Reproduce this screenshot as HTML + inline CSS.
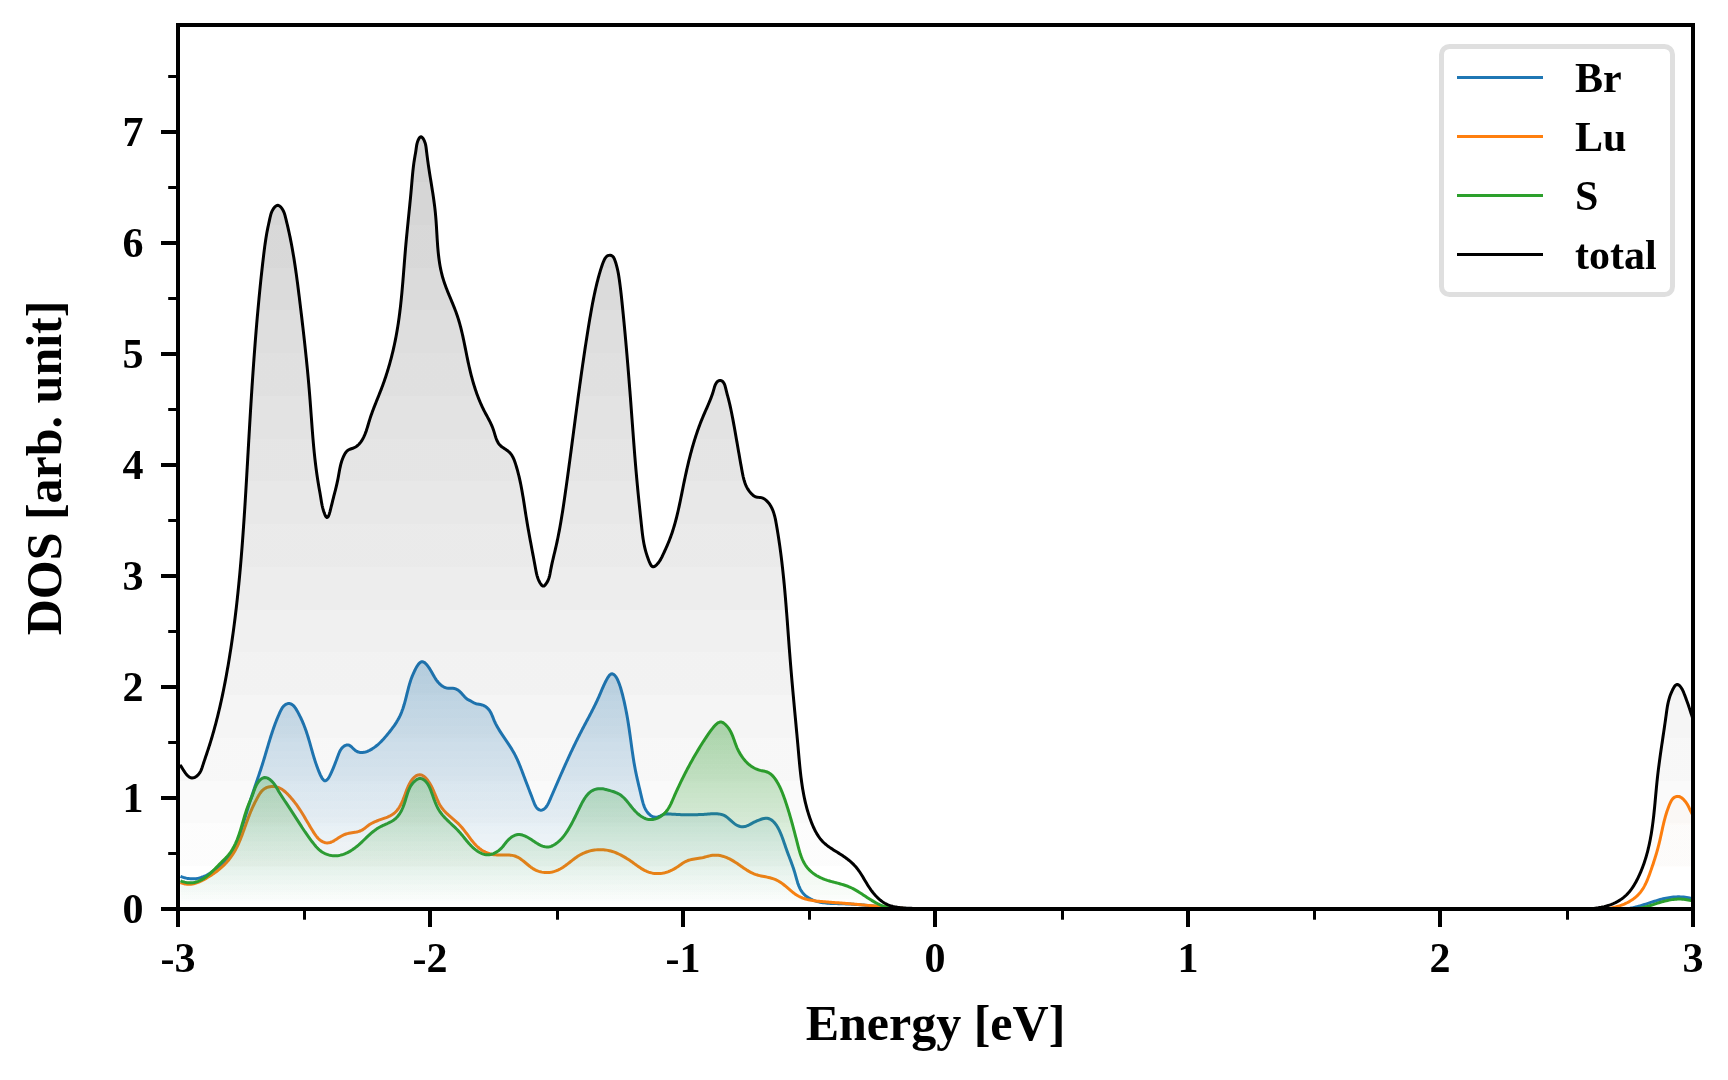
<!DOCTYPE html>
<html><head><meta charset="utf-8"><style>
html,body{margin:0;padding:0;background:#fff;}
svg{display:block;}
.t,.l{will-change:transform;}
.t{font-family:"Liberation Serif",serif;font-weight:bold;font-size:42px;fill:#000;}
.l{font-family:"Liberation Serif",serif;font-weight:bold;font-size:50px;fill:#000;}
</style></head><body>
<svg width="1728" height="1080" viewBox="0 0 1728 1080">
<defs><clipPath id="ax"><rect x="178.0" y="25.0" width="1515.0" height="884.0"/></clipPath><linearGradient id="g_br" gradientUnits="userSpaceOnUse" x1="0" y1="909.0" x2="0" y2="76.50"><stop offset="0.0000" stop-color="#1f77b4" stop-opacity="0.0000"/><stop offset="0.0100" stop-color="#1f77b4" stop-opacity="0.0000"/><stop offset="0.0100" stop-color="#1f77b4" stop-opacity="0.0101"/><stop offset="0.0200" stop-color="#1f77b4" stop-opacity="0.0101"/><stop offset="0.0200" stop-color="#1f77b4" stop-opacity="0.0202"/><stop offset="0.0300" stop-color="#1f77b4" stop-opacity="0.0202"/><stop offset="0.0300" stop-color="#1f77b4" stop-opacity="0.0303"/><stop offset="0.0400" stop-color="#1f77b4" stop-opacity="0.0303"/><stop offset="0.0400" stop-color="#1f77b4" stop-opacity="0.0404"/><stop offset="0.0500" stop-color="#1f77b4" stop-opacity="0.0404"/><stop offset="0.0500" stop-color="#1f77b4" stop-opacity="0.0505"/><stop offset="0.0600" stop-color="#1f77b4" stop-opacity="0.0505"/><stop offset="0.0600" stop-color="#1f77b4" stop-opacity="0.0606"/><stop offset="0.0700" stop-color="#1f77b4" stop-opacity="0.0606"/><stop offset="0.0700" stop-color="#1f77b4" stop-opacity="0.0707"/><stop offset="0.0800" stop-color="#1f77b4" stop-opacity="0.0707"/><stop offset="0.0800" stop-color="#1f77b4" stop-opacity="0.0808"/><stop offset="0.0900" stop-color="#1f77b4" stop-opacity="0.0808"/><stop offset="0.0900" stop-color="#1f77b4" stop-opacity="0.0909"/><stop offset="0.1000" stop-color="#1f77b4" stop-opacity="0.0909"/><stop offset="0.1000" stop-color="#1f77b4" stop-opacity="0.1010"/><stop offset="0.1100" stop-color="#1f77b4" stop-opacity="0.1010"/><stop offset="0.1100" stop-color="#1f77b4" stop-opacity="0.1111"/><stop offset="0.1200" stop-color="#1f77b4" stop-opacity="0.1111"/><stop offset="0.1200" stop-color="#1f77b4" stop-opacity="0.1212"/><stop offset="0.1300" stop-color="#1f77b4" stop-opacity="0.1212"/><stop offset="0.1300" stop-color="#1f77b4" stop-opacity="0.1313"/><stop offset="0.1400" stop-color="#1f77b4" stop-opacity="0.1313"/><stop offset="0.1400" stop-color="#1f77b4" stop-opacity="0.1414"/><stop offset="0.1500" stop-color="#1f77b4" stop-opacity="0.1414"/><stop offset="0.1500" stop-color="#1f77b4" stop-opacity="0.1515"/><stop offset="0.1600" stop-color="#1f77b4" stop-opacity="0.1515"/><stop offset="0.1600" stop-color="#1f77b4" stop-opacity="0.1616"/><stop offset="0.1700" stop-color="#1f77b4" stop-opacity="0.1616"/><stop offset="0.1700" stop-color="#1f77b4" stop-opacity="0.1717"/><stop offset="0.1800" stop-color="#1f77b4" stop-opacity="0.1717"/><stop offset="0.1800" stop-color="#1f77b4" stop-opacity="0.1818"/><stop offset="0.1900" stop-color="#1f77b4" stop-opacity="0.1818"/><stop offset="0.1900" stop-color="#1f77b4" stop-opacity="0.1919"/><stop offset="0.2000" stop-color="#1f77b4" stop-opacity="0.1919"/><stop offset="0.2000" stop-color="#1f77b4" stop-opacity="0.2020"/><stop offset="0.2100" stop-color="#1f77b4" stop-opacity="0.2020"/><stop offset="0.2100" stop-color="#1f77b4" stop-opacity="0.2121"/><stop offset="0.2200" stop-color="#1f77b4" stop-opacity="0.2121"/><stop offset="0.2200" stop-color="#1f77b4" stop-opacity="0.2222"/><stop offset="0.2300" stop-color="#1f77b4" stop-opacity="0.2222"/><stop offset="0.2300" stop-color="#1f77b4" stop-opacity="0.2323"/><stop offset="0.2400" stop-color="#1f77b4" stop-opacity="0.2323"/><stop offset="0.2400" stop-color="#1f77b4" stop-opacity="0.2424"/><stop offset="0.2500" stop-color="#1f77b4" stop-opacity="0.2424"/><stop offset="0.2500" stop-color="#1f77b4" stop-opacity="0.2525"/><stop offset="0.2600" stop-color="#1f77b4" stop-opacity="0.2525"/><stop offset="0.2600" stop-color="#1f77b4" stop-opacity="0.2626"/><stop offset="0.2700" stop-color="#1f77b4" stop-opacity="0.2626"/><stop offset="0.2700" stop-color="#1f77b4" stop-opacity="0.2727"/><stop offset="0.2800" stop-color="#1f77b4" stop-opacity="0.2727"/><stop offset="0.2800" stop-color="#1f77b4" stop-opacity="0.2828"/><stop offset="0.2900" stop-color="#1f77b4" stop-opacity="0.2828"/><stop offset="0.2900" stop-color="#1f77b4" stop-opacity="0.2929"/><stop offset="0.3000" stop-color="#1f77b4" stop-opacity="0.2929"/><stop offset="0.3000" stop-color="#1f77b4" stop-opacity="0.3030"/><stop offset="0.3100" stop-color="#1f77b4" stop-opacity="0.3030"/><stop offset="0.3100" stop-color="#1f77b4" stop-opacity="0.3131"/><stop offset="0.3200" stop-color="#1f77b4" stop-opacity="0.3131"/><stop offset="0.3200" stop-color="#1f77b4" stop-opacity="0.3232"/><stop offset="0.3300" stop-color="#1f77b4" stop-opacity="0.3232"/><stop offset="0.3300" stop-color="#1f77b4" stop-opacity="0.3333"/><stop offset="0.3400" stop-color="#1f77b4" stop-opacity="0.3333"/><stop offset="0.3400" stop-color="#1f77b4" stop-opacity="0.3434"/><stop offset="0.3500" stop-color="#1f77b4" stop-opacity="0.3434"/><stop offset="0.3500" stop-color="#1f77b4" stop-opacity="0.3535"/><stop offset="0.3600" stop-color="#1f77b4" stop-opacity="0.3535"/><stop offset="0.3600" stop-color="#1f77b4" stop-opacity="0.3636"/><stop offset="0.3700" stop-color="#1f77b4" stop-opacity="0.3636"/><stop offset="0.3700" stop-color="#1f77b4" stop-opacity="0.3737"/><stop offset="0.3800" stop-color="#1f77b4" stop-opacity="0.3737"/><stop offset="0.3800" stop-color="#1f77b4" stop-opacity="0.3838"/><stop offset="0.3900" stop-color="#1f77b4" stop-opacity="0.3838"/><stop offset="0.3900" stop-color="#1f77b4" stop-opacity="0.3939"/><stop offset="0.4000" stop-color="#1f77b4" stop-opacity="0.3939"/><stop offset="0.4000" stop-color="#1f77b4" stop-opacity="0.4040"/><stop offset="0.4100" stop-color="#1f77b4" stop-opacity="0.4040"/><stop offset="0.4100" stop-color="#1f77b4" stop-opacity="0.4141"/><stop offset="0.4200" stop-color="#1f77b4" stop-opacity="0.4141"/><stop offset="0.4200" stop-color="#1f77b4" stop-opacity="0.4242"/><stop offset="0.4300" stop-color="#1f77b4" stop-opacity="0.4242"/><stop offset="0.4300" stop-color="#1f77b4" stop-opacity="0.4343"/><stop offset="0.4400" stop-color="#1f77b4" stop-opacity="0.4343"/><stop offset="0.4400" stop-color="#1f77b4" stop-opacity="0.4444"/><stop offset="0.4500" stop-color="#1f77b4" stop-opacity="0.4444"/><stop offset="0.4500" stop-color="#1f77b4" stop-opacity="0.4545"/><stop offset="0.4600" stop-color="#1f77b4" stop-opacity="0.4545"/><stop offset="0.4600" stop-color="#1f77b4" stop-opacity="0.4646"/><stop offset="0.4700" stop-color="#1f77b4" stop-opacity="0.4646"/><stop offset="0.4700" stop-color="#1f77b4" stop-opacity="0.4747"/><stop offset="0.4800" stop-color="#1f77b4" stop-opacity="0.4747"/><stop offset="0.4800" stop-color="#1f77b4" stop-opacity="0.4848"/><stop offset="0.4900" stop-color="#1f77b4" stop-opacity="0.4848"/><stop offset="0.4900" stop-color="#1f77b4" stop-opacity="0.4949"/><stop offset="0.5000" stop-color="#1f77b4" stop-opacity="0.4949"/><stop offset="0.5000" stop-color="#1f77b4" stop-opacity="0.5051"/><stop offset="0.5100" stop-color="#1f77b4" stop-opacity="0.5051"/><stop offset="0.5100" stop-color="#1f77b4" stop-opacity="0.5152"/><stop offset="0.5200" stop-color="#1f77b4" stop-opacity="0.5152"/><stop offset="0.5200" stop-color="#1f77b4" stop-opacity="0.5253"/><stop offset="0.5300" stop-color="#1f77b4" stop-opacity="0.5253"/><stop offset="0.5300" stop-color="#1f77b4" stop-opacity="0.5354"/><stop offset="0.5400" stop-color="#1f77b4" stop-opacity="0.5354"/><stop offset="0.5400" stop-color="#1f77b4" stop-opacity="0.5455"/><stop offset="0.5500" stop-color="#1f77b4" stop-opacity="0.5455"/><stop offset="0.5500" stop-color="#1f77b4" stop-opacity="0.5556"/><stop offset="0.5600" stop-color="#1f77b4" stop-opacity="0.5556"/><stop offset="0.5600" stop-color="#1f77b4" stop-opacity="0.5657"/><stop offset="0.5700" stop-color="#1f77b4" stop-opacity="0.5657"/><stop offset="0.5700" stop-color="#1f77b4" stop-opacity="0.5758"/><stop offset="0.5800" stop-color="#1f77b4" stop-opacity="0.5758"/><stop offset="0.5800" stop-color="#1f77b4" stop-opacity="0.5859"/><stop offset="0.5900" stop-color="#1f77b4" stop-opacity="0.5859"/><stop offset="0.5900" stop-color="#1f77b4" stop-opacity="0.5960"/><stop offset="0.6000" stop-color="#1f77b4" stop-opacity="0.5960"/><stop offset="0.6000" stop-color="#1f77b4" stop-opacity="0.6061"/><stop offset="0.6100" stop-color="#1f77b4" stop-opacity="0.6061"/><stop offset="0.6100" stop-color="#1f77b4" stop-opacity="0.6162"/><stop offset="0.6200" stop-color="#1f77b4" stop-opacity="0.6162"/><stop offset="0.6200" stop-color="#1f77b4" stop-opacity="0.6263"/><stop offset="0.6300" stop-color="#1f77b4" stop-opacity="0.6263"/><stop offset="0.6300" stop-color="#1f77b4" stop-opacity="0.6364"/><stop offset="0.6400" stop-color="#1f77b4" stop-opacity="0.6364"/><stop offset="0.6400" stop-color="#1f77b4" stop-opacity="0.6465"/><stop offset="0.6500" stop-color="#1f77b4" stop-opacity="0.6465"/><stop offset="0.6500" stop-color="#1f77b4" stop-opacity="0.6566"/><stop offset="0.6600" stop-color="#1f77b4" stop-opacity="0.6566"/><stop offset="0.6600" stop-color="#1f77b4" stop-opacity="0.6667"/><stop offset="0.6700" stop-color="#1f77b4" stop-opacity="0.6667"/><stop offset="0.6700" stop-color="#1f77b4" stop-opacity="0.6768"/><stop offset="0.6800" stop-color="#1f77b4" stop-opacity="0.6768"/><stop offset="0.6800" stop-color="#1f77b4" stop-opacity="0.6869"/><stop offset="0.6900" stop-color="#1f77b4" stop-opacity="0.6869"/><stop offset="0.6900" stop-color="#1f77b4" stop-opacity="0.6970"/><stop offset="0.7000" stop-color="#1f77b4" stop-opacity="0.6970"/><stop offset="0.7000" stop-color="#1f77b4" stop-opacity="0.7071"/><stop offset="0.7100" stop-color="#1f77b4" stop-opacity="0.7071"/><stop offset="0.7100" stop-color="#1f77b4" stop-opacity="0.7172"/><stop offset="0.7200" stop-color="#1f77b4" stop-opacity="0.7172"/><stop offset="0.7200" stop-color="#1f77b4" stop-opacity="0.7273"/><stop offset="0.7300" stop-color="#1f77b4" stop-opacity="0.7273"/><stop offset="0.7300" stop-color="#1f77b4" stop-opacity="0.7374"/><stop offset="0.7400" stop-color="#1f77b4" stop-opacity="0.7374"/><stop offset="0.7400" stop-color="#1f77b4" stop-opacity="0.7475"/><stop offset="0.7500" stop-color="#1f77b4" stop-opacity="0.7475"/><stop offset="0.7500" stop-color="#1f77b4" stop-opacity="0.7576"/><stop offset="0.7600" stop-color="#1f77b4" stop-opacity="0.7576"/><stop offset="0.7600" stop-color="#1f77b4" stop-opacity="0.7677"/><stop offset="0.7700" stop-color="#1f77b4" stop-opacity="0.7677"/><stop offset="0.7700" stop-color="#1f77b4" stop-opacity="0.7778"/><stop offset="0.7800" stop-color="#1f77b4" stop-opacity="0.7778"/><stop offset="0.7800" stop-color="#1f77b4" stop-opacity="0.7879"/><stop offset="0.7900" stop-color="#1f77b4" stop-opacity="0.7879"/><stop offset="0.7900" stop-color="#1f77b4" stop-opacity="0.7980"/><stop offset="0.8000" stop-color="#1f77b4" stop-opacity="0.7980"/><stop offset="0.8000" stop-color="#1f77b4" stop-opacity="0.8081"/><stop offset="0.8100" stop-color="#1f77b4" stop-opacity="0.8081"/><stop offset="0.8100" stop-color="#1f77b4" stop-opacity="0.8182"/><stop offset="0.8200" stop-color="#1f77b4" stop-opacity="0.8182"/><stop offset="0.8200" stop-color="#1f77b4" stop-opacity="0.8283"/><stop offset="0.8300" stop-color="#1f77b4" stop-opacity="0.8283"/><stop offset="0.8300" stop-color="#1f77b4" stop-opacity="0.8384"/><stop offset="0.8400" stop-color="#1f77b4" stop-opacity="0.8384"/><stop offset="0.8400" stop-color="#1f77b4" stop-opacity="0.8485"/><stop offset="0.8500" stop-color="#1f77b4" stop-opacity="0.8485"/><stop offset="0.8500" stop-color="#1f77b4" stop-opacity="0.8586"/><stop offset="0.8600" stop-color="#1f77b4" stop-opacity="0.8586"/><stop offset="0.8600" stop-color="#1f77b4" stop-opacity="0.8687"/><stop offset="0.8700" stop-color="#1f77b4" stop-opacity="0.8687"/><stop offset="0.8700" stop-color="#1f77b4" stop-opacity="0.8788"/><stop offset="0.8800" stop-color="#1f77b4" stop-opacity="0.8788"/><stop offset="0.8800" stop-color="#1f77b4" stop-opacity="0.8889"/><stop offset="0.8900" stop-color="#1f77b4" stop-opacity="0.8889"/><stop offset="0.8900" stop-color="#1f77b4" stop-opacity="0.8990"/><stop offset="0.9000" stop-color="#1f77b4" stop-opacity="0.8990"/><stop offset="0.9000" stop-color="#1f77b4" stop-opacity="0.9091"/><stop offset="0.9100" stop-color="#1f77b4" stop-opacity="0.9091"/><stop offset="0.9100" stop-color="#1f77b4" stop-opacity="0.9192"/><stop offset="0.9200" stop-color="#1f77b4" stop-opacity="0.9192"/><stop offset="0.9200" stop-color="#1f77b4" stop-opacity="0.9293"/><stop offset="0.9300" stop-color="#1f77b4" stop-opacity="0.9293"/><stop offset="0.9300" stop-color="#1f77b4" stop-opacity="0.9394"/><stop offset="0.9400" stop-color="#1f77b4" stop-opacity="0.9394"/><stop offset="0.9400" stop-color="#1f77b4" stop-opacity="0.9495"/><stop offset="0.9500" stop-color="#1f77b4" stop-opacity="0.9495"/><stop offset="0.9500" stop-color="#1f77b4" stop-opacity="0.9596"/><stop offset="0.9600" stop-color="#1f77b4" stop-opacity="0.9596"/><stop offset="0.9600" stop-color="#1f77b4" stop-opacity="0.9697"/><stop offset="0.9700" stop-color="#1f77b4" stop-opacity="0.9697"/><stop offset="0.9700" stop-color="#1f77b4" stop-opacity="0.9798"/><stop offset="0.9800" stop-color="#1f77b4" stop-opacity="0.9798"/><stop offset="0.9800" stop-color="#1f77b4" stop-opacity="0.9899"/><stop offset="0.9900" stop-color="#1f77b4" stop-opacity="0.9899"/><stop offset="0.9900" stop-color="#1f77b4" stop-opacity="1.0000"/><stop offset="1.0000" stop-color="#1f77b4" stop-opacity="1.0000"/></linearGradient><linearGradient id="g_lu" gradientUnits="userSpaceOnUse" x1="0" y1="909.0" x2="0" y2="-3309.00"><stop offset="0.0000" stop-color="#ff7f0e" stop-opacity="0.0000"/><stop offset="0.0100" stop-color="#ff7f0e" stop-opacity="0.0000"/><stop offset="0.0100" stop-color="#ff7f0e" stop-opacity="0.0101"/><stop offset="0.0200" stop-color="#ff7f0e" stop-opacity="0.0101"/><stop offset="0.0200" stop-color="#ff7f0e" stop-opacity="0.0202"/><stop offset="0.0300" stop-color="#ff7f0e" stop-opacity="0.0202"/><stop offset="0.0300" stop-color="#ff7f0e" stop-opacity="0.0303"/><stop offset="0.0400" stop-color="#ff7f0e" stop-opacity="0.0303"/><stop offset="0.0400" stop-color="#ff7f0e" stop-opacity="0.0404"/><stop offset="0.0500" stop-color="#ff7f0e" stop-opacity="0.0404"/><stop offset="0.0500" stop-color="#ff7f0e" stop-opacity="0.0505"/><stop offset="0.0600" stop-color="#ff7f0e" stop-opacity="0.0505"/><stop offset="0.0600" stop-color="#ff7f0e" stop-opacity="0.0606"/><stop offset="0.0700" stop-color="#ff7f0e" stop-opacity="0.0606"/><stop offset="0.0700" stop-color="#ff7f0e" stop-opacity="0.0707"/><stop offset="0.0800" stop-color="#ff7f0e" stop-opacity="0.0707"/><stop offset="0.0800" stop-color="#ff7f0e" stop-opacity="0.0808"/><stop offset="0.0900" stop-color="#ff7f0e" stop-opacity="0.0808"/><stop offset="0.0900" stop-color="#ff7f0e" stop-opacity="0.0909"/><stop offset="0.1000" stop-color="#ff7f0e" stop-opacity="0.0909"/><stop offset="0.1000" stop-color="#ff7f0e" stop-opacity="0.1010"/><stop offset="0.1100" stop-color="#ff7f0e" stop-opacity="0.1010"/><stop offset="0.1100" stop-color="#ff7f0e" stop-opacity="0.1111"/><stop offset="0.1200" stop-color="#ff7f0e" stop-opacity="0.1111"/><stop offset="0.1200" stop-color="#ff7f0e" stop-opacity="0.1212"/><stop offset="0.1300" stop-color="#ff7f0e" stop-opacity="0.1212"/><stop offset="0.1300" stop-color="#ff7f0e" stop-opacity="0.1313"/><stop offset="0.1400" stop-color="#ff7f0e" stop-opacity="0.1313"/><stop offset="0.1400" stop-color="#ff7f0e" stop-opacity="0.1414"/><stop offset="0.1500" stop-color="#ff7f0e" stop-opacity="0.1414"/><stop offset="0.1500" stop-color="#ff7f0e" stop-opacity="0.1515"/><stop offset="0.1600" stop-color="#ff7f0e" stop-opacity="0.1515"/><stop offset="0.1600" stop-color="#ff7f0e" stop-opacity="0.1616"/><stop offset="0.1700" stop-color="#ff7f0e" stop-opacity="0.1616"/><stop offset="0.1700" stop-color="#ff7f0e" stop-opacity="0.1717"/><stop offset="0.1800" stop-color="#ff7f0e" stop-opacity="0.1717"/><stop offset="0.1800" stop-color="#ff7f0e" stop-opacity="0.1818"/><stop offset="0.1900" stop-color="#ff7f0e" stop-opacity="0.1818"/><stop offset="0.1900" stop-color="#ff7f0e" stop-opacity="0.1919"/><stop offset="0.2000" stop-color="#ff7f0e" stop-opacity="0.1919"/><stop offset="0.2000" stop-color="#ff7f0e" stop-opacity="0.2020"/><stop offset="0.2100" stop-color="#ff7f0e" stop-opacity="0.2020"/><stop offset="0.2100" stop-color="#ff7f0e" stop-opacity="0.2121"/><stop offset="0.2200" stop-color="#ff7f0e" stop-opacity="0.2121"/></linearGradient><linearGradient id="g_s" gradientUnits="userSpaceOnUse" x1="0" y1="909.0" x2="0" y2="426.15"><stop offset="0.0000" stop-color="#2ca02c" stop-opacity="0.0000"/><stop offset="0.0100" stop-color="#2ca02c" stop-opacity="0.0000"/><stop offset="0.0100" stop-color="#2ca02c" stop-opacity="0.0101"/><stop offset="0.0200" stop-color="#2ca02c" stop-opacity="0.0101"/><stop offset="0.0200" stop-color="#2ca02c" stop-opacity="0.0202"/><stop offset="0.0300" stop-color="#2ca02c" stop-opacity="0.0202"/><stop offset="0.0300" stop-color="#2ca02c" stop-opacity="0.0303"/><stop offset="0.0400" stop-color="#2ca02c" stop-opacity="0.0303"/><stop offset="0.0400" stop-color="#2ca02c" stop-opacity="0.0404"/><stop offset="0.0500" stop-color="#2ca02c" stop-opacity="0.0404"/><stop offset="0.0500" stop-color="#2ca02c" stop-opacity="0.0505"/><stop offset="0.0600" stop-color="#2ca02c" stop-opacity="0.0505"/><stop offset="0.0600" stop-color="#2ca02c" stop-opacity="0.0606"/><stop offset="0.0700" stop-color="#2ca02c" stop-opacity="0.0606"/><stop offset="0.0700" stop-color="#2ca02c" stop-opacity="0.0707"/><stop offset="0.0800" stop-color="#2ca02c" stop-opacity="0.0707"/><stop offset="0.0800" stop-color="#2ca02c" stop-opacity="0.0808"/><stop offset="0.0900" stop-color="#2ca02c" stop-opacity="0.0808"/><stop offset="0.0900" stop-color="#2ca02c" stop-opacity="0.0909"/><stop offset="0.1000" stop-color="#2ca02c" stop-opacity="0.0909"/><stop offset="0.1000" stop-color="#2ca02c" stop-opacity="0.1010"/><stop offset="0.1100" stop-color="#2ca02c" stop-opacity="0.1010"/><stop offset="0.1100" stop-color="#2ca02c" stop-opacity="0.1111"/><stop offset="0.1200" stop-color="#2ca02c" stop-opacity="0.1111"/><stop offset="0.1200" stop-color="#2ca02c" stop-opacity="0.1212"/><stop offset="0.1300" stop-color="#2ca02c" stop-opacity="0.1212"/><stop offset="0.1300" stop-color="#2ca02c" stop-opacity="0.1313"/><stop offset="0.1400" stop-color="#2ca02c" stop-opacity="0.1313"/><stop offset="0.1400" stop-color="#2ca02c" stop-opacity="0.1414"/><stop offset="0.1500" stop-color="#2ca02c" stop-opacity="0.1414"/><stop offset="0.1500" stop-color="#2ca02c" stop-opacity="0.1515"/><stop offset="0.1600" stop-color="#2ca02c" stop-opacity="0.1515"/><stop offset="0.1600" stop-color="#2ca02c" stop-opacity="0.1616"/><stop offset="0.1700" stop-color="#2ca02c" stop-opacity="0.1616"/><stop offset="0.1700" stop-color="#2ca02c" stop-opacity="0.1717"/><stop offset="0.1800" stop-color="#2ca02c" stop-opacity="0.1717"/><stop offset="0.1800" stop-color="#2ca02c" stop-opacity="0.1818"/><stop offset="0.1900" stop-color="#2ca02c" stop-opacity="0.1818"/><stop offset="0.1900" stop-color="#2ca02c" stop-opacity="0.1919"/><stop offset="0.2000" stop-color="#2ca02c" stop-opacity="0.1919"/><stop offset="0.2000" stop-color="#2ca02c" stop-opacity="0.2020"/><stop offset="0.2100" stop-color="#2ca02c" stop-opacity="0.2020"/><stop offset="0.2100" stop-color="#2ca02c" stop-opacity="0.2121"/><stop offset="0.2200" stop-color="#2ca02c" stop-opacity="0.2121"/><stop offset="0.2200" stop-color="#2ca02c" stop-opacity="0.2222"/><stop offset="0.2300" stop-color="#2ca02c" stop-opacity="0.2222"/><stop offset="0.2300" stop-color="#2ca02c" stop-opacity="0.2323"/><stop offset="0.2400" stop-color="#2ca02c" stop-opacity="0.2323"/><stop offset="0.2400" stop-color="#2ca02c" stop-opacity="0.2424"/><stop offset="0.2500" stop-color="#2ca02c" stop-opacity="0.2424"/><stop offset="0.2500" stop-color="#2ca02c" stop-opacity="0.2525"/><stop offset="0.2600" stop-color="#2ca02c" stop-opacity="0.2525"/><stop offset="0.2600" stop-color="#2ca02c" stop-opacity="0.2626"/><stop offset="0.2700" stop-color="#2ca02c" stop-opacity="0.2626"/><stop offset="0.2700" stop-color="#2ca02c" stop-opacity="0.2727"/><stop offset="0.2800" stop-color="#2ca02c" stop-opacity="0.2727"/><stop offset="0.2800" stop-color="#2ca02c" stop-opacity="0.2828"/><stop offset="0.2900" stop-color="#2ca02c" stop-opacity="0.2828"/><stop offset="0.2900" stop-color="#2ca02c" stop-opacity="0.2929"/><stop offset="0.3000" stop-color="#2ca02c" stop-opacity="0.2929"/><stop offset="0.3000" stop-color="#2ca02c" stop-opacity="0.3030"/><stop offset="0.3100" stop-color="#2ca02c" stop-opacity="0.3030"/><stop offset="0.3100" stop-color="#2ca02c" stop-opacity="0.3131"/><stop offset="0.3200" stop-color="#2ca02c" stop-opacity="0.3131"/><stop offset="0.3200" stop-color="#2ca02c" stop-opacity="0.3232"/><stop offset="0.3300" stop-color="#2ca02c" stop-opacity="0.3232"/><stop offset="0.3300" stop-color="#2ca02c" stop-opacity="0.3333"/><stop offset="0.3400" stop-color="#2ca02c" stop-opacity="0.3333"/><stop offset="0.3400" stop-color="#2ca02c" stop-opacity="0.3434"/><stop offset="0.3500" stop-color="#2ca02c" stop-opacity="0.3434"/><stop offset="0.3500" stop-color="#2ca02c" stop-opacity="0.3535"/><stop offset="0.3600" stop-color="#2ca02c" stop-opacity="0.3535"/><stop offset="0.3600" stop-color="#2ca02c" stop-opacity="0.3636"/><stop offset="0.3700" stop-color="#2ca02c" stop-opacity="0.3636"/><stop offset="0.3700" stop-color="#2ca02c" stop-opacity="0.3737"/><stop offset="0.3800" stop-color="#2ca02c" stop-opacity="0.3737"/><stop offset="0.3800" stop-color="#2ca02c" stop-opacity="0.3838"/><stop offset="0.3900" stop-color="#2ca02c" stop-opacity="0.3838"/><stop offset="0.3900" stop-color="#2ca02c" stop-opacity="0.3939"/><stop offset="0.4000" stop-color="#2ca02c" stop-opacity="0.3939"/><stop offset="0.4000" stop-color="#2ca02c" stop-opacity="0.4040"/><stop offset="0.4100" stop-color="#2ca02c" stop-opacity="0.4040"/><stop offset="0.4100" stop-color="#2ca02c" stop-opacity="0.4141"/><stop offset="0.4200" stop-color="#2ca02c" stop-opacity="0.4141"/><stop offset="0.4200" stop-color="#2ca02c" stop-opacity="0.4242"/><stop offset="0.4300" stop-color="#2ca02c" stop-opacity="0.4242"/><stop offset="0.4300" stop-color="#2ca02c" stop-opacity="0.4343"/><stop offset="0.4400" stop-color="#2ca02c" stop-opacity="0.4343"/><stop offset="0.4400" stop-color="#2ca02c" stop-opacity="0.4444"/><stop offset="0.4500" stop-color="#2ca02c" stop-opacity="0.4444"/><stop offset="0.4500" stop-color="#2ca02c" stop-opacity="0.4545"/><stop offset="0.4600" stop-color="#2ca02c" stop-opacity="0.4545"/><stop offset="0.4600" stop-color="#2ca02c" stop-opacity="0.4646"/><stop offset="0.4700" stop-color="#2ca02c" stop-opacity="0.4646"/><stop offset="0.4700" stop-color="#2ca02c" stop-opacity="0.4747"/><stop offset="0.4800" stop-color="#2ca02c" stop-opacity="0.4747"/><stop offset="0.4800" stop-color="#2ca02c" stop-opacity="0.4848"/><stop offset="0.4900" stop-color="#2ca02c" stop-opacity="0.4848"/><stop offset="0.4900" stop-color="#2ca02c" stop-opacity="0.4949"/><stop offset="0.5000" stop-color="#2ca02c" stop-opacity="0.4949"/><stop offset="0.5000" stop-color="#2ca02c" stop-opacity="0.5051"/><stop offset="0.5100" stop-color="#2ca02c" stop-opacity="0.5051"/><stop offset="0.5100" stop-color="#2ca02c" stop-opacity="0.5152"/><stop offset="0.5200" stop-color="#2ca02c" stop-opacity="0.5152"/><stop offset="0.5200" stop-color="#2ca02c" stop-opacity="0.5253"/><stop offset="0.5300" stop-color="#2ca02c" stop-opacity="0.5253"/><stop offset="0.5300" stop-color="#2ca02c" stop-opacity="0.5354"/><stop offset="0.5400" stop-color="#2ca02c" stop-opacity="0.5354"/><stop offset="0.5400" stop-color="#2ca02c" stop-opacity="0.5455"/><stop offset="0.5500" stop-color="#2ca02c" stop-opacity="0.5455"/><stop offset="0.5500" stop-color="#2ca02c" stop-opacity="0.5556"/><stop offset="0.5600" stop-color="#2ca02c" stop-opacity="0.5556"/><stop offset="0.5600" stop-color="#2ca02c" stop-opacity="0.5657"/><stop offset="0.5700" stop-color="#2ca02c" stop-opacity="0.5657"/><stop offset="0.5700" stop-color="#2ca02c" stop-opacity="0.5758"/><stop offset="0.5800" stop-color="#2ca02c" stop-opacity="0.5758"/><stop offset="0.5800" stop-color="#2ca02c" stop-opacity="0.5859"/><stop offset="0.5900" stop-color="#2ca02c" stop-opacity="0.5859"/><stop offset="0.5900" stop-color="#2ca02c" stop-opacity="0.5960"/><stop offset="0.6000" stop-color="#2ca02c" stop-opacity="0.5960"/><stop offset="0.6000" stop-color="#2ca02c" stop-opacity="0.6061"/><stop offset="0.6100" stop-color="#2ca02c" stop-opacity="0.6061"/><stop offset="0.6100" stop-color="#2ca02c" stop-opacity="0.6162"/><stop offset="0.6200" stop-color="#2ca02c" stop-opacity="0.6162"/><stop offset="0.6200" stop-color="#2ca02c" stop-opacity="0.6263"/><stop offset="0.6300" stop-color="#2ca02c" stop-opacity="0.6263"/><stop offset="0.6300" stop-color="#2ca02c" stop-opacity="0.6364"/><stop offset="0.6400" stop-color="#2ca02c" stop-opacity="0.6364"/><stop offset="0.6400" stop-color="#2ca02c" stop-opacity="0.6465"/><stop offset="0.6500" stop-color="#2ca02c" stop-opacity="0.6465"/><stop offset="0.6500" stop-color="#2ca02c" stop-opacity="0.6566"/><stop offset="0.6600" stop-color="#2ca02c" stop-opacity="0.6566"/><stop offset="0.6600" stop-color="#2ca02c" stop-opacity="0.6667"/><stop offset="0.6700" stop-color="#2ca02c" stop-opacity="0.6667"/><stop offset="0.6700" stop-color="#2ca02c" stop-opacity="0.6768"/><stop offset="0.6800" stop-color="#2ca02c" stop-opacity="0.6768"/><stop offset="0.6800" stop-color="#2ca02c" stop-opacity="0.6869"/><stop offset="0.6900" stop-color="#2ca02c" stop-opacity="0.6869"/><stop offset="0.6900" stop-color="#2ca02c" stop-opacity="0.6970"/><stop offset="0.7000" stop-color="#2ca02c" stop-opacity="0.6970"/><stop offset="0.7000" stop-color="#2ca02c" stop-opacity="0.7071"/><stop offset="0.7100" stop-color="#2ca02c" stop-opacity="0.7071"/><stop offset="0.7100" stop-color="#2ca02c" stop-opacity="0.7172"/><stop offset="0.7200" stop-color="#2ca02c" stop-opacity="0.7172"/><stop offset="0.7200" stop-color="#2ca02c" stop-opacity="0.7273"/><stop offset="0.7300" stop-color="#2ca02c" stop-opacity="0.7273"/><stop offset="0.7300" stop-color="#2ca02c" stop-opacity="0.7374"/><stop offset="0.7400" stop-color="#2ca02c" stop-opacity="0.7374"/><stop offset="0.7400" stop-color="#2ca02c" stop-opacity="0.7475"/><stop offset="0.7500" stop-color="#2ca02c" stop-opacity="0.7475"/><stop offset="0.7500" stop-color="#2ca02c" stop-opacity="0.7576"/><stop offset="0.7600" stop-color="#2ca02c" stop-opacity="0.7576"/><stop offset="0.7600" stop-color="#2ca02c" stop-opacity="0.7677"/><stop offset="0.7700" stop-color="#2ca02c" stop-opacity="0.7677"/><stop offset="0.7700" stop-color="#2ca02c" stop-opacity="0.7778"/><stop offset="0.7800" stop-color="#2ca02c" stop-opacity="0.7778"/><stop offset="0.7800" stop-color="#2ca02c" stop-opacity="0.7879"/><stop offset="0.7900" stop-color="#2ca02c" stop-opacity="0.7879"/><stop offset="0.7900" stop-color="#2ca02c" stop-opacity="0.7980"/><stop offset="0.8000" stop-color="#2ca02c" stop-opacity="0.7980"/><stop offset="0.8000" stop-color="#2ca02c" stop-opacity="0.8081"/><stop offset="0.8100" stop-color="#2ca02c" stop-opacity="0.8081"/><stop offset="0.8100" stop-color="#2ca02c" stop-opacity="0.8182"/><stop offset="0.8200" stop-color="#2ca02c" stop-opacity="0.8182"/><stop offset="0.8200" stop-color="#2ca02c" stop-opacity="0.8283"/><stop offset="0.8300" stop-color="#2ca02c" stop-opacity="0.8283"/><stop offset="0.8300" stop-color="#2ca02c" stop-opacity="0.8384"/><stop offset="0.8400" stop-color="#2ca02c" stop-opacity="0.8384"/><stop offset="0.8400" stop-color="#2ca02c" stop-opacity="0.8485"/><stop offset="0.8500" stop-color="#2ca02c" stop-opacity="0.8485"/><stop offset="0.8500" stop-color="#2ca02c" stop-opacity="0.8586"/><stop offset="0.8600" stop-color="#2ca02c" stop-opacity="0.8586"/><stop offset="0.8600" stop-color="#2ca02c" stop-opacity="0.8687"/><stop offset="0.8700" stop-color="#2ca02c" stop-opacity="0.8687"/><stop offset="0.8700" stop-color="#2ca02c" stop-opacity="0.8788"/><stop offset="0.8800" stop-color="#2ca02c" stop-opacity="0.8788"/><stop offset="0.8800" stop-color="#2ca02c" stop-opacity="0.8889"/><stop offset="0.8900" stop-color="#2ca02c" stop-opacity="0.8889"/><stop offset="0.8900" stop-color="#2ca02c" stop-opacity="0.8990"/><stop offset="0.9000" stop-color="#2ca02c" stop-opacity="0.8990"/><stop offset="0.9000" stop-color="#2ca02c" stop-opacity="0.9091"/><stop offset="0.9100" stop-color="#2ca02c" stop-opacity="0.9091"/><stop offset="0.9100" stop-color="#2ca02c" stop-opacity="0.9192"/><stop offset="0.9200" stop-color="#2ca02c" stop-opacity="0.9192"/><stop offset="0.9200" stop-color="#2ca02c" stop-opacity="0.9293"/><stop offset="0.9300" stop-color="#2ca02c" stop-opacity="0.9293"/><stop offset="0.9300" stop-color="#2ca02c" stop-opacity="0.9394"/><stop offset="0.9400" stop-color="#2ca02c" stop-opacity="0.9394"/><stop offset="0.9400" stop-color="#2ca02c" stop-opacity="0.9495"/><stop offset="0.9500" stop-color="#2ca02c" stop-opacity="0.9495"/><stop offset="0.9500" stop-color="#2ca02c" stop-opacity="0.9596"/><stop offset="0.9600" stop-color="#2ca02c" stop-opacity="0.9596"/><stop offset="0.9600" stop-color="#2ca02c" stop-opacity="0.9697"/><stop offset="0.9700" stop-color="#2ca02c" stop-opacity="0.9697"/><stop offset="0.9700" stop-color="#2ca02c" stop-opacity="0.9798"/><stop offset="0.9800" stop-color="#2ca02c" stop-opacity="0.9798"/><stop offset="0.9800" stop-color="#2ca02c" stop-opacity="0.9899"/><stop offset="0.9900" stop-color="#2ca02c" stop-opacity="0.9899"/><stop offset="0.9900" stop-color="#2ca02c" stop-opacity="1.0000"/><stop offset="1.0000" stop-color="#2ca02c" stop-opacity="1.0000"/></linearGradient><linearGradient id="g_total" gradientUnits="userSpaceOnUse" x1="0" y1="909.0" x2="0" y2="-3366.72"><stop offset="0.0000" stop-color="#000000" stop-opacity="0.0000"/><stop offset="0.0100" stop-color="#000000" stop-opacity="0.0000"/><stop offset="0.0100" stop-color="#000000" stop-opacity="0.0101"/><stop offset="0.0200" stop-color="#000000" stop-opacity="0.0101"/><stop offset="0.0200" stop-color="#000000" stop-opacity="0.0202"/><stop offset="0.0300" stop-color="#000000" stop-opacity="0.0202"/><stop offset="0.0300" stop-color="#000000" stop-opacity="0.0303"/><stop offset="0.0400" stop-color="#000000" stop-opacity="0.0303"/><stop offset="0.0400" stop-color="#000000" stop-opacity="0.0404"/><stop offset="0.0500" stop-color="#000000" stop-opacity="0.0404"/><stop offset="0.0500" stop-color="#000000" stop-opacity="0.0505"/><stop offset="0.0600" stop-color="#000000" stop-opacity="0.0505"/><stop offset="0.0600" stop-color="#000000" stop-opacity="0.0606"/><stop offset="0.0700" stop-color="#000000" stop-opacity="0.0606"/><stop offset="0.0700" stop-color="#000000" stop-opacity="0.0707"/><stop offset="0.0800" stop-color="#000000" stop-opacity="0.0707"/><stop offset="0.0800" stop-color="#000000" stop-opacity="0.0808"/><stop offset="0.0900" stop-color="#000000" stop-opacity="0.0808"/><stop offset="0.0900" stop-color="#000000" stop-opacity="0.0909"/><stop offset="0.1000" stop-color="#000000" stop-opacity="0.0909"/><stop offset="0.1000" stop-color="#000000" stop-opacity="0.1010"/><stop offset="0.1100" stop-color="#000000" stop-opacity="0.1010"/><stop offset="0.1100" stop-color="#000000" stop-opacity="0.1111"/><stop offset="0.1200" stop-color="#000000" stop-opacity="0.1111"/><stop offset="0.1200" stop-color="#000000" stop-opacity="0.1212"/><stop offset="0.1300" stop-color="#000000" stop-opacity="0.1212"/><stop offset="0.1300" stop-color="#000000" stop-opacity="0.1313"/><stop offset="0.1400" stop-color="#000000" stop-opacity="0.1313"/><stop offset="0.1400" stop-color="#000000" stop-opacity="0.1414"/><stop offset="0.1500" stop-color="#000000" stop-opacity="0.1414"/><stop offset="0.1500" stop-color="#000000" stop-opacity="0.1515"/><stop offset="0.1600" stop-color="#000000" stop-opacity="0.1515"/><stop offset="0.1600" stop-color="#000000" stop-opacity="0.1616"/><stop offset="0.1700" stop-color="#000000" stop-opacity="0.1616"/><stop offset="0.1700" stop-color="#000000" stop-opacity="0.1717"/><stop offset="0.1800" stop-color="#000000" stop-opacity="0.1717"/><stop offset="0.1800" stop-color="#000000" stop-opacity="0.1818"/><stop offset="0.1900" stop-color="#000000" stop-opacity="0.1818"/><stop offset="0.1900" stop-color="#000000" stop-opacity="0.1919"/><stop offset="0.2000" stop-color="#000000" stop-opacity="0.1919"/><stop offset="0.2000" stop-color="#000000" stop-opacity="0.2020"/><stop offset="0.2100" stop-color="#000000" stop-opacity="0.2020"/><stop offset="0.2100" stop-color="#000000" stop-opacity="0.2121"/><stop offset="0.2200" stop-color="#000000" stop-opacity="0.2121"/></linearGradient></defs>
<rect width="1728" height="1080" fill="#fff"/>
<g clip-path="url(#ax)"><path d="M180.50,876.28 L181.89,876.86 L183.31,877.36 L184.76,877.79 L186.22,878.14 L187.71,878.41 L189.20,878.61 L190.71,878.73 L192.22,878.78 L193.72,878.76 L195.23,878.66 L196.72,878.48 L198.19,878.23 L199.64,877.90 L201.07,877.51 L202.47,877.03 L203.84,876.49 L205.19,875.88 L206.51,875.22 L207.81,874.50 L209.09,873.74 L210.35,872.93 L211.59,872.09 L212.82,871.22 L214.04,870.32 L215.25,869.40 L216.46,868.46 L217.65,867.52 L218.84,866.57 L220.02,865.60 L221.18,864.62 L222.33,863.62 L223.46,862.61 L224.56,861.58 L225.64,860.53 L226.69,859.45 L227.71,858.36 L228.70,857.24 L229.65,856.09 L230.56,854.92 L231.43,853.72 L232.25,852.49 L233.03,851.23 L233.77,849.94 L234.47,848.63 L235.13,847.29 L235.76,845.94 L236.36,844.56 L236.94,843.17 L237.48,841.76 L238.01,840.34 L238.51,838.91 L239.00,837.47 L239.47,836.03 L239.93,834.57 L240.38,833.12 L240.82,831.67 L241.25,830.21 L241.69,828.76 L242.12,827.31 L242.55,825.87 L242.99,824.43 L243.42,822.99 L243.85,821.56 L244.28,820.12 L244.71,818.69 L245.14,817.26 L245.57,815.84 L246.00,814.41 L246.43,812.99 L246.87,811.57 L247.30,810.15 L247.74,808.73 L248.18,807.32 L248.62,805.90 L249.06,804.48 L249.51,803.07 L249.96,801.65 L250.41,800.24 L250.87,798.82 L251.33,797.41 L251.80,795.99 L252.26,794.58 L252.74,793.16 L253.21,791.74 L253.69,790.32 L254.17,788.90 L254.65,787.49 L255.13,786.07 L255.62,784.65 L256.10,783.22 L256.59,781.80 L257.07,780.38 L257.56,778.96 L258.04,777.53 L258.52,776.11 L259.00,774.68 L259.48,773.26 L259.95,771.83 L260.43,770.40 L260.89,768.97 L261.36,767.55 L261.82,766.12 L262.28,764.68 L262.73,763.25 L263.17,761.82 L263.61,760.39 L264.05,758.95 L264.49,757.52 L264.92,756.09 L265.34,754.65 L265.77,753.22 L266.19,751.78 L266.62,750.35 L267.04,748.92 L267.47,747.48 L267.89,746.05 L268.32,744.62 L268.75,743.19 L269.18,741.76 L269.62,740.33 L270.06,738.90 L270.50,737.48 L270.95,736.05 L271.41,734.63 L271.87,733.21 L272.34,731.79 L272.81,730.37 L273.30,728.96 L273.79,727.55 L274.29,726.14 L274.81,724.73 L275.33,723.33 L275.87,721.93 L276.41,720.53 L276.97,719.14 L277.54,717.75 L278.13,716.36 L278.73,714.98 L279.34,713.60 L279.97,712.22 L280.61,710.85 L281.30,709.50 L282.05,708.20 L282.92,706.97 L283.92,705.84 L285.10,704.85 L286.42,704.07 L287.85,703.60 L289.33,703.55 L290.79,703.91 L292.13,704.59 L293.31,705.51 L294.34,706.60 L295.26,707.82 L296.09,709.13 L296.88,710.46 L297.64,711.80 L298.37,713.14 L299.08,714.48 L299.77,715.82 L300.43,717.16 L301.08,718.50 L301.70,719.85 L302.30,721.21 L302.88,722.56 L303.45,723.93 L304.00,725.29 L304.53,726.67 L305.05,728.05 L305.56,729.44 L306.05,730.84 L306.53,732.25 L307.01,733.67 L307.47,735.10 L307.92,736.53 L308.37,737.99 L308.81,739.45 L309.24,740.92 L309.67,742.40 L310.09,743.88 L310.51,745.36 L310.92,746.83 L311.33,748.29 L311.74,749.74 L312.14,751.17 L312.54,752.59 L312.94,753.98 L313.34,755.34 L313.73,756.67 L314.13,757.99 L314.54,759.31 L314.96,760.63 L315.41,761.98 L315.88,763.36 L316.37,764.78 L316.90,766.26 L317.47,767.81 L318.09,769.44 L318.75,771.16 L319.47,772.93 L320.22,774.69 L321.02,776.34 L321.84,777.84 L322.70,779.11 L323.57,780.07 L324.47,780.65 L325.37,780.79 L326.29,780.45 L327.20,779.68 L328.10,778.57 L328.99,777.19 L329.85,775.63 L330.67,773.97 L331.45,772.28 L332.17,770.64 L332.85,769.07 L333.47,767.57 L334.06,766.13 L334.62,764.73 L335.15,763.38 L335.66,762.04 L336.16,760.73 L336.64,759.42 L337.13,758.11 L337.62,756.79 L338.12,755.45 L338.64,754.08 L339.20,752.69 L339.83,751.32 L340.55,749.98 L341.39,748.72 L342.38,747.55 L343.56,746.50 L344.91,745.64 L346.36,745.07 L347.84,744.91 L349.25,745.28 L350.59,746.11 L351.88,747.23 L353.15,748.48 L354.42,749.69 L355.72,750.71 L357.05,751.49 L358.41,752.04 L359.79,752.39 L361.19,752.54 L362.59,752.52 L364.00,752.34 L365.41,752.02 L366.80,751.57 L368.19,751.01 L369.55,750.37 L370.89,749.64 L372.19,748.86 L373.46,748.03 L374.70,747.15 L375.91,746.23 L377.09,745.28 L378.23,744.29 L379.36,743.26 L380.45,742.21 L381.53,741.13 L382.58,740.03 L383.61,738.91 L384.63,737.77 L385.62,736.62 L386.60,735.46 L387.57,734.29 L388.52,733.12 L389.46,731.95 L390.39,730.78 L391.31,729.60 L392.20,728.41 L393.09,727.22 L393.95,726.02 L394.79,724.81 L395.61,723.58 L396.40,722.35 L397.17,721.09 L397.92,719.82 L398.63,718.53 L399.31,717.22 L399.97,715.89 L400.59,714.53 L401.18,713.16 L401.74,711.76 L402.27,710.34 L402.78,708.91 L403.26,707.46 L403.72,706.00 L404.17,704.54 L404.59,703.06 L405.00,701.58 L405.40,700.10 L405.79,698.61 L406.17,697.13 L406.54,695.65 L406.90,694.17 L407.27,692.70 L407.63,691.24 L408.00,689.80 L408.36,688.36 L408.74,686.94 L409.12,685.54 L409.51,684.16 L409.91,682.80 L410.33,681.46 L410.77,680.13 L411.23,678.80 L411.73,677.46 L412.26,676.10 L412.84,674.71 L413.47,673.28 L414.15,671.80 L414.90,670.26 L415.71,668.65 L416.59,667.04 L417.52,665.51 L418.51,664.13 L419.56,662.99 L420.64,662.16 L421.77,661.73 L422.94,661.78 L424.13,662.30 L425.31,663.20 L426.46,664.37 L427.55,665.69 L428.56,667.05 L429.46,668.38 L430.28,669.68 L431.04,670.96 L431.76,672.23 L432.46,673.49 L433.16,674.75 L433.88,676.03 L434.63,677.30 L435.42,678.57 L436.26,679.82 L437.16,681.04 L438.11,682.21 L439.13,683.34 L440.23,684.41 L441.40,685.40 L442.65,686.28 L443.97,687.03 L445.35,687.62 L446.79,688.01 L448.27,688.21 L449.79,688.28 L451.32,688.30 L452.82,688.35 L454.29,688.53 L455.70,688.92 L457.03,689.53 L458.30,690.33 L459.51,691.28 L460.65,692.35 L461.73,693.48 L462.76,694.66 L463.77,695.83 L464.79,696.95 L465.83,698.00 L466.93,698.94 L468.12,699.71 L469.40,700.33 L470.71,700.97 L471.99,701.70 L473.28,702.46 L474.60,703.15 L475.99,703.71 L477.46,704.09 L478.97,704.35 L480.50,704.59 L481.98,704.91 L483.39,705.39 L484.70,706.04 L485.94,706.84 L487.08,707.78 L488.13,708.83 L489.09,709.98 L489.96,711.22 L490.74,712.52 L491.42,713.87 L492.04,715.25 L492.62,716.66 L493.17,718.07 L493.73,719.48 L494.31,720.88 L494.93,722.25 L495.58,723.60 L496.27,724.93 L496.98,726.25 L497.71,727.55 L498.47,728.84 L499.25,730.12 L500.04,731.38 L500.85,732.64 L501.67,733.90 L502.50,735.14 L503.34,736.39 L504.18,737.63 L505.02,738.87 L505.86,740.11 L506.70,741.35 L507.54,742.59 L508.37,743.84 L509.20,745.09 L510.01,746.35 L510.81,747.61 L511.60,748.88 L512.38,750.16 L513.13,751.45 L513.87,752.76 L514.59,754.07 L515.28,755.40 L515.95,756.74 L516.60,758.09 L517.23,759.45 L517.85,760.82 L518.45,762.20 L519.03,763.59 L519.61,764.98 L520.17,766.38 L520.72,767.78 L521.27,769.18 L521.80,770.59 L522.33,771.99 L522.86,773.40 L523.39,774.80 L523.91,776.20 L524.44,777.59 L524.97,778.99 L525.49,780.38 L526.02,781.77 L526.55,783.15 L527.08,784.54 L527.62,785.92 L528.15,787.31 L528.68,788.69 L529.22,790.08 L529.75,791.47 L530.29,792.86 L530.82,794.26 L531.36,795.66 L531.90,797.07 L532.44,798.48 L532.97,799.90 L533.51,801.33 L534.05,802.76 L534.62,804.18 L535.27,805.56 L536.03,806.87 L536.96,808.07 L538.09,809.12 L539.41,809.91 L540.83,810.26 L542.26,810.03 L543.62,809.32 L544.86,808.34 L545.92,807.23 L546.83,806.02 L547.62,804.75 L548.32,803.42 L548.95,802.05 L549.56,800.67 L550.16,799.29 L550.77,797.91 L551.37,796.52 L551.97,795.14 L552.57,793.76 L553.17,792.38 L553.76,791.00 L554.36,789.63 L554.96,788.25 L555.55,786.87 L556.15,785.50 L556.75,784.12 L557.35,782.75 L557.94,781.37 L558.54,780.00 L559.14,778.63 L559.74,777.26 L560.34,775.89 L560.94,774.52 L561.54,773.15 L562.14,771.78 L562.75,770.42 L563.35,769.05 L563.96,767.69 L564.57,766.32 L565.18,764.96 L565.79,763.60 L566.40,762.24 L567.02,760.88 L567.64,759.52 L568.26,758.16 L568.88,756.81 L569.51,755.45 L570.14,754.10 L570.77,752.74 L571.40,751.39 L572.04,750.04 L572.68,748.69 L573.32,747.34 L573.97,745.99 L574.62,744.64 L575.27,743.30 L575.93,741.95 L576.59,740.61 L577.26,739.26 L577.93,737.92 L578.60,736.58 L579.28,735.24 L579.97,733.90 L580.65,732.57 L581.35,731.23 L582.04,729.90 L582.74,728.56 L583.44,727.23 L584.15,725.90 L584.86,724.56 L585.56,723.23 L586.27,721.90 L586.98,720.57 L587.68,719.24 L588.39,717.91 L589.09,716.58 L589.79,715.25 L590.49,713.92 L591.18,712.59 L591.87,711.26 L592.55,709.92 L593.23,708.59 L593.90,707.26 L594.56,705.92 L595.22,704.59 L595.87,703.25 L596.51,701.91 L597.14,700.57 L597.76,699.23 L598.37,697.89 L598.97,696.54 L599.55,695.20 L600.13,693.85 L600.71,692.50 L601.28,691.14 L601.86,689.78 L602.44,688.42 L603.04,687.05 L603.66,685.68 L604.29,684.30 L604.96,682.92 L605.65,681.53 L606.37,680.13 L607.14,678.73 L607.96,677.35 L608.87,676.03 L609.90,674.83 L611.04,673.97 L612.29,673.78 L613.58,674.34 L614.79,675.37 L615.81,676.60 L616.65,677.93 L617.36,679.31 L618.00,680.71 L618.59,682.12 L619.14,683.53 L619.66,684.94 L620.14,686.36 L620.59,687.78 L621.02,689.20 L621.42,690.63 L621.81,692.06 L622.19,693.49 L622.56,694.93 L622.92,696.37 L623.27,697.81 L623.62,699.26 L623.96,700.71 L624.29,702.16 L624.61,703.61 L624.92,705.07 L625.23,706.53 L625.54,707.99 L625.83,709.46 L626.12,710.93 L626.40,712.40 L626.68,713.87 L626.95,715.34 L627.21,716.82 L627.47,718.30 L627.72,719.78 L627.97,721.26 L628.21,722.74 L628.45,724.23 L628.68,725.72 L628.91,727.21 L629.13,728.70 L629.35,730.19 L629.56,731.68 L629.78,733.18 L629.99,734.67 L630.19,736.17 L630.40,737.66 L630.60,739.16 L630.81,740.65 L631.01,742.15 L631.21,743.64 L631.42,745.13 L631.62,746.63 L631.83,748.12 L632.04,749.61 L632.25,751.09 L632.46,752.58 L632.68,754.06 L632.90,755.54 L633.12,757.02 L633.35,758.50 L633.59,759.97 L633.83,761.44 L634.07,762.91 L634.32,764.37 L634.58,765.83 L634.85,767.29 L635.12,768.74 L635.40,770.19 L635.69,771.64 L635.99,773.08 L636.29,774.51 L636.60,775.95 L636.92,777.39 L637.24,778.82 L637.57,780.26 L637.90,781.70 L638.24,783.14 L638.58,784.59 L638.92,786.04 L639.27,787.50 L639.61,788.96 L639.96,790.43 L640.31,791.90 L640.66,793.39 L641.01,794.89 L641.36,796.39 L641.72,797.91 L642.08,799.42 L642.46,800.93 L642.87,802.43 L643.32,803.91 L643.81,805.36 L644.35,806.78 L644.95,808.16 L645.62,809.49 L646.37,810.77 L647.20,811.98 L648.13,813.13 L649.16,814.19 L650.29,815.16 L651.51,815.99 L652.80,816.64 L654.16,817.08 L655.57,817.27 L657.03,817.16 L658.51,816.73 L660.02,816.06 L661.54,815.30 L663.07,814.60 L664.59,814.11 L666.12,813.88 L667.63,813.85 L669.15,813.93 L670.65,814.05 L672.15,814.17 L673.65,814.28 L675.14,814.37 L676.63,814.46 L678.11,814.54 L679.59,814.61 L681.07,814.67 L682.54,814.71 L684.02,814.75 L685.49,814.78 L686.97,814.80 L688.44,814.81 L689.92,814.81 L691.40,814.80 L692.88,814.79 L694.36,814.76 L695.85,814.72 L697.34,814.67 L698.84,814.61 L700.35,814.54 L701.86,814.46 L703.37,814.38 L704.90,814.28 L706.43,814.17 L707.97,814.05 L709.52,813.94 L711.06,813.83 L712.60,813.75 L714.13,813.71 L715.65,813.71 L717.14,813.78 L718.61,813.91 L720.05,814.14 L721.45,814.46 L722.81,814.88 L724.12,815.43 L725.39,816.11 L726.60,816.92 L727.78,817.83 L728.93,818.81 L730.07,819.84 L731.21,820.88 L732.36,821.92 L733.54,822.93 L734.75,823.87 L736.01,824.72 L737.32,825.46 L738.71,826.05 L740.16,826.48 L741.66,826.72 L743.16,826.76 L744.63,826.60 L746.05,826.22 L747.44,825.68 L748.80,825.03 L750.14,824.32 L751.47,823.58 L752.80,822.88 L754.13,822.20 L755.48,821.57 L756.85,820.96 L758.24,820.37 L759.66,819.81 L761.11,819.27 L762.59,818.79 L764.08,818.42 L765.56,818.21 L767.03,818.22 L768.47,818.51 L769.85,819.06 L771.18,819.81 L772.42,820.73 L773.56,821.76 L774.60,822.86 L775.55,824.02 L776.42,825.23 L777.22,826.49 L777.97,827.79 L778.68,829.11 L779.34,830.46 L779.98,831.83 L780.59,833.21 L781.17,834.61 L781.73,836.02 L782.27,837.44 L782.79,838.87 L783.30,840.30 L783.80,841.74 L784.29,843.17 L784.78,844.60 L785.26,846.03 L785.75,847.44 L786.24,848.85 L786.74,850.25 L787.24,851.63 L787.75,853.00 L788.26,854.37 L788.78,855.73 L789.30,857.08 L789.82,858.44 L790.33,859.79 L790.85,861.15 L791.36,862.52 L791.86,863.89 L792.36,865.27 L792.85,866.66 L793.33,868.07 L793.80,869.49 L794.26,870.94 L794.71,872.40 L795.14,873.88 L795.56,875.38 L795.98,876.90 L796.40,878.42 L796.83,879.93 L797.28,881.44 L797.75,882.94 L798.26,884.41 L798.81,885.85 L799.40,887.26 L800.04,888.62 L800.75,889.94 L801.52,891.20 L802.37,892.39 L803.30,893.52 L804.31,894.57 L805.39,895.56 L806.54,896.47 L807.75,897.32 L809.01,898.10 L810.31,898.82 L811.66,899.47 L813.03,900.06 L814.42,900.60 L815.83,901.07 L817.26,901.49 L818.70,901.85 L820.16,902.17 L821.63,902.45 L823.11,902.68 L824.60,902.88 L826.10,903.05 L827.60,903.18 L829.12,903.30 L830.64,903.39 L832.16,903.46 L833.69,903.52 L835.22,903.56 L836.75,903.60 L838.28,903.64 L839.81,903.68 L841.34,903.72 L842.86,903.76 L844.38,903.82 L845.89,903.88 L847.40,903.95 L848.91,904.03 L850.42,904.11 L851.92,904.20 L853.42,904.30 L854.91,904.40 L856.41,904.51 L857.90,904.62 L859.39,904.73 L860.87,904.85 L862.36,904.98 L863.84,905.10 L865.32,905.23 L866.81,905.37 L868.29,905.50 L869.76,905.64 L871.24,905.78 L872.72,905.92 L874.20,906.07 L875.67,906.21 L877.15,906.36 L878.63,906.50 L880.11,906.64 L881.59,906.79 L883.06,906.93 L884.54,907.07 L886.02,907.21 L887.51,907.35 L888.99,907.49 L890.48,907.62 L891.96,907.75 L893.45,907.88 L894.94,908.01 L896.43,908.13 L897.93,908.24 L899.43,908.35 L900.93,908.46 L902.43,908.56 L903.94,908.66 L905.45,908.75 L906.97,908.84 L908.49,908.91 L910.01,908.99" fill="none" stroke="#1f77b4" stroke-width="3" stroke-linejoin="round"/>
<path d="M1614.99,908.95 L1616.52,909.10 L1618.04,909.19 L1619.56,909.24 L1621.06,909.23 L1622.56,909.18 L1624.06,909.09 L1625.55,908.95 L1627.03,908.78 L1628.50,908.57 L1629.98,908.32 L1631.44,908.04 L1632.90,907.74 L1634.36,907.40 L1635.82,907.04 L1637.27,906.66 L1638.71,906.26 L1640.16,905.85 L1641.60,905.41 L1643.04,904.97 L1644.48,904.52 L1645.91,904.05 L1647.35,903.59 L1648.78,903.12 L1650.22,902.65 L1651.65,902.18 L1653.08,901.72 L1654.52,901.26 L1655.95,900.82 L1657.39,900.38 L1658.83,899.96 L1660.27,899.56 L1661.71,899.18 L1663.15,898.81 L1664.60,898.48 L1666.05,898.16 L1667.50,897.88 L1668.96,897.63 L1670.42,897.41 L1671.88,897.22 L1673.35,897.07 L1674.82,896.96 L1676.29,896.88 L1677.76,896.84 L1679.24,896.84 L1680.72,896.88 L1682.20,896.96 L1683.68,897.08 L1685.16,897.25 L1686.64,897.46 L1688.12,897.71 L1689.60,898.02 L1691.09,898.37 L1692.57,898.77 L1694.05,899.22 L1695.53,899.72 L1697.01,900.28" fill="none" stroke="#1f77b4" stroke-width="3" stroke-linejoin="round"/>
<line x1="910.01" y1="909.0" x2="1614.99" y2="909.0" stroke="#1f77b4" stroke-width="3"/>
<path d="M180.47,882.49 L182.00,883.10 L183.52,883.57 L185.02,883.92 L186.51,884.14 L187.99,884.25 L189.45,884.25 L190.90,884.15 L192.34,883.96 L193.77,883.68 L195.18,883.32 L196.58,882.88 L197.97,882.38 L199.35,881.82 L200.71,881.20 L202.07,880.54 L203.41,879.84 L204.75,879.11 L206.07,878.36 L207.39,877.58 L208.69,876.79 L209.98,875.98 L211.26,875.16 L212.52,874.31 L213.77,873.45 L215.01,872.57 L216.23,871.67 L217.43,870.75 L218.61,869.81 L219.77,868.85 L220.91,867.88 L222.03,866.88 L223.13,865.86 L224.21,864.82 L225.26,863.76 L226.29,862.68 L227.29,861.58 L228.26,860.46 L229.20,859.31 L230.12,858.15 L231.00,856.96 L231.86,855.75 L232.68,854.52 L233.48,853.26 L234.25,851.99 L234.99,850.70 L235.71,849.39 L236.40,848.07 L237.07,846.73 L237.73,845.38 L238.36,844.01 L238.97,842.64 L239.57,841.25 L240.15,839.86 L240.72,838.45 L241.28,837.04 L241.82,835.63 L242.36,834.21 L242.88,832.79 L243.40,831.36 L243.91,829.93 L244.42,828.51 L244.93,827.08 L245.43,825.66 L245.94,824.24 L246.44,822.83 L246.95,821.42 L247.46,820.02 L247.98,818.63 L248.50,817.25 L249.03,815.87 L249.57,814.51 L250.11,813.15 L250.67,811.79 L251.24,810.45 L251.83,809.10 L252.42,807.76 L253.04,806.42 L253.67,805.08 L254.31,803.74 L254.98,802.40 L255.66,801.05 L256.37,799.70 L257.09,798.35 L257.84,796.99 L258.61,795.63 L259.42,794.28 L260.28,792.98 L261.21,791.75 L262.21,790.61 L263.30,789.60 L264.49,788.73 L265.77,788.00 L267.12,787.42 L268.52,786.98 L269.97,786.67 L271.45,786.51 L272.94,786.48 L274.43,786.58 L275.90,786.81 L277.35,787.18 L278.76,787.68 L280.11,788.30 L281.42,789.03 L282.69,789.85 L283.92,790.76 L285.10,791.74 L286.25,792.77 L287.37,793.86 L288.45,794.97 L289.50,796.11 L290.52,797.25 L291.51,798.40 L292.48,799.55 L293.43,800.71 L294.35,801.87 L295.25,803.04 L296.13,804.22 L297.00,805.41 L297.84,806.62 L298.67,807.83 L299.49,809.06 L300.30,810.29 L301.09,811.53 L301.88,812.79 L302.65,814.05 L303.42,815.31 L304.19,816.59 L304.95,817.86 L305.71,819.15 L306.47,820.44 L307.22,821.73 L307.98,823.02 L308.75,824.32 L309.51,825.62 L310.29,826.92 L311.07,828.22 L311.86,829.53 L312.66,830.83 L313.47,832.12 L314.30,833.42 L315.16,834.69 L316.06,835.93 L317.01,837.12 L318.03,838.25 L319.13,839.31 L320.32,840.28 L321.59,841.14 L322.95,841.87 L324.35,842.43 L325.79,842.80 L327.24,842.95 L328.68,842.84 L330.11,842.51 L331.51,842.00 L332.90,841.34 L334.25,840.59 L335.58,839.78 L336.88,838.95 L338.16,838.11 L339.43,837.29 L340.70,836.49 L341.99,835.75 L343.31,835.07 L344.66,834.48 L346.05,833.99 L347.48,833.60 L348.95,833.27 L350.44,833.00 L351.94,832.76 L353.45,832.53 L354.94,832.28 L356.42,832.00 L357.87,831.67 L359.29,831.26 L360.66,830.75 L361.97,830.12 L363.22,829.37 L364.43,828.52 L365.61,827.61 L366.79,826.67 L367.98,825.73 L369.20,824.83 L370.46,823.99 L371.78,823.23 L373.14,822.54 L374.53,821.90 L375.95,821.30 L377.39,820.74 L378.85,820.21 L380.31,819.70 L381.78,819.19 L383.24,818.69 L384.69,818.17 L386.12,817.63 L387.52,817.06 L388.89,816.46 L390.22,815.80 L391.50,815.09 L392.73,814.31 L393.90,813.46 L395.00,812.52 L396.03,811.50 L397.00,810.40 L397.92,809.24 L398.78,808.02 L399.58,806.74 L400.34,805.42 L401.06,804.07 L401.73,802.68 L402.37,801.27 L402.98,799.85 L403.55,798.43 L404.10,797.00 L404.64,795.59 L405.15,794.19 L405.65,792.82 L406.14,791.47 L406.63,790.14 L407.15,788.82 L407.69,787.51 L408.27,786.19 L408.91,784.86 L409.61,783.51 L410.39,782.14 L411.25,780.77 L412.20,779.46 L413.25,778.22 L414.39,777.12 L415.64,776.17 L416.98,775.44 L418.37,774.95 L419.77,774.77 L421.14,774.93 L422.44,775.42 L423.69,776.20 L424.87,777.18 L425.99,778.30 L427.03,779.50 L428.00,780.75 L428.90,782.02 L429.74,783.33 L430.53,784.66 L431.27,786.01 L431.97,787.38 L432.63,788.76 L433.26,790.16 L433.87,791.56 L434.47,792.97 L435.05,794.37 L435.63,795.77 L436.21,797.17 L436.79,798.55 L437.39,799.92 L438.01,801.27 L438.66,802.60 L439.34,803.90 L440.06,805.17 L440.82,806.41 L441.64,807.61 L442.51,808.78 L443.43,809.91 L444.40,811.00 L445.41,812.07 L446.45,813.11 L447.53,814.13 L448.63,815.14 L449.75,816.14 L450.89,817.13 L452.04,818.12 L453.19,819.10 L454.34,820.10 L455.48,821.10 L456.61,822.12 L457.73,823.15 L458.82,824.20 L459.88,825.29 L460.91,826.40 L461.92,827.54 L462.89,828.70 L463.84,829.88 L464.77,831.08 L465.69,832.29 L466.60,833.51 L467.50,834.73 L468.39,835.95 L469.29,837.16 L470.19,838.37 L471.10,839.56 L472.02,840.74 L472.96,841.90 L473.92,843.03 L474.91,844.14 L475.92,845.21 L476.96,846.24 L478.04,847.24 L479.17,848.19 L480.33,849.09 L481.54,849.93 L482.80,850.72 L484.09,851.46 L485.43,852.13 L486.79,852.73 L488.19,853.27 L489.62,853.74 L491.07,854.13 L492.54,854.44 L494.03,854.67 L495.53,854.83 L497.05,854.92 L498.57,854.97 L500.10,854.98 L501.63,854.97 L503.16,854.95 L504.68,854.94 L506.19,854.94 L507.69,854.97 L509.17,855.04 L510.63,855.17 L512.06,855.37 L513.47,855.65 L514.85,856.03 L516.18,856.52 L517.49,857.11 L518.76,857.81 L520.01,858.58 L521.24,859.43 L522.45,860.33 L523.66,861.28 L524.85,862.25 L526.04,863.25 L527.24,864.25 L528.45,865.25 L529.66,866.22 L530.90,867.17 L532.15,868.06 L533.44,868.90 L534.75,869.66 L536.10,870.34 L537.49,870.93 L538.91,871.42 L540.36,871.82 L541.82,872.14 L543.31,872.37 L544.81,872.51 L546.31,872.56 L547.81,872.53 L549.31,872.42 L550.80,872.23 L552.28,871.96 L553.73,871.61 L555.16,871.18 L556.56,870.68 L557.92,870.10 L559.26,869.46 L560.56,868.76 L561.85,868.00 L563.11,867.20 L564.35,866.36 L565.58,865.48 L566.80,864.58 L568.00,863.65 L569.21,862.72 L570.41,861.77 L571.61,860.83 L572.82,859.89 L574.04,858.97 L575.27,858.07 L576.51,857.19 L577.77,856.34 L579.05,855.54 L580.35,854.78 L581.68,854.07 L583.04,853.41 L584.42,852.81 L585.82,852.26 L587.23,851.76 L588.67,851.31 L590.11,850.91 L591.57,850.57 L593.05,850.29 L594.53,850.05 L596.01,849.87 L597.50,849.74 L599.00,849.67 L600.49,849.65 L601.98,849.69 L603.47,849.78 L604.95,849.92 L606.43,850.12 L607.90,850.38 L609.35,850.69 L610.80,851.06 L612.23,851.47 L613.64,851.94 L615.05,852.45 L616.44,853.01 L617.82,853.60 L619.19,854.24 L620.55,854.91 L621.89,855.61 L623.22,856.35 L624.54,857.11 L625.84,857.90 L627.14,858.70 L628.42,859.53 L629.69,860.37 L630.95,861.23 L632.19,862.10 L633.43,862.97 L634.65,863.86 L635.87,864.74 L637.08,865.61 L638.29,866.47 L639.51,867.31 L640.74,868.12 L641.99,868.90 L643.25,869.64 L644.54,870.33 L645.86,870.97 L647.21,871.55 L648.60,872.07 L650.02,872.52 L651.49,872.89 L652.99,873.18 L654.51,873.39 L656.04,873.53 L657.57,873.59 L659.09,873.56 L660.61,873.46 L662.10,873.27 L663.57,873.01 L665.02,872.67 L666.45,872.27 L667.87,871.80 L669.26,871.27 L670.63,870.68 L671.99,870.04 L673.32,869.35 L674.64,868.62 L675.94,867.85 L677.22,867.04 L678.48,866.19 L679.73,865.32 L680.96,864.44 L682.19,863.57 L683.43,862.74 L684.69,861.98 L685.99,861.32 L687.33,860.76 L688.70,860.29 L690.10,859.89 L691.53,859.55 L692.98,859.26 L694.45,859.00 L695.94,858.76 L697.44,858.53 L698.95,858.30 L700.46,858.04 L701.98,857.76 L703.49,857.43 L705.01,857.05 L706.51,856.65 L708.02,856.25 L709.51,855.88 L711.00,855.56 L712.49,855.33 L713.97,855.20 L715.44,855.16 L716.91,855.20 L718.36,855.34 L719.81,855.55 L721.24,855.84 L722.67,856.20 L724.08,856.63 L725.47,857.12 L726.85,857.66 L728.22,858.27 L729.57,858.92 L730.90,859.61 L732.22,860.35 L733.52,861.12 L734.80,861.93 L736.06,862.75 L737.32,863.60 L738.57,864.46 L739.81,865.33 L741.06,866.20 L742.30,867.07 L743.54,867.93 L744.79,868.77 L746.05,869.60 L747.32,870.40 L748.60,871.16 L749.90,871.89 L751.22,872.58 L752.56,873.22 L753.92,873.80 L755.31,874.33 L756.72,874.80 L758.16,875.21 L759.62,875.58 L761.09,875.92 L762.58,876.24 L764.06,876.54 L765.55,876.84 L767.04,877.14 L768.52,877.47 L769.98,877.81 L771.43,878.19 L772.86,878.62 L774.26,879.10 L775.63,879.65 L776.97,880.26 L778.27,880.96 L779.54,881.71 L780.79,882.53 L782.01,883.39 L783.21,884.30 L784.40,885.24 L785.57,886.21 L786.74,887.19 L787.90,888.19 L789.06,889.18 L790.22,890.17 L791.39,891.15 L792.57,892.10 L793.76,893.02 L794.97,893.91 L796.20,894.74 L797.45,895.53 L798.73,896.25 L800.04,896.90 L801.38,897.50 L802.74,898.05 L804.13,898.54 L805.53,898.98 L806.96,899.38 L808.40,899.73 L809.86,900.05 L811.34,900.33 L812.82,900.58 L814.32,900.80 L815.83,901.00 L817.34,901.17 L818.86,901.33 L820.38,901.47 L821.91,901.59 L823.44,901.71 L824.96,901.83 L826.48,901.94 L828.00,902.05 L829.52,902.17 L831.03,902.28 L832.53,902.40 L834.03,902.51 L835.53,902.63 L837.03,902.75 L838.52,902.87 L840.01,902.99 L841.50,903.11 L842.99,903.23 L844.47,903.36 L845.96,903.48 L847.44,903.61 L848.92,903.73 L850.39,903.85 L851.87,903.98 L853.35,904.11 L854.82,904.23 L856.30,904.36 L857.78,904.49 L859.25,904.61 L860.73,904.74 L862.21,904.87 L863.68,905.00 L865.16,905.13 L866.64,905.25 L868.13,905.38 L869.61,905.51 L871.09,905.64 L872.58,905.77 L874.07,905.89 L875.56,906.02 L877.06,906.15 L878.56,906.28 L880.06,906.40 L881.56,906.53 L883.07,906.66 L884.58,906.78 L886.09,906.91 L887.60,907.04 L889.11,907.17 L890.62,907.29 L892.13,907.42 L893.64,907.55 L895.14,907.68 L896.65,907.81 L898.15,907.93 L899.65,908.06 L901.14,908.20 L902.63,908.33 L904.12,908.46 L905.60,908.59 L907.07,908.73 L908.54,908.87 L910.00,909.00" fill="none" stroke="#ff7f0e" stroke-width="3" stroke-linejoin="round"/>
<path d="M1598.02,908.98 L1599.45,908.99 L1600.89,908.96 L1602.35,908.91 L1603.82,908.82 L1605.29,908.70 L1606.77,908.55 L1608.26,908.36 L1609.75,908.14 L1611.24,907.89 L1612.73,907.60 L1614.22,907.28 L1615.69,906.93 L1617.16,906.53 L1618.62,906.10 L1620.07,905.64 L1621.50,905.14 L1622.92,904.60 L1624.32,904.03 L1625.69,903.41 L1627.05,902.76 L1628.38,902.07 L1629.68,901.34 L1630.95,900.57 L1632.19,899.77 L1633.40,898.92 L1634.57,898.03 L1635.70,897.10 L1636.80,896.13 L1637.85,895.12 L1638.86,894.06 L1639.82,892.96 L1640.73,891.82 L1641.60,890.65 L1642.43,889.43 L1643.22,888.18 L1643.97,886.90 L1644.68,885.59 L1645.36,884.26 L1646.02,882.90 L1646.65,881.52 L1647.25,880.13 L1647.83,878.72 L1648.39,877.30 L1648.94,875.87 L1649.47,874.44 L1649.99,873.00 L1650.50,871.57 L1651.00,870.13 L1651.50,868.70 L1651.99,867.27 L1652.48,865.84 L1652.96,864.42 L1653.43,862.99 L1653.89,861.57 L1654.35,860.15 L1654.80,858.73 L1655.24,857.32 L1655.68,855.90 L1656.10,854.48 L1656.52,853.07 L1656.93,851.65 L1657.33,850.24 L1657.72,848.82 L1658.10,847.40 L1658.47,845.99 L1658.83,844.57 L1659.18,843.15 L1659.52,841.73 L1659.86,840.31 L1660.18,838.88 L1660.50,837.46 L1660.82,836.03 L1661.13,834.60 L1661.44,833.18 L1661.75,831.74 L1662.06,830.31 L1662.37,828.88 L1662.69,827.44 L1663.01,826.01 L1663.34,824.57 L1663.69,823.13 L1664.04,821.69 L1664.40,820.25 L1664.78,818.81 L1665.17,817.36 L1665.58,815.91 L1666.01,814.47 L1666.45,813.02 L1666.92,811.57 L1667.41,810.11 L1667.93,808.66 L1668.47,807.21 L1669.03,805.75 L1669.63,804.29 L1670.26,802.84 L1670.95,801.42 L1671.72,800.09 L1672.61,798.89 L1673.66,797.87 L1674.87,797.08 L1676.19,796.56 L1677.56,796.37 L1678.93,796.53 L1680.26,797.02 L1681.56,797.77 L1682.80,798.75 L1683.98,799.90 L1685.08,801.17 L1686.09,802.51 L1687.00,803.87 L1687.80,805.21 L1688.49,806.51 L1689.12,807.78 L1689.70,809.03 L1690.26,810.25 L1690.82,811.46 L1691.41,812.66 L1692.05,813.86 L1692.78,815.06 L1693.61,816.27 L1694.58,817.49 L1695.70,818.73 L1697.00,819.99" fill="none" stroke="#ff7f0e" stroke-width="3" stroke-linejoin="round"/>
<line x1="910.00" y1="909.0" x2="1598.02" y2="909.0" stroke="#ff7f0e" stroke-width="3"/>
<path d="M180.50,880.80 L181.85,881.32 L183.26,881.77 L184.72,882.14 L186.23,882.44 L187.76,882.65 L189.30,882.76 L190.84,882.78 L192.36,882.69 L193.85,882.50 L195.31,882.20 L196.74,881.80 L198.15,881.31 L199.52,880.74 L200.86,880.10 L202.17,879.39 L203.45,878.62 L204.71,877.80 L205.93,876.93 L207.12,876.03 L208.29,875.09 L209.43,874.13 L210.55,873.13 L211.65,872.12 L212.74,871.09 L213.81,870.04 L214.87,868.97 L215.93,867.90 L216.98,866.82 L218.03,865.74 L219.09,864.65 L220.14,863.57 L221.21,862.50 L222.29,861.44 L223.37,860.38 L224.44,859.32 L225.50,858.24 L226.53,857.16 L227.54,856.05 L228.50,854.92 L229.42,853.76 L230.30,852.57 L231.14,851.35 L231.94,850.11 L232.71,848.85 L233.44,847.56 L234.14,846.26 L234.81,844.93 L235.46,843.58 L236.07,842.22 L236.66,840.84 L237.23,839.45 L237.77,838.04 L238.30,836.62 L238.80,835.19 L239.29,833.76 L239.77,832.31 L240.23,830.86 L240.69,829.40 L241.13,827.93 L241.57,826.47 L242.00,825.00 L242.42,823.53 L242.84,822.06 L243.27,820.60 L243.69,819.14 L244.12,817.68 L244.55,816.23 L244.99,814.79 L245.44,813.35 L245.90,811.93 L246.37,810.51 L246.85,809.11 L247.35,807.72 L247.86,806.35 L248.40,805.00 L248.95,803.65 L249.50,802.31 L250.07,800.98 L250.63,799.64 L251.19,798.30 L251.75,796.95 L252.29,795.58 L252.82,794.20 L253.33,792.79 L253.83,791.37 L254.34,789.93 L254.88,788.49 L255.46,787.06 L256.10,785.64 L256.83,784.25 L257.67,782.89 L258.62,781.57 L259.69,780.34 L260.85,779.25 L262.11,778.38 L263.42,777.79 L264.78,777.54 L266.18,777.67 L267.57,778.13 L268.93,778.86 L270.23,779.78 L271.44,780.83 L272.54,781.96 L273.54,783.15 L274.46,784.38 L275.32,785.65 L276.13,786.95 L276.91,788.26 L277.68,789.57 L278.44,790.88 L279.22,792.17 L280.00,793.45 L280.80,794.72 L281.60,795.98 L282.40,797.24 L283.21,798.48 L284.03,799.72 L284.85,800.96 L285.67,802.19 L286.49,803.42 L287.31,804.65 L288.13,805.88 L288.95,807.12 L289.77,808.35 L290.59,809.59 L291.41,810.83 L292.22,812.08 L293.03,813.33 L293.83,814.59 L294.64,815.84 L295.45,817.10 L296.25,818.36 L297.06,819.63 L297.87,820.89 L298.67,822.15 L299.49,823.42 L300.30,824.68 L301.12,825.94 L301.94,827.20 L302.77,828.46 L303.60,829.71 L304.44,830.97 L305.28,832.21 L306.13,833.46 L306.99,834.70 L307.86,835.93 L308.73,837.16 L309.62,838.38 L310.51,839.60 L311.42,840.80 L312.33,842.00 L313.26,843.20 L314.20,844.38 L315.16,845.54 L316.14,846.68 L317.16,847.79 L318.21,848.85 L319.31,849.86 L320.46,850.82 L321.67,851.70 L322.94,852.51 L324.27,853.24 L325.65,853.88 L327.07,854.44 L328.52,854.90 L330.00,855.28 L331.49,855.55 L332.99,855.73 L334.49,855.80 L335.98,855.78 L337.47,855.65 L338.94,855.44 L340.41,855.14 L341.86,854.77 L343.30,854.32 L344.72,853.79 L346.12,853.20 L347.50,852.56 L348.86,851.85 L350.19,851.10 L351.50,850.30 L352.77,849.47 L354.01,848.59 L355.22,847.69 L356.41,846.76 L357.56,845.80 L358.70,844.83 L359.82,843.83 L360.92,842.83 L362.01,841.81 L363.10,840.78 L364.17,839.75 L365.25,838.72 L366.32,837.69 L367.40,836.67 L368.48,835.66 L369.57,834.66 L370.68,833.67 L371.80,832.71 L372.94,831.77 L374.10,830.85 L375.29,829.97 L376.51,829.11 L377.76,828.30 L379.04,827.52 L380.36,826.78 L381.72,826.09 L383.10,825.42 L384.50,824.78 L385.91,824.14 L387.31,823.51 L388.69,822.85 L390.05,822.18 L391.37,821.47 L392.65,820.71 L393.87,819.90 L395.03,819.02 L396.11,818.06 L397.12,817.03 L398.06,815.94 L398.94,814.78 L399.77,813.56 L400.53,812.30 L401.25,810.99 L401.92,809.63 L402.54,808.24 L403.13,806.82 L403.68,805.37 L404.21,803.91 L404.71,802.43 L405.18,800.94 L405.64,799.44 L406.09,797.94 L406.54,796.45 L407.00,794.98 L407.48,793.51 L407.98,792.07 L408.51,790.65 L409.09,789.26 L409.72,787.91 L410.41,786.59 L411.17,785.33 L412.01,784.11 L412.93,782.95 L413.95,781.84 L415.08,780.81 L416.31,779.85 L417.63,779.07 L418.99,778.55 L420.38,778.39 L421.75,778.66 L423.08,779.28 L424.34,780.18 L425.51,781.26 L426.55,782.44 L427.48,783.68 L428.31,784.98 L429.04,786.32 L429.70,787.70 L430.31,789.11 L430.88,790.54 L431.41,791.98 L431.94,793.42 L432.45,794.86 L432.96,796.30 L433.48,797.74 L433.99,799.16 L434.52,800.58 L435.06,801.99 L435.63,803.38 L436.22,804.76 L436.83,806.11 L437.49,807.45 L438.18,808.75 L438.92,810.03 L439.70,811.29 L440.54,812.50 L441.43,813.70 L442.35,814.86 L443.32,816.00 L444.32,817.12 L445.36,818.22 L446.41,819.30 L447.49,820.37 L448.58,821.43 L449.68,822.48 L450.79,823.53 L451.91,824.57 L453.02,825.61 L454.12,826.65 L455.21,827.69 L456.28,828.74 L457.34,829.80 L458.36,830.87 L459.36,831.96 L460.33,833.06 L461.28,834.17 L462.21,835.29 L463.12,836.42 L464.04,837.55 L464.95,838.69 L465.87,839.82 L466.80,840.95 L467.75,842.08 L468.72,843.20 L469.73,844.32 L470.77,845.42 L471.85,846.50 L472.97,847.57 L474.15,848.61 L475.36,849.62 L476.62,850.57 L477.91,851.45 L479.23,852.26 L480.58,852.98 L481.96,853.59 L483.36,854.09 L484.79,854.46 L486.23,854.69 L487.68,854.77 L489.14,854.68 L490.61,854.45 L492.07,854.06 L493.50,853.55 L494.91,852.92 L496.28,852.18 L497.60,851.35 L498.86,850.44 L500.05,849.45 L501.16,848.41 L502.18,847.32 L503.12,846.20 L504.03,845.05 L504.91,843.89 L505.80,842.73 L506.73,841.58 L507.73,840.45 L508.81,839.35 L509.97,838.31 L511.20,837.35 L512.50,836.49 L513.84,835.76 L515.23,835.17 L516.66,834.75 L518.10,834.52 L519.56,834.50 L521.03,834.69 L522.48,835.05 L523.90,835.55 L525.28,836.14 L526.61,836.78 L527.89,837.48 L529.15,838.22 L530.40,839.00 L531.65,839.82 L532.93,840.67 L534.24,841.55 L535.58,842.43 L536.94,843.29 L538.32,844.11 L539.72,844.87 L541.13,845.55 L542.54,846.12 L543.97,846.57 L545.40,846.88 L546.83,847.03 L548.25,846.99 L549.67,846.75 L551.08,846.33 L552.46,845.75 L553.81,845.04 L555.13,844.22 L556.40,843.33 L557.62,842.39 L558.78,841.39 L559.91,840.36 L560.98,839.28 L562.01,838.16 L563.01,837.01 L563.96,835.83 L564.88,834.62 L565.76,833.39 L566.61,832.14 L567.44,830.87 L568.23,829.59 L569.00,828.31 L569.75,827.02 L570.48,825.73 L571.19,824.44 L571.89,823.16 L572.57,821.87 L573.24,820.59 L573.90,819.30 L574.56,818.01 L575.20,816.72 L575.85,815.41 L576.49,814.10 L577.14,812.78 L577.79,811.45 L578.44,810.11 L579.11,808.75 L579.78,807.37 L580.46,805.98 L581.16,804.58 L581.88,803.18 L582.63,801.78 L583.40,800.41 L584.21,799.06 L585.06,797.75 L585.95,796.50 L586.89,795.30 L587.88,794.17 L588.93,793.12 L590.04,792.15 L591.22,791.29 L592.47,790.54 L593.79,789.90 L595.19,789.39 L596.64,789.01 L598.13,788.77 L599.65,788.65 L601.16,788.68 L602.67,788.84 L604.17,789.10 L605.67,789.44 L607.16,789.82 L608.64,790.24 L610.12,790.65 L611.58,791.08 L613.03,791.53 L614.46,792.01 L615.85,792.54 L617.21,793.13 L618.53,793.79 L619.79,794.52 L621.00,795.35 L622.16,796.26 L623.28,797.25 L624.35,798.29 L625.39,799.39 L626.39,800.53 L627.37,801.70 L628.34,802.89 L629.28,804.09 L630.23,805.28 L631.16,806.46 L632.10,807.62 L633.05,808.76 L634.02,809.87 L635.02,810.96 L636.05,812.01 L637.11,813.04 L638.22,814.03 L639.39,814.98 L640.62,815.89 L641.91,816.75 L643.26,817.56 L644.66,818.26 L646.09,818.84 L647.54,819.26 L649.00,819.52 L650.45,819.62 L651.91,819.57 L653.35,819.39 L654.78,819.07 L656.19,818.63 L657.57,818.08 L658.91,817.42 L660.22,816.67 L661.49,815.82 L662.70,814.89 L663.86,813.89 L664.96,812.82 L665.98,811.69 L666.94,810.52 L667.82,809.30 L668.64,808.05 L669.39,806.76 L670.10,805.44 L670.77,804.11 L671.41,802.75 L672.02,801.38 L672.62,800.00 L673.22,798.62 L673.82,797.24 L674.42,795.86 L675.03,794.48 L675.64,793.11 L676.26,791.73 L676.88,790.36 L677.51,789.00 L678.14,787.63 L678.78,786.27 L679.42,784.91 L680.06,783.55 L680.71,782.20 L681.37,780.85 L682.03,779.50 L682.69,778.15 L683.36,776.81 L684.03,775.47 L684.71,774.14 L685.39,772.80 L686.08,771.47 L686.77,770.15 L687.47,768.82 L688.17,767.50 L688.88,766.19 L689.59,764.87 L690.30,763.56 L691.02,762.25 L691.75,760.95 L692.48,759.65 L693.21,758.35 L693.95,757.06 L694.69,755.77 L695.44,754.48 L696.19,753.20 L696.95,751.92 L697.72,750.64 L698.48,749.37 L699.26,748.10 L700.03,746.83 L700.82,745.57 L701.61,744.31 L702.40,743.06 L703.19,741.81 L704.00,740.56 L704.80,739.31 L705.62,738.07 L706.43,736.84 L707.26,735.60 L708.10,734.37 L708.96,733.13 L709.85,731.89 L710.77,730.64 L711.74,729.38 L712.75,728.10 L713.82,726.81 L714.94,725.54 L716.11,724.36 L717.32,723.34 L718.56,722.57 L719.83,722.12 L721.12,722.06 L722.42,722.42 L723.70,723.13 L724.94,724.08 L726.11,725.21 L727.19,726.41 L728.17,727.65 L729.07,728.92 L729.88,730.21 L730.62,731.54 L731.29,732.88 L731.92,734.25 L732.50,735.63 L733.05,737.02 L733.57,738.42 L734.07,739.83 L734.57,741.25 L735.07,742.66 L735.58,744.07 L736.11,745.48 L736.67,746.88 L737.26,748.26 L737.90,749.63 L738.57,750.99 L739.29,752.32 L740.04,753.64 L740.82,754.93 L741.65,756.19 L742.52,757.42 L743.42,758.62 L744.37,759.79 L745.35,760.92 L746.37,762.01 L747.43,763.06 L748.53,764.07 L749.67,765.02 L750.85,765.92 L752.08,766.76 L753.34,767.55 L754.65,768.26 L756.00,768.90 L757.40,769.47 L758.84,769.95 L760.33,770.36 L761.85,770.69 L763.38,770.99 L764.90,771.32 L766.36,771.73 L767.74,772.26 L769.04,772.93 L770.25,773.72 L771.39,774.63 L772.46,775.63 L773.46,776.72 L774.40,777.87 L775.30,779.09 L776.14,780.35 L776.94,781.64 L777.71,782.95 L778.44,784.28 L779.14,785.62 L779.82,786.98 L780.46,788.35 L781.08,789.73 L781.67,791.13 L782.25,792.53 L782.80,793.94 L783.34,795.35 L783.86,796.77 L784.37,798.19 L784.86,799.61 L785.35,801.03 L785.83,802.45 L786.30,803.87 L786.76,805.28 L787.22,806.70 L787.67,808.12 L788.11,809.54 L788.55,810.95 L788.98,812.37 L789.40,813.79 L789.82,815.21 L790.24,816.63 L790.64,818.05 L791.05,819.48 L791.45,820.90 L791.85,822.33 L792.24,823.76 L792.63,825.19 L793.02,826.63 L793.41,828.07 L793.79,829.51 L794.17,830.95 L794.55,832.40 L794.93,833.85 L795.31,835.30 L795.69,836.76 L796.07,838.23 L796.45,839.70 L796.83,841.17 L797.21,842.65 L797.59,844.13 L797.97,845.61 L798.36,847.10 L798.76,848.59 L799.18,850.07 L799.61,851.55 L800.05,853.02 L800.53,854.47 L801.03,855.91 L801.55,857.33 L802.12,858.73 L802.72,860.10 L803.36,861.45 L804.05,862.77 L804.78,864.05 L805.57,865.30 L806.41,866.51 L807.31,867.67 L808.27,868.80 L809.29,869.88 L810.35,870.92 L811.47,871.91 L812.63,872.86 L813.83,873.76 L815.06,874.62 L816.34,875.43 L817.64,876.19 L818.97,876.91 L820.32,877.59 L821.70,878.21 L823.09,878.79 L824.49,879.34 L825.91,879.84 L827.34,880.32 L828.79,880.77 L830.24,881.19 L831.69,881.60 L833.15,882.00 L834.61,882.38 L836.08,882.77 L837.54,883.15 L839.00,883.54 L840.45,883.94 L841.90,884.35 L843.34,884.78 L844.76,885.23 L846.18,885.71 L847.58,886.22 L848.96,886.77 L850.33,887.36 L851.68,887.99 L853.01,888.65 L854.33,889.36 L855.63,890.09 L856.92,890.84 L858.20,891.62 L859.48,892.42 L860.74,893.23 L862.01,894.06 L863.26,894.89 L864.52,895.73 L865.78,896.57 L867.03,897.40 L868.30,898.23 L869.56,899.05 L870.83,899.85 L872.11,900.64 L873.40,901.40 L874.71,902.14 L876.02,902.85 L877.35,903.53 L878.69,904.17 L880.06,904.78 L881.44,905.34 L882.84,905.86 L884.25,906.34 L885.68,906.79 L887.12,907.19 L888.57,907.55 L890.03,907.87 L891.50,908.16 L892.99,908.40 L894.47,908.61 L895.97,908.77 L897.47,908.90 L898.97,909.00 L900.48,909.05 L901.99,909.07 L903.50,909.05 L905.00,908.99" fill="none" stroke="#2ca02c" stroke-width="3" stroke-linejoin="round"/>
<path d="M1615.00,909.00 L1616.45,908.84 L1617.91,908.73 L1619.39,908.67 L1620.88,908.64 L1622.38,908.64 L1623.89,908.66 L1625.40,908.69 L1626.92,908.72 L1628.44,908.76 L1629.95,908.78 L1631.47,908.78 L1632.98,908.76 L1634.48,908.70 L1635.98,908.60 L1637.46,908.46 L1638.93,908.26 L1640.40,908.03 L1641.85,907.75 L1643.30,907.43 L1644.74,907.09 L1646.18,906.72 L1647.61,906.32 L1649.04,905.90 L1650.46,905.47 L1651.88,905.02 L1653.30,904.57 L1654.72,904.11 L1656.13,903.65 L1657.55,903.19 L1658.97,902.74 L1660.40,902.31 L1661.82,901.89 L1663.26,901.49 L1664.69,901.11 L1666.13,900.75 L1667.58,900.42 L1669.03,900.13 L1670.48,899.86 L1671.94,899.63 L1673.40,899.43 L1674.87,899.27 L1676.34,899.15 L1677.81,899.08 L1679.28,899.05 L1680.76,899.07 L1682.24,899.14 L1683.72,899.26 L1685.20,899.43 L1686.69,899.65 L1688.17,899.91 L1689.65,900.20 L1691.13,900.52 L1692.61,900.85 L1694.08,901.19 L1695.55,901.52 L1697.00,901.84" fill="none" stroke="#2ca02c" stroke-width="3" stroke-linejoin="round"/>
<line x1="905.00" y1="909.0" x2="1615.00" y2="909.0" stroke="#2ca02c" stroke-width="3"/>
<path d="M180.00,765.00 L180.59,765.67 L181.26,766.64 L182.02,767.84 L182.86,769.20 L183.77,770.66 L184.76,772.15 L185.82,773.60 L186.94,774.95 L188.13,776.13 L189.37,777.07 L190.68,777.72 L192.04,777.99 L193.44,777.85 L194.85,777.34 L196.21,776.54 L197.46,775.53 L198.56,774.39 L199.49,773.18 L200.28,771.90 L200.96,770.56 L201.54,769.18 L202.05,767.76 L202.52,766.33 L202.98,764.89 L203.44,763.46 L203.91,762.03 L204.38,760.60 L204.86,759.17 L205.34,757.75 L205.82,756.32 L206.30,754.90 L206.78,753.48 L207.26,752.06 L207.73,750.64 L208.20,749.21 L208.67,747.79 L209.12,746.36 L209.58,744.93 L210.03,743.50 L210.47,742.07 L210.91,740.64 L211.35,739.20 L211.78,737.77 L212.20,736.33 L212.62,734.89 L213.04,733.45 L213.45,732.01 L213.85,730.57 L214.25,729.12 L214.65,727.68 L215.04,726.23 L215.43,724.78 L215.82,723.33 L216.20,721.88 L216.57,720.43 L216.94,718.98 L217.31,717.53 L217.67,716.07 L218.03,714.62 L218.39,713.16 L218.74,711.70 L219.09,710.24 L219.43,708.78 L219.77,707.32 L220.11,705.86 L220.44,704.40 L220.77,702.94 L221.10,701.47 L221.42,700.01 L221.74,698.54 L222.05,697.08 L222.36,695.61 L222.67,694.14 L222.98,692.67 L223.28,691.20 L223.58,689.73 L223.87,688.26 L224.17,686.79 L224.46,685.32 L224.74,683.85 L225.03,682.38 L225.31,680.90 L225.59,679.43 L225.86,677.96 L226.14,676.48 L226.41,675.01 L226.67,673.53 L226.94,672.06 L227.20,670.58 L227.46,669.10 L227.72,667.63 L227.98,666.15 L228.23,664.67 L228.48,663.20 L228.73,661.72 L228.97,660.24 L229.22,658.76 L229.46,657.28 L229.70,655.80 L229.93,654.32 L230.17,652.84 L230.40,651.36 L230.63,649.88 L230.86,648.40 L231.08,646.92 L231.31,645.44 L231.53,643.96 L231.74,642.48 L231.96,640.99 L232.18,639.51 L232.39,638.03 L232.60,636.55 L232.81,635.06 L233.01,633.58 L233.22,632.09 L233.42,630.61 L233.62,629.13 L233.82,627.64 L234.01,626.16 L234.21,624.67 L234.40,623.18 L234.59,621.70 L234.78,620.21 L234.97,618.73 L235.15,617.24 L235.33,615.75 L235.51,614.27 L235.69,612.78 L235.87,611.29 L236.05,609.80 L236.22,608.32 L236.39,606.83 L236.56,605.34 L236.73,603.85 L236.90,602.36 L237.06,600.87 L237.23,599.38 L237.39,597.89 L237.55,596.40 L237.71,594.91 L237.87,593.42 L238.02,591.93 L238.17,590.44 L238.33,588.95 L238.48,587.46 L238.63,585.97 L238.78,584.48 L238.92,582.99 L239.07,581.49 L239.21,580.00 L239.35,578.51 L239.49,577.02 L239.63,575.53 L239.77,574.03 L239.91,572.54 L240.04,571.05 L240.18,569.55 L240.31,568.06 L240.44,566.57 L240.57,565.07 L240.70,563.58 L240.83,562.09 L240.96,560.59 L241.08,559.10 L241.21,557.60 L241.33,556.11 L241.45,554.61 L241.57,553.12 L241.69,551.63 L241.81,550.13 L241.93,548.64 L242.05,547.14 L242.16,545.64 L242.28,544.15 L242.39,542.65 L242.50,541.16 L242.61,539.66 L242.73,538.17 L242.83,536.67 L242.94,535.17 L243.05,533.68 L243.16,532.18 L243.27,530.68 L243.37,529.19 L243.48,527.69 L243.58,526.19 L243.68,524.70 L243.78,523.20 L243.89,521.70 L243.99,520.21 L244.09,518.71 L244.19,517.21 L244.28,515.72 L244.38,514.22 L244.48,512.72 L244.58,511.22 L244.67,509.73 L244.77,508.23 L244.86,506.73 L244.96,505.23 L245.05,503.74 L245.15,502.24 L245.24,500.74 L245.33,499.24 L245.42,497.74 L245.51,496.25 L245.60,494.75 L245.70,493.25 L245.79,491.75 L245.88,490.26 L245.96,488.76 L246.05,487.26 L246.14,485.76 L246.23,484.26 L246.32,482.77 L246.41,481.27 L246.49,479.77 L246.58,478.27 L246.67,476.77 L246.76,475.28 L246.84,473.78 L246.93,472.28 L247.02,470.78 L247.10,469.28 L247.19,467.79 L247.27,466.29 L247.36,464.79 L247.45,463.29 L247.53,461.79 L247.62,460.30 L247.70,458.80 L247.79,457.30 L247.87,455.80 L247.96,454.31 L248.05,452.81 L248.13,451.31 L248.22,449.81 L248.30,448.32 L248.39,446.82 L248.48,445.32 L248.56,443.82 L248.65,442.33 L248.74,440.83 L248.82,439.33 L248.91,437.83 L249.00,436.34 L249.08,434.84 L249.17,433.34 L249.26,431.85 L249.35,430.35 L249.44,428.85 L249.52,427.36 L249.61,425.86 L249.70,424.36 L249.79,422.87 L249.88,421.37 L249.97,419.87 L250.06,418.38 L250.15,416.88 L250.24,415.38 L250.33,413.89 L250.42,412.39 L250.51,410.90 L250.60,409.40 L250.70,407.90 L250.79,406.41 L250.88,404.91 L250.97,403.41 L251.07,401.92 L251.16,400.42 L251.26,398.93 L251.35,397.43 L251.44,395.94 L251.54,394.44 L251.64,392.94 L251.73,391.45 L251.83,389.95 L251.93,388.46 L252.02,386.96 L252.12,385.47 L252.22,383.97 L252.32,382.48 L252.42,380.98 L252.52,379.49 L252.62,377.99 L252.72,376.50 L252.82,375.00 L252.93,373.51 L253.03,372.01 L253.13,370.52 L253.24,369.02 L253.34,367.53 L253.45,366.03 L253.55,364.54 L253.66,363.04 L253.77,361.55 L253.88,360.06 L253.98,358.56 L254.09,357.07 L254.20,355.57 L254.31,354.08 L254.43,352.58 L254.54,351.09 L254.65,349.60 L254.76,348.10 L254.88,346.61 L254.99,345.11 L255.11,343.62 L255.22,342.13 L255.34,340.63 L255.46,339.14 L255.58,337.65 L255.70,336.15 L255.82,334.66 L255.94,333.17 L256.06,331.67 L256.18,330.18 L256.31,328.69 L256.43,327.19 L256.56,325.70 L256.68,324.21 L256.81,322.71 L256.94,321.22 L257.07,319.73 L257.20,318.23 L257.33,316.74 L257.46,315.25 L257.59,313.76 L257.72,312.26 L257.86,310.77 L257.99,309.28 L258.13,307.79 L258.27,306.29 L258.41,304.80 L258.55,303.31 L258.69,301.82 L258.83,300.32 L258.97,298.83 L259.11,297.34 L259.26,295.85 L259.40,294.36 L259.55,292.86 L259.70,291.37 L259.85,289.88 L260.00,288.39 L260.15,286.90 L260.30,285.41 L260.45,283.91 L260.61,282.42 L260.76,280.93 L260.92,279.44 L261.08,277.95 L261.24,276.46 L261.40,274.97 L261.56,273.48 L261.72,271.98 L261.89,270.49 L262.05,269.00 L262.22,267.51 L262.38,266.02 L262.55,264.53 L262.72,263.04 L262.89,261.55 L263.07,260.06 L263.24,258.57 L263.42,257.08 L263.59,255.59 L263.77,254.10 L263.95,252.61 L264.14,251.12 L264.33,249.63 L264.52,248.14 L264.71,246.65 L264.92,245.16 L265.12,243.68 L265.34,242.19 L265.56,240.71 L265.78,239.22 L266.02,237.74 L266.26,236.26 L266.51,234.78 L266.77,233.30 L267.04,231.82 L267.33,230.35 L267.62,228.87 L267.91,227.40 L268.22,225.94 L268.53,224.47 L268.85,223.01 L269.17,221.56 L269.49,220.11 L269.81,218.67 L270.13,217.23 L270.47,215.80 L270.85,214.38 L271.29,212.96 L271.85,211.55 L272.54,210.15 L273.39,208.74 L274.42,207.38 L275.59,206.24 L276.84,205.49 L278.12,205.33 L279.38,205.84 L280.58,206.83 L281.67,208.12 L282.60,209.52 L283.37,210.92 L283.99,212.32 L284.50,213.73 L284.93,215.14 L285.31,216.56 L285.66,217.99 L286.01,219.42 L286.36,220.86 L286.71,222.31 L287.06,223.76 L287.41,225.21 L287.75,226.67 L288.09,228.13 L288.42,229.60 L288.75,231.06 L289.07,232.53 L289.39,234.00 L289.70,235.46 L290.01,236.93 L290.31,238.40 L290.60,239.87 L290.89,241.35 L291.18,242.82 L291.46,244.29 L291.74,245.77 L292.01,247.25 L292.28,248.72 L292.54,250.20 L292.80,251.68 L293.05,253.16 L293.31,254.64 L293.55,256.12 L293.80,257.60 L294.04,259.08 L294.27,260.56 L294.50,262.04 L294.73,263.52 L294.96,265.01 L295.18,266.49 L295.40,267.97 L295.62,269.45 L295.83,270.94 L296.04,272.42 L296.25,273.90 L296.46,275.39 L296.66,276.87 L296.86,278.36 L297.06,279.84 L297.26,281.33 L297.46,282.81 L297.65,284.30 L297.84,285.78 L298.03,287.27 L298.22,288.75 L298.41,290.24 L298.60,291.72 L298.78,293.21 L298.97,294.70 L299.15,296.18 L299.34,297.67 L299.52,299.16 L299.70,300.64 L299.88,302.13 L300.06,303.62 L300.25,305.11 L300.43,306.60 L300.61,308.08 L300.79,309.57 L300.97,311.06 L301.14,312.55 L301.32,314.04 L301.50,315.53 L301.68,317.02 L301.85,318.51 L302.03,320.00 L302.20,321.49 L302.38,322.98 L302.55,324.47 L302.73,325.96 L302.90,327.45 L303.07,328.94 L303.24,330.43 L303.41,331.92 L303.58,333.41 L303.75,334.90 L303.92,336.39 L304.09,337.88 L304.25,339.37 L304.42,340.87 L304.58,342.36 L304.75,343.85 L304.91,345.34 L305.07,346.83 L305.23,348.32 L305.39,349.82 L305.55,351.31 L305.71,352.80 L305.86,354.29 L306.02,355.79 L306.17,357.28 L306.33,358.77 L306.48,360.26 L306.63,361.76 L306.78,363.25 L306.93,364.74 L307.08,366.23 L307.22,367.73 L307.37,369.22 L307.51,370.71 L307.65,372.21 L307.79,373.70 L307.93,375.19 L308.07,376.68 L308.21,378.18 L308.35,379.67 L308.48,381.16 L308.61,382.66 L308.75,384.15 L308.88,385.64 L309.00,387.13 L309.13,388.63 L309.26,390.12 L309.38,391.61 L309.51,393.11 L309.63,394.60 L309.75,396.09 L309.86,397.58 L309.98,399.08 L310.10,400.57 L310.21,402.06 L310.32,403.55 L310.43,405.05 L310.55,406.54 L310.66,408.03 L310.76,409.52 L310.87,411.02 L310.98,412.51 L311.09,414.00 L311.20,415.49 L311.31,416.99 L311.42,418.48 L311.53,419.97 L311.64,421.46 L311.75,422.96 L311.86,424.45 L311.97,425.94 L312.08,427.43 L312.20,428.93 L312.31,430.42 L312.43,431.91 L312.55,433.40 L312.67,434.90 L312.79,436.39 L312.91,437.88 L313.04,439.37 L313.17,440.87 L313.30,442.36 L313.43,443.85 L313.56,445.35 L313.70,446.84 L313.84,448.33 L313.99,449.83 L314.14,451.32 L314.29,452.81 L314.44,454.31 L314.60,455.80 L314.76,457.29 L314.92,458.79 L315.09,460.28 L315.26,461.77 L315.44,463.27 L315.62,464.76 L315.81,466.26 L316.00,467.75 L316.20,469.24 L316.40,470.74 L316.60,472.23 L316.81,473.73 L317.03,475.22 L317.25,476.72 L317.47,478.21 L317.71,479.71 L317.95,481.20 L318.19,482.70 L318.44,484.19 L318.69,485.69 L318.95,487.18 L319.21,488.67 L319.47,490.14 L319.73,491.61 L319.99,493.06 L320.24,494.50 L320.48,495.93 L320.71,497.33 L320.93,498.71 L321.15,500.07 L321.37,501.44 L321.61,502.83 L321.88,504.26 L322.19,505.75 L322.56,507.31 L323.00,508.98 L323.52,510.75 L324.11,512.59 L324.77,514.33 L325.47,515.83 L326.17,516.93 L326.88,517.47 L327.55,517.33 L328.20,516.57 L328.80,515.31 L329.38,513.68 L329.92,511.84 L330.42,509.89 L330.89,507.99 L331.33,506.23 L331.73,504.58 L332.11,503.05 L332.47,501.59 L332.81,500.21 L333.15,498.87 L333.48,497.55 L333.81,496.24 L334.15,494.92 L334.50,493.56 L334.86,492.18 L335.22,490.76 L335.58,489.33 L335.95,487.87 L336.31,486.40 L336.66,484.91 L337.00,483.41 L337.33,481.91 L337.65,480.41 L337.94,478.91 L338.22,477.42 L338.49,475.92 L338.75,474.43 L339.02,472.95 L339.28,471.47 L339.56,470.00 L339.85,468.53 L340.16,467.07 L340.49,465.62 L340.85,464.17 L341.24,462.74 L341.68,461.31 L342.16,459.89 L342.68,458.49 L343.26,457.09 L343.90,455.71 L344.61,454.33 L345.39,453.00 L346.29,451.78 L347.32,450.71 L348.51,449.86 L349.87,449.25 L351.33,448.76 L352.80,448.30 L354.21,447.73 L355.54,447.03 L356.77,446.21 L357.92,445.26 L358.99,444.22 L359.98,443.09 L360.90,441.89 L361.76,440.62 L362.55,439.31 L363.28,437.96 L363.95,436.59 L364.58,435.20 L365.16,433.81 L365.70,432.41 L366.21,430.99 L366.68,429.57 L367.14,428.15 L367.58,426.72 L368.00,425.29 L368.42,423.86 L368.84,422.43 L369.27,421.00 L369.71,419.57 L370.16,418.15 L370.63,416.73 L371.11,415.32 L371.60,413.90 L372.11,412.50 L372.62,411.09 L373.15,409.68 L373.68,408.28 L374.22,406.88 L374.77,405.48 L375.32,404.09 L375.88,402.69 L376.44,401.29 L377.00,399.90 L377.56,398.50 L378.13,397.11 L378.69,395.71 L379.25,394.31 L379.80,392.91 L380.35,391.52 L380.90,390.11 L381.44,388.71 L381.97,387.31 L382.49,385.90 L383.01,384.49 L383.52,383.08 L384.02,381.67 L384.51,380.25 L385.00,378.84 L385.47,377.42 L385.95,375.99 L386.41,374.57 L386.86,373.15 L387.31,371.72 L387.75,370.29 L388.19,368.86 L388.61,367.43 L389.03,365.99 L389.44,364.56 L389.85,363.12 L390.25,361.68 L390.64,360.23 L391.02,358.79 L391.40,357.35 L391.77,355.90 L392.13,354.45 L392.48,353.00 L392.83,351.55 L393.18,350.09 L393.51,348.64 L393.84,347.18 L394.16,345.72 L394.48,344.26 L394.78,342.80 L395.09,341.34 L395.38,339.87 L395.67,338.40 L395.95,336.94 L396.23,335.47 L396.50,334.00 L396.76,332.52 L397.02,331.05 L397.27,329.58 L397.52,328.10 L397.76,326.62 L397.99,325.14 L398.22,323.66 L398.44,322.18 L398.65,320.70 L398.86,319.22 L399.07,317.73 L399.27,316.25 L399.46,314.76 L399.66,313.27 L399.84,311.79 L400.02,310.30 L400.20,308.81 L400.38,307.31 L400.54,305.82 L400.71,304.33 L400.87,302.84 L401.03,301.34 L401.19,299.85 L401.34,298.35 L401.49,296.86 L401.63,295.36 L401.78,293.87 L401.92,292.37 L402.05,290.87 L402.19,289.37 L402.32,287.87 L402.45,286.38 L402.58,284.88 L402.71,283.38 L402.84,281.88 L402.96,280.38 L403.08,278.88 L403.21,277.38 L403.33,275.88 L403.45,274.38 L403.57,272.88 L403.68,271.38 L403.80,269.88 L403.92,268.38 L404.04,266.88 L404.16,265.39 L404.27,263.89 L404.39,262.39 L404.51,260.89 L404.63,259.39 L404.75,257.90 L404.87,256.40 L404.99,254.90 L405.12,253.41 L405.24,251.91 L405.37,250.42 L405.49,248.92 L405.62,247.43 L405.75,245.94 L405.89,244.44 L406.02,242.95 L406.16,241.46 L406.30,239.97 L406.44,238.48 L406.58,236.99 L406.72,235.50 L406.86,234.02 L407.01,232.53 L407.15,231.04 L407.30,229.55 L407.45,228.06 L407.60,226.58 L407.75,225.09 L407.90,223.60 L408.05,222.12 L408.20,220.63 L408.35,219.14 L408.50,217.65 L408.65,216.17 L408.80,214.68 L408.95,213.19 L409.10,211.70 L409.25,210.21 L409.40,208.72 L409.55,207.24 L409.70,205.75 L409.84,204.26 L409.99,202.76 L410.14,201.27 L410.28,199.78 L410.43,198.29 L410.57,196.79 L410.71,195.30 L410.85,193.80 L410.99,192.31 L411.12,190.81 L411.26,189.31 L411.39,187.81 L411.52,186.31 L411.65,184.81 L411.78,183.31 L411.91,181.81 L412.03,180.30 L412.16,178.80 L412.30,177.30 L412.43,175.80 L412.57,174.30 L412.72,172.80 L412.87,171.31 L413.03,169.82 L413.20,168.33 L413.37,166.84 L413.56,165.35 L413.75,163.87 L413.96,162.40 L414.18,160.93 L414.41,159.46 L414.65,158.00 L414.90,156.54 L415.15,155.08 L415.40,153.63 L415.65,152.18 L415.88,150.72 L416.09,149.27 L416.29,147.81 L416.50,146.34 L416.75,144.86 L417.08,143.35 L417.52,141.81 L418.12,140.24 L418.89,138.65 L419.82,137.34 L420.84,136.73 L421.91,137.13 L422.95,138.30 L423.86,139.84 L424.58,141.40 L425.13,142.91 L425.53,144.40 L425.83,145.86 L426.05,147.32 L426.24,148.77 L426.41,150.23 L426.59,151.70 L426.78,153.18 L426.96,154.67 L427.15,156.15 L427.34,157.65 L427.53,159.14 L427.73,160.63 L427.94,162.12 L428.15,163.60 L428.36,165.09 L428.58,166.57 L428.80,168.05 L429.03,169.53 L429.26,171.01 L429.49,172.49 L429.72,173.96 L429.96,175.44 L430.20,176.91 L430.43,178.38 L430.67,179.85 L430.91,181.33 L431.15,182.80 L431.39,184.27 L431.63,185.74 L431.86,187.21 L432.10,188.68 L432.33,190.15 L432.56,191.62 L432.79,193.10 L433.01,194.57 L433.23,196.04 L433.45,197.52 L433.66,198.99 L433.87,200.47 L434.07,201.95 L434.27,203.43 L434.46,204.91 L434.65,206.39 L434.83,207.88 L435.00,209.36 L435.16,210.85 L435.32,212.34 L435.47,213.84 L435.60,215.33 L435.74,216.83 L435.86,218.33 L435.98,219.84 L436.09,221.34 L436.20,222.85 L436.30,224.36 L436.39,225.87 L436.49,227.38 L436.58,228.89 L436.67,230.40 L436.76,231.91 L436.85,233.43 L436.94,234.94 L437.03,236.45 L437.12,237.97 L437.22,239.48 L437.31,240.99 L437.42,242.50 L437.52,244.01 L437.63,245.52 L437.75,247.03 L437.88,248.53 L438.01,250.04 L438.15,251.54 L438.30,253.04 L438.46,254.54 L438.63,256.03 L438.80,257.52 L439.00,259.01 L439.20,260.50 L439.42,261.98 L439.65,263.46 L439.89,264.93 L440.15,266.41 L440.43,267.87 L440.72,269.34 L441.03,270.79 L441.36,272.25 L441.71,273.70 L442.08,275.14 L442.46,276.58 L442.87,278.01 L443.30,279.44 L443.75,280.86 L444.22,282.28 L444.70,283.69 L445.20,285.10 L445.72,286.50 L446.24,287.90 L446.78,289.30 L447.33,290.70 L447.89,292.09 L448.45,293.48 L449.02,294.87 L449.60,296.26 L450.18,297.65 L450.76,299.04 L451.33,300.43 L451.91,301.81 L452.49,303.20 L453.06,304.59 L453.62,305.98 L454.18,307.38 L454.73,308.77 L455.27,310.17 L455.79,311.57 L456.31,312.98 L456.81,314.38 L457.29,315.80 L457.76,317.21 L458.21,318.63 L458.65,320.06 L459.08,321.48 L459.49,322.91 L459.90,324.35 L460.29,325.79 L460.66,327.23 L461.03,328.67 L461.39,330.12 L461.74,331.56 L462.09,333.01 L462.42,334.47 L462.75,335.92 L463.07,337.38 L463.38,338.84 L463.70,340.30 L464.00,341.76 L464.30,343.23 L464.60,344.69 L464.90,346.16 L465.19,347.63 L465.49,349.10 L465.78,350.57 L466.08,352.04 L466.37,353.51 L466.67,354.98 L466.96,356.45 L467.26,357.92 L467.57,359.39 L467.88,360.86 L468.19,362.33 L468.51,363.80 L468.83,365.27 L469.16,366.74 L469.50,368.20 L469.84,369.67 L470.19,371.13 L470.55,372.59 L470.92,374.05 L471.29,375.51 L471.67,376.97 L472.06,378.42 L472.46,379.87 L472.87,381.31 L473.28,382.76 L473.71,384.20 L474.15,385.63 L474.59,387.06 L475.05,388.49 L475.52,389.91 L476.00,391.33 L476.49,392.74 L476.99,394.15 L477.51,395.55 L478.04,396.95 L478.58,398.34 L479.13,399.73 L479.70,401.11 L480.28,402.48 L480.87,403.85 L481.48,405.21 L482.10,406.56 L482.73,407.90 L483.39,409.24 L484.05,410.57 L484.74,411.89 L485.43,413.21 L486.14,414.52 L486.85,415.83 L487.56,417.14 L488.27,418.45 L488.97,419.77 L489.65,421.10 L490.33,422.44 L490.98,423.80 L491.60,425.17 L492.20,426.57 L492.76,427.99 L493.29,429.43 L493.77,430.89 L494.23,432.38 L494.67,433.88 L495.11,435.37 L495.57,436.84 L496.06,438.29 L496.61,439.70 L497.21,441.06 L497.90,442.36 L498.68,443.59 L499.58,444.73 L500.60,445.77 L501.74,446.73 L502.97,447.62 L504.25,448.48 L505.54,449.32 L506.82,450.18 L508.04,451.08 L509.17,452.05 L510.19,453.11 L511.11,454.24 L511.93,455.44 L512.66,456.71 L513.33,458.03 L513.93,459.39 L514.48,460.78 L514.99,462.20 L515.46,463.63 L515.92,465.08 L516.36,466.52 L516.79,467.97 L517.20,469.42 L517.61,470.88 L517.99,472.33 L518.37,473.79 L518.73,475.25 L519.08,476.72 L519.42,478.18 L519.76,479.65 L520.08,481.12 L520.39,482.59 L520.69,484.06 L520.99,485.54 L521.27,487.01 L521.55,488.49 L521.82,489.97 L522.09,491.44 L522.35,492.92 L522.60,494.40 L522.85,495.89 L523.10,497.37 L523.34,498.85 L523.58,500.33 L523.82,501.81 L524.05,503.30 L524.28,504.78 L524.51,506.26 L524.74,507.74 L524.97,509.22 L525.20,510.71 L525.43,512.19 L525.66,513.67 L525.89,515.14 L526.12,516.62 L526.36,518.10 L526.60,519.57 L526.85,521.05 L527.09,522.52 L527.34,523.99 L527.59,525.46 L527.85,526.94 L528.10,528.41 L528.36,529.87 L528.62,531.34 L528.89,532.81 L529.15,534.28 L529.42,535.75 L529.69,537.22 L529.96,538.69 L530.23,540.15 L530.50,541.62 L530.78,543.09 L531.05,544.56 L531.33,546.03 L531.60,547.50 L531.88,548.97 L532.16,550.44 L532.44,551.92 L532.71,553.39 L532.99,554.86 L533.27,556.34 L533.55,557.82 L533.83,559.30 L534.10,560.78 L534.38,562.26 L534.66,563.74 L534.93,565.23 L535.21,566.71 L535.48,568.20 L535.76,569.69 L536.04,571.18 L536.34,572.67 L536.67,574.15 L537.05,575.61 L537.47,577.07 L537.96,578.51 L538.53,579.92 L539.17,581.32 L539.92,582.68 L540.77,584.02 L541.74,585.28 L542.81,586.10 L543.95,585.99 L545.08,585.05 L546.11,583.78 L546.99,582.45 L547.74,581.08 L548.36,579.67 L548.88,578.23 L549.31,576.78 L549.68,575.30 L550.00,573.81 L550.28,572.32 L550.56,570.82 L550.83,569.33 L551.12,567.84 L551.41,566.36 L551.72,564.89 L552.04,563.42 L552.37,561.95 L552.70,560.49 L553.04,559.04 L553.38,557.59 L553.73,556.13 L554.07,554.68 L554.42,553.24 L554.77,551.79 L555.11,550.34 L555.45,548.89 L555.79,547.44 L556.12,545.99 L556.45,544.53 L556.77,543.07 L557.08,541.62 L557.39,540.16 L557.70,538.69 L558.00,537.23 L558.29,535.76 L558.58,534.30 L558.87,532.83 L559.15,531.36 L559.43,529.89 L559.70,528.41 L559.97,526.94 L560.23,525.46 L560.49,523.99 L560.75,522.51 L561.00,521.03 L561.25,519.55 L561.50,518.07 L561.75,516.59 L561.99,515.10 L562.22,513.62 L562.46,512.14 L562.69,510.65 L562.92,509.17 L563.15,507.68 L563.38,506.19 L563.60,504.71 L563.82,503.22 L564.04,501.73 L564.26,500.25 L564.48,498.76 L564.69,497.27 L564.91,495.78 L565.12,494.29 L565.33,492.81 L565.54,491.32 L565.75,489.83 L565.96,488.34 L566.17,486.86 L566.38,485.37 L566.59,483.88 L566.80,482.39 L567.00,480.91 L567.21,479.42 L567.41,477.93 L567.62,476.45 L567.82,474.96 L568.02,473.47 L568.23,471.99 L568.43,470.50 L568.63,469.02 L568.83,467.53 L569.03,466.04 L569.23,464.56 L569.43,463.07 L569.63,461.59 L569.83,460.10 L570.03,458.62 L570.23,457.13 L570.43,455.65 L570.62,454.16 L570.82,452.68 L571.02,451.19 L571.21,449.71 L571.41,448.22 L571.61,446.74 L571.80,445.25 L572.00,443.77 L572.19,442.28 L572.39,440.80 L572.59,439.32 L572.78,437.83 L572.98,436.35 L573.17,434.86 L573.37,433.38 L573.56,431.90 L573.76,430.41 L573.95,428.93 L574.15,427.44 L574.34,425.96 L574.54,424.48 L574.73,422.99 L574.93,421.51 L575.12,420.02 L575.32,418.54 L575.51,417.06 L575.71,415.57 L575.91,414.09 L576.10,412.61 L576.30,411.12 L576.50,409.64 L576.69,408.16 L576.89,406.67 L577.09,405.19 L577.29,403.71 L577.49,402.22 L577.68,400.74 L577.88,399.26 L578.08,397.77 L578.28,396.29 L578.48,394.81 L578.69,393.32 L578.89,391.84 L579.09,390.36 L579.29,388.87 L579.49,387.39 L579.70,385.91 L579.90,384.42 L580.11,382.94 L580.31,381.46 L580.52,379.97 L580.73,378.49 L580.93,377.01 L581.14,375.52 L581.35,374.04 L581.56,372.56 L581.77,371.07 L581.98,369.59 L582.19,368.11 L582.41,366.62 L582.62,365.14 L582.83,363.65 L583.05,362.17 L583.27,360.69 L583.48,359.20 L583.70,357.72 L583.92,356.23 L584.14,354.75 L584.36,353.27 L584.58,351.78 L584.81,350.30 L585.03,348.81 L585.25,347.33 L585.48,345.84 L585.71,344.36 L585.94,342.87 L586.17,341.39 L586.40,339.91 L586.63,338.42 L586.86,336.94 L587.10,335.45 L587.33,333.97 L587.57,332.48 L587.81,330.99 L588.05,329.51 L588.29,328.02 L588.53,326.54 L588.77,325.05 L589.02,323.57 L589.26,322.08 L589.51,320.59 L589.76,319.11 L590.01,317.62 L590.27,316.14 L590.52,314.65 L590.78,313.17 L591.04,311.69 L591.30,310.21 L591.57,308.73 L591.84,307.25 L592.12,305.77 L592.39,304.29 L592.67,302.82 L592.96,301.35 L593.25,299.88 L593.54,298.41 L593.84,296.94 L594.14,295.48 L594.45,294.02 L594.77,292.56 L595.08,291.11 L595.41,289.66 L595.74,288.21 L596.08,286.77 L596.42,285.33 L596.77,283.89 L597.12,282.45 L597.48,281.03 L597.85,279.60 L598.23,278.18 L598.61,276.76 L599.00,275.35 L599.40,273.95 L599.80,272.54 L600.22,271.15 L600.64,269.75 L601.08,268.36 L601.54,266.95 L602.03,265.52 L602.55,264.05 L603.12,262.55 L603.74,261.01 L604.43,259.48 L605.23,258.07 L606.18,256.85 L607.30,255.92 L608.61,255.37 L610.03,255.23 L611.40,255.51 L612.58,256.23 L613.51,257.33 L614.26,258.69 L614.88,260.21 L615.42,261.78 L615.91,263.32 L616.36,264.84 L616.77,266.34 L617.14,267.83 L617.49,269.29 L617.81,270.75 L618.10,272.19 L618.37,273.63 L618.61,275.06 L618.85,276.49 L619.07,277.92 L619.28,279.36 L619.48,280.79 L619.68,282.24 L619.87,283.69 L620.06,285.15 L620.25,286.61 L620.43,288.08 L620.61,289.56 L620.78,291.04 L620.95,292.52 L621.12,294.00 L621.29,295.49 L621.45,296.99 L621.61,298.48 L621.77,299.98 L621.92,301.48 L622.08,302.98 L622.23,304.48 L622.39,305.98 L622.54,307.48 L622.69,308.98 L622.84,310.48 L622.99,311.98 L623.14,313.48 L623.28,314.98 L623.43,316.48 L623.58,317.98 L623.72,319.48 L623.87,320.98 L624.01,322.48 L624.15,323.98 L624.30,325.48 L624.44,326.98 L624.58,328.48 L624.72,329.98 L624.86,331.48 L625.00,332.97 L625.14,334.47 L625.27,335.97 L625.41,337.47 L625.55,338.96 L625.68,340.46 L625.82,341.96 L625.95,343.45 L626.08,344.95 L626.22,346.45 L626.35,347.94 L626.48,349.44 L626.61,350.94 L626.74,352.43 L626.87,353.93 L627.00,355.42 L627.13,356.92 L627.25,358.41 L627.38,359.91 L627.51,361.40 L627.63,362.89 L627.76,364.39 L627.88,365.88 L628.01,367.37 L628.13,368.87 L628.25,370.36 L628.38,371.85 L628.50,373.35 L628.62,374.84 L628.74,376.33 L628.86,377.82 L628.98,379.31 L629.10,380.81 L629.22,382.30 L629.34,383.79 L629.45,385.28 L629.57,386.77 L629.69,388.26 L629.80,389.75 L629.92,391.24 L630.03,392.73 L630.15,394.22 L630.26,395.71 L630.38,397.20 L630.49,398.69 L630.60,400.17 L630.72,401.66 L630.83,403.15 L630.94,404.64 L631.05,406.13 L631.16,407.61 L631.27,409.10 L631.38,410.59 L631.49,412.07 L631.60,413.56 L631.71,415.05 L631.82,416.54 L631.93,418.02 L632.04,419.51 L632.15,421.00 L632.26,422.49 L632.37,423.97 L632.48,425.46 L632.59,426.95 L632.70,428.44 L632.81,429.93 L632.93,431.42 L633.04,432.91 L633.15,434.40 L633.26,435.89 L633.37,437.38 L633.49,438.87 L633.60,440.36 L633.71,441.85 L633.83,443.34 L633.94,444.84 L634.06,446.33 L634.17,447.83 L634.29,449.32 L634.41,450.82 L634.53,452.31 L634.64,453.81 L634.76,455.31 L634.88,456.81 L635.01,458.30 L635.13,459.80 L635.25,461.31 L635.38,462.81 L635.50,464.31 L635.63,465.81 L635.76,467.32 L635.88,468.82 L636.01,470.33 L636.15,471.84 L636.28,473.35 L636.41,474.86 L636.55,476.37 L636.68,477.88 L636.82,479.39 L636.96,480.91 L637.10,482.42 L637.24,483.94 L637.38,485.45 L637.53,486.97 L637.67,488.49 L637.82,490.01 L637.97,491.53 L638.12,493.05 L638.27,494.56 L638.42,496.08 L638.57,497.59 L638.72,499.11 L638.88,500.62 L639.03,502.13 L639.18,503.63 L639.34,505.14 L639.49,506.64 L639.65,508.14 L639.81,509.63 L639.96,511.12 L640.12,512.60 L640.27,514.09 L640.43,515.56 L640.59,517.03 L640.74,518.50 L640.90,519.96 L641.05,521.41 L641.21,522.86 L641.36,524.30 L641.51,525.74 L641.67,527.17 L641.82,528.59 L641.97,530.00 L642.13,531.42 L642.30,532.83 L642.47,534.23 L642.65,535.64 L642.84,537.05 L643.05,538.47 L643.27,539.89 L643.51,541.31 L643.76,542.74 L644.04,544.19 L644.34,545.64 L644.67,547.10 L645.02,548.58 L645.40,550.08 L645.81,551.59 L646.25,553.11 L646.73,554.66 L647.25,556.23 L647.80,557.82 L648.39,559.43 L649.02,561.07 L649.70,562.72 L650.44,564.28 L651.26,565.59 L652.18,566.51 L653.22,566.87 L654.38,566.58 L655.61,565.76 L656.83,564.60 L657.98,563.29 L658.99,561.97 L659.88,560.66 L660.67,559.36 L661.38,558.07 L662.04,556.77 L662.66,555.47 L663.26,554.16 L663.87,552.84 L664.49,551.50 L665.10,550.15 L665.72,548.79 L666.33,547.42 L666.94,546.04 L667.54,544.66 L668.13,543.26 L668.71,541.87 L669.27,540.46 L669.82,539.06 L670.35,537.64 L670.87,536.23 L671.37,534.81 L671.87,533.39 L672.35,531.96 L672.81,530.53 L673.26,529.10 L673.71,527.67 L674.14,526.23 L674.56,524.79 L674.97,523.35 L675.37,521.90 L675.76,520.45 L676.14,519.00 L676.51,517.55 L676.87,516.09 L677.23,514.64 L677.58,513.18 L677.92,511.72 L678.26,510.26 L678.59,508.79 L678.91,507.33 L679.23,505.86 L679.55,504.40 L679.86,502.93 L680.17,501.46 L680.47,499.99 L680.77,498.52 L681.07,497.05 L681.37,495.58 L681.67,494.11 L681.96,492.64 L682.26,491.17 L682.55,489.70 L682.85,488.23 L683.14,486.76 L683.44,485.29 L683.74,483.82 L684.04,482.36 L684.34,480.89 L684.65,479.42 L684.96,477.96 L685.27,476.49 L685.59,475.03 L685.90,473.57 L686.23,472.11 L686.55,470.65 L686.88,469.19 L687.21,467.73 L687.55,466.27 L687.89,464.82 L688.23,463.36 L688.58,461.91 L688.93,460.46 L689.29,459.01 L689.66,457.56 L690.03,456.11 L690.40,454.67 L690.78,453.22 L691.17,451.78 L691.56,450.34 L691.95,448.90 L692.36,447.46 L692.77,446.02 L693.19,444.59 L693.61,443.16 L694.04,441.73 L694.48,440.30 L694.92,438.87 L695.37,437.45 L695.83,436.02 L696.30,434.60 L696.77,433.18 L697.26,431.77 L697.75,430.35 L698.25,428.94 L698.76,427.53 L699.27,426.12 L699.80,424.71 L700.33,423.31 L700.88,421.91 L701.43,420.51 L702.00,419.12 L702.57,417.72 L703.15,416.33 L703.74,414.94 L704.34,413.55 L704.95,412.17 L705.55,410.78 L706.16,409.40 L706.77,408.02 L707.38,406.64 L707.98,405.25 L708.57,403.87 L709.15,402.49 L709.72,401.10 L710.28,399.72 L710.83,398.33 L711.36,396.94 L711.87,395.54 L712.35,394.14 L712.82,392.74 L713.26,391.34 L713.67,389.93 L714.05,388.52 L714.45,387.10 L714.94,385.66 L715.58,384.20 L716.42,382.79 L717.47,381.58 L718.74,380.72 L720.12,380.39 L721.49,380.73 L722.70,381.58 L723.66,382.71 L724.39,384.05 L724.95,385.52 L725.39,387.06 L725.77,388.63 L726.14,390.16 L726.51,391.64 L726.89,393.09 L727.27,394.52 L727.65,395.93 L728.02,397.33 L728.39,398.73 L728.75,400.14 L729.11,401.56 L729.45,402.98 L729.79,404.42 L730.12,405.87 L730.45,407.32 L730.76,408.78 L731.07,410.25 L731.38,411.72 L731.68,413.20 L731.98,414.68 L732.27,416.17 L732.55,417.66 L732.84,419.15 L733.11,420.64 L733.39,422.13 L733.66,423.62 L733.93,425.11 L734.20,426.60 L734.47,428.09 L734.73,429.57 L735.00,431.05 L735.26,432.53 L735.52,434.01 L735.78,435.48 L736.04,436.96 L736.29,438.43 L736.55,439.90 L736.81,441.37 L737.06,442.83 L737.32,444.30 L737.57,445.77 L737.83,447.24 L738.08,448.70 L738.34,450.17 L738.59,451.64 L738.85,453.10 L739.11,454.57 L739.36,456.04 L739.62,457.51 L739.88,458.98 L740.14,460.45 L740.40,461.93 L740.66,463.40 L740.93,464.88 L741.19,466.36 L741.46,467.84 L741.72,469.33 L742.00,470.82 L742.27,472.30 L742.56,473.79 L742.87,475.27 L743.19,476.74 L743.55,478.20 L743.93,479.65 L744.35,481.08 L744.81,482.50 L745.32,483.89 L745.88,485.26 L746.49,486.60 L747.16,487.91 L747.90,489.19 L748.71,490.44 L749.59,491.65 L750.56,492.82 L751.61,493.95 L752.75,495.03 L753.98,495.99 L755.32,496.74 L756.78,497.16 L758.31,497.31 L759.86,497.40 L761.35,497.64 L762.76,498.11 L764.08,498.78 L765.31,499.63 L766.46,500.60 L767.51,501.67 L768.49,502.79 L769.39,503.95 L770.21,505.16 L770.96,506.40 L771.64,507.69 L772.27,509.01 L772.84,510.35 L773.35,511.73 L773.82,513.13 L774.25,514.56 L774.64,516.00 L775.00,517.46 L775.33,518.94 L775.64,520.43 L775.93,521.92 L776.20,523.42 L776.47,524.92 L776.73,526.42 L776.99,527.93 L777.24,529.43 L777.49,530.93 L777.73,532.43 L777.98,533.93 L778.21,535.43 L778.45,536.93 L778.68,538.43 L778.90,539.92 L779.12,541.42 L779.34,542.92 L779.56,544.42 L779.77,545.91 L779.98,547.41 L780.18,548.91 L780.38,550.40 L780.58,551.90 L780.78,553.39 L780.97,554.89 L781.16,556.38 L781.35,557.88 L781.53,559.37 L781.71,560.87 L781.89,562.36 L782.06,563.85 L782.23,565.35 L782.40,566.84 L782.57,568.33 L782.73,569.82 L782.89,571.31 L783.05,572.81 L783.21,574.30 L783.37,575.79 L783.52,577.28 L783.67,578.77 L783.82,580.26 L783.96,581.75 L784.11,583.24 L784.25,584.73 L784.39,586.22 L784.53,587.71 L784.66,589.20 L784.80,590.69 L784.93,592.18 L785.06,593.67 L785.19,595.16 L785.32,596.65 L785.45,598.14 L785.58,599.63 L785.70,601.12 L785.82,602.60 L785.95,604.09 L786.07,605.58 L786.19,607.07 L786.30,608.56 L786.42,610.05 L786.54,611.54 L786.66,613.02 L786.77,614.51 L786.89,616.00 L787.00,617.49 L787.11,618.98 L787.23,620.47 L787.34,621.96 L787.45,623.44 L787.56,624.93 L787.67,626.42 L787.78,627.91 L787.89,629.40 L788.00,630.89 L788.11,632.38 L788.22,633.87 L788.33,635.35 L788.44,636.84 L788.55,638.33 L788.67,639.82 L788.78,641.31 L788.89,642.80 L789.00,644.29 L789.11,645.78 L789.22,647.27 L789.34,648.76 L789.45,650.25 L789.56,651.74 L789.68,653.24 L789.80,654.73 L789.91,656.22 L790.03,657.71 L790.15,659.20 L790.27,660.69 L790.39,662.19 L790.51,663.68 L790.63,665.17 L790.76,666.66 L790.88,668.16 L791.00,669.65 L791.13,671.14 L791.26,672.64 L791.39,674.13 L791.51,675.63 L791.64,677.12 L791.77,678.62 L791.90,680.11 L792.03,681.60 L792.17,683.10 L792.30,684.59 L792.43,686.09 L792.57,687.59 L792.70,689.08 L792.83,690.58 L792.97,692.07 L793.11,693.57 L793.24,695.06 L793.38,696.56 L793.52,698.06 L793.65,699.55 L793.79,701.05 L793.93,702.55 L794.07,704.04 L794.20,705.54 L794.34,707.04 L794.48,708.53 L794.62,710.03 L794.76,711.53 L794.90,713.02 L795.04,714.52 L795.18,716.02 L795.32,717.52 L795.46,719.01 L795.60,720.51 L795.74,722.01 L795.88,723.50 L796.02,725.00 L796.15,726.50 L796.29,728.00 L796.43,729.49 L796.57,730.99 L796.71,732.49 L796.85,733.98 L796.99,735.48 L797.12,736.98 L797.26,738.48 L797.40,739.97 L797.53,741.47 L797.67,742.97 L797.81,744.46 L797.94,745.96 L798.08,747.46 L798.21,748.95 L798.34,750.45 L798.48,751.95 L798.61,753.44 L798.74,754.94 L798.88,756.43 L799.01,757.93 L799.15,759.42 L799.29,760.92 L799.43,762.41 L799.57,763.90 L799.71,765.40 L799.86,766.89 L800.01,768.38 L800.17,769.87 L800.33,771.36 L800.50,772.85 L800.67,774.34 L800.84,775.82 L801.02,777.31 L801.21,778.79 L801.40,780.27 L801.60,781.75 L801.81,783.23 L802.03,784.71 L802.25,786.19 L802.48,787.66 L802.72,789.14 L802.97,790.61 L803.23,792.08 L803.50,793.55 L803.78,795.01 L804.07,796.48 L804.37,797.94 L804.68,799.40 L805.00,800.86 L805.34,802.31 L805.69,803.77 L806.05,805.22 L806.42,806.67 L806.80,808.11 L807.21,809.56 L807.62,811.00 L808.05,812.43 L808.49,813.87 L808.95,815.30 L809.43,816.73 L809.92,818.16 L810.42,819.58 L810.95,821.01 L811.49,822.42 L812.05,823.84 L812.63,825.24 L813.23,826.64 L813.85,828.02 L814.51,829.39 L815.18,830.74 L815.89,832.07 L816.63,833.38 L817.40,834.67 L818.21,835.92 L819.05,837.15 L819.93,838.34 L820.86,839.50 L821.82,840.62 L822.83,841.70 L823.88,842.74 L824.98,843.74 L826.11,844.70 L827.28,845.63 L828.48,846.53 L829.71,847.40 L830.96,848.26 L832.22,849.09 L833.50,849.91 L834.79,850.73 L836.09,851.53 L837.39,852.33 L838.69,853.14 L839.98,853.94 L841.26,854.76 L842.52,855.59 L843.77,856.43 L845.00,857.29 L846.21,858.17 L847.40,859.06 L848.57,859.98 L849.71,860.92 L850.83,861.88 L851.92,862.86 L852.99,863.87 L854.02,864.91 L855.02,865.98 L855.99,867.07 L856.93,868.20 L857.84,869.36 L858.71,870.55 L859.56,871.76 L860.38,873.00 L861.19,874.25 L861.98,875.53 L862.76,876.81 L863.54,878.11 L864.31,879.42 L865.09,880.73 L865.87,882.04 L866.66,883.35 L867.46,884.66 L868.28,885.96 L869.12,887.24 L869.99,888.52 L870.87,889.78 L871.78,891.02 L872.71,892.23 L873.67,893.42 L874.65,894.58 L875.66,895.71 L876.70,896.80 L877.77,897.86 L878.86,898.87 L879.98,899.84 L881.14,900.76 L882.32,901.63 L883.54,902.45 L884.78,903.21 L886.07,903.91 L887.38,904.55 L888.73,905.12 L890.12,905.62 L891.54,906.07 L892.98,906.45 L894.45,906.79 L895.94,907.07 L897.45,907.32 L898.97,907.52 L900.50,907.69 L902.04,907.84 L903.59,907.96 L905.14,908.05 L906.68,908.14 L908.23,908.21 L909.76,908.28 L911.28,908.35 L912.79,908.42 L914.28,908.50 L915.74,908.60 L917.19,908.71 L918.60,908.85 L919.99,909.01" fill="none" stroke="#000000" stroke-width="3" stroke-linejoin="round"/>
<path d="M1585.00,908.98 L1586.45,908.95 L1587.91,908.89 L1589.38,908.81 L1590.86,908.71 L1592.35,908.58 L1593.84,908.43 L1595.34,908.25 L1596.84,908.05 L1598.34,907.82 L1599.83,907.55 L1601.32,907.27 L1602.81,906.94 L1604.29,906.59 L1605.75,906.21 L1607.21,905.79 L1608.65,905.34 L1610.08,904.86 L1611.49,904.34 L1612.88,903.78 L1614.25,903.18 L1615.60,902.55 L1616.92,901.87 L1618.22,901.16 L1619.49,900.41 L1620.73,899.61 L1621.94,898.77 L1623.11,897.89 L1624.25,896.96 L1625.35,895.99 L1626.41,894.97 L1627.44,893.92 L1628.44,892.82 L1629.41,891.69 L1630.34,890.53 L1631.24,889.34 L1632.11,888.12 L1632.96,886.87 L1633.78,885.60 L1634.57,884.30 L1635.33,882.99 L1636.07,881.66 L1636.79,880.31 L1637.49,878.95 L1638.16,877.59 L1638.82,876.21 L1639.45,874.83 L1640.07,873.44 L1640.67,872.05 L1641.25,870.66 L1641.81,869.26 L1642.36,867.86 L1642.89,866.46 L1643.40,865.06 L1643.90,863.65 L1644.39,862.23 L1644.86,860.82 L1645.31,859.40 L1645.75,857.98 L1646.17,856.56 L1646.58,855.13 L1646.98,853.70 L1647.37,852.27 L1647.74,850.83 L1648.10,849.39 L1648.44,847.95 L1648.78,846.51 L1649.10,845.06 L1649.42,843.62 L1649.72,842.16 L1650.01,840.71 L1650.29,839.26 L1650.56,837.80 L1650.83,836.34 L1651.08,834.88 L1651.33,833.42 L1651.56,831.95 L1651.79,830.49 L1652.01,829.02 L1652.23,827.55 L1652.43,826.07 L1652.63,824.60 L1652.82,823.13 L1653.01,821.65 L1653.19,820.17 L1653.37,818.69 L1653.54,817.21 L1653.71,815.73 L1653.87,814.24 L1654.03,812.76 L1654.18,811.27 L1654.34,809.78 L1654.48,808.30 L1654.63,806.81 L1654.77,805.32 L1654.92,803.83 L1655.06,802.33 L1655.19,800.84 L1655.33,799.35 L1655.47,797.85 L1655.61,796.36 L1655.74,794.87 L1655.88,793.37 L1656.02,791.87 L1656.16,790.38 L1656.30,788.88 L1656.44,787.39 L1656.59,785.89 L1656.74,784.39 L1656.89,782.89 L1657.04,781.40 L1657.20,779.90 L1657.36,778.40 L1657.52,776.91 L1657.69,775.41 L1657.86,773.91 L1658.04,772.42 L1658.22,770.92 L1658.40,769.43 L1658.59,767.93 L1658.78,766.44 L1658.98,764.95 L1659.17,763.45 L1659.37,761.96 L1659.57,760.47 L1659.78,758.98 L1659.98,757.49 L1660.19,756.00 L1660.40,754.52 L1660.61,753.03 L1660.83,751.54 L1661.04,750.06 L1661.26,748.58 L1661.47,747.09 L1661.69,745.61 L1661.91,744.13 L1662.13,742.66 L1662.35,741.18 L1662.57,739.71 L1662.79,738.23 L1663.00,736.76 L1663.22,735.29 L1663.44,733.82 L1663.66,732.36 L1663.88,730.89 L1664.09,729.43 L1664.31,727.97 L1664.52,726.51 L1664.73,725.06 L1664.94,723.60 L1665.15,722.15 L1665.36,720.70 L1665.56,719.25 L1665.76,717.81 L1665.96,716.37 L1666.16,714.93 L1666.35,713.49 L1666.55,712.05 L1666.75,710.62 L1666.96,709.18 L1667.19,707.74 L1667.43,706.30 L1667.70,704.86 L1667.99,703.41 L1668.31,701.96 L1668.67,700.50 L1669.07,699.03 L1669.51,697.56 L1670.00,696.07 L1670.54,694.58 L1671.13,693.07 L1671.79,691.55 L1672.50,690.02 L1673.29,688.48 L1674.15,686.99 L1675.08,685.72 L1676.08,684.82 L1677.15,684.45 L1678.28,684.74 L1679.42,685.55 L1680.52,686.74 L1681.50,688.13 L1682.35,689.61 L1683.10,691.14 L1683.76,692.68 L1684.35,694.20 L1684.90,695.65 L1685.42,697.03 L1685.92,698.36 L1686.40,699.65 L1686.87,700.93 L1687.33,702.21 L1687.79,703.51 L1688.25,704.85 L1688.72,706.22 L1689.19,707.62 L1689.67,709.04 L1690.14,710.49 L1690.62,711.95 L1691.10,713.43 L1691.57,714.91 L1692.05,716.40 L1692.52,717.89 L1692.99,719.38 L1693.46,720.86 L1693.93,722.33 L1694.38,723.79 L1694.84,725.23 L1695.29,726.64 L1695.73,728.03 L1696.16,729.39 L1696.58,730.71 L1697.00,732.00" fill="none" stroke="#000000" stroke-width="3" stroke-linejoin="round"/>
<line x1="919.99" y1="909.0" x2="1585.00" y2="909.0" stroke="#000000" stroke-width="3"/>
<path d="M180.50,876.28 L181.89,876.86 L183.31,877.36 L184.76,877.79 L186.22,878.14 L187.71,878.41 L189.20,878.61 L190.71,878.73 L192.22,878.78 L193.72,878.76 L195.23,878.66 L196.72,878.48 L198.19,878.23 L199.64,877.90 L201.07,877.51 L202.47,877.03 L203.84,876.49 L205.19,875.88 L206.51,875.22 L207.81,874.50 L209.09,873.74 L210.35,872.93 L211.59,872.09 L212.82,871.22 L214.04,870.32 L215.25,869.40 L216.46,868.46 L217.65,867.52 L218.84,866.57 L220.02,865.60 L221.18,864.62 L222.33,863.62 L223.46,862.61 L224.56,861.58 L225.64,860.53 L226.69,859.45 L227.71,858.36 L228.70,857.24 L229.65,856.09 L230.56,854.92 L231.43,853.72 L232.25,852.49 L233.03,851.23 L233.77,849.94 L234.47,848.63 L235.13,847.29 L235.76,845.94 L236.36,844.56 L236.94,843.17 L237.48,841.76 L238.01,840.34 L238.51,838.91 L239.00,837.47 L239.47,836.03 L239.93,834.57 L240.38,833.12 L240.82,831.67 L241.25,830.21 L241.69,828.76 L242.12,827.31 L242.55,825.87 L242.99,824.43 L243.42,822.99 L243.85,821.56 L244.28,820.12 L244.71,818.69 L245.14,817.26 L245.57,815.84 L246.00,814.41 L246.43,812.99 L246.87,811.57 L247.30,810.15 L247.74,808.73 L248.18,807.32 L248.62,805.90 L249.06,804.48 L249.51,803.07 L249.96,801.65 L250.41,800.24 L250.87,798.82 L251.33,797.41 L251.80,795.99 L252.26,794.58 L252.74,793.16 L253.21,791.74 L253.69,790.32 L254.17,788.90 L254.65,787.49 L255.13,786.07 L255.62,784.65 L256.10,783.22 L256.59,781.80 L257.07,780.38 L257.56,778.96 L258.04,777.53 L258.52,776.11 L259.00,774.68 L259.48,773.26 L259.95,771.83 L260.43,770.40 L260.89,768.97 L261.36,767.55 L261.82,766.12 L262.28,764.68 L262.73,763.25 L263.17,761.82 L263.61,760.39 L264.05,758.95 L264.49,757.52 L264.92,756.09 L265.34,754.65 L265.77,753.22 L266.19,751.78 L266.62,750.35 L267.04,748.92 L267.47,747.48 L267.89,746.05 L268.32,744.62 L268.75,743.19 L269.18,741.76 L269.62,740.33 L270.06,738.90 L270.50,737.48 L270.95,736.05 L271.41,734.63 L271.87,733.21 L272.34,731.79 L272.81,730.37 L273.30,728.96 L273.79,727.55 L274.29,726.14 L274.81,724.73 L275.33,723.33 L275.87,721.93 L276.41,720.53 L276.97,719.14 L277.54,717.75 L278.13,716.36 L278.73,714.98 L279.34,713.60 L279.97,712.22 L280.61,710.85 L281.30,709.50 L282.05,708.20 L282.92,706.97 L283.92,705.84 L285.10,704.85 L286.42,704.07 L287.85,703.60 L289.33,703.55 L290.79,703.91 L292.13,704.59 L293.31,705.51 L294.34,706.60 L295.26,707.82 L296.09,709.13 L296.88,710.46 L297.64,711.80 L298.37,713.14 L299.08,714.48 L299.77,715.82 L300.43,717.16 L301.08,718.50 L301.70,719.85 L302.30,721.21 L302.88,722.56 L303.45,723.93 L304.00,725.29 L304.53,726.67 L305.05,728.05 L305.56,729.44 L306.05,730.84 L306.53,732.25 L307.01,733.67 L307.47,735.10 L307.92,736.53 L308.37,737.99 L308.81,739.45 L309.24,740.92 L309.67,742.40 L310.09,743.88 L310.51,745.36 L310.92,746.83 L311.33,748.29 L311.74,749.74 L312.14,751.17 L312.54,752.59 L312.94,753.98 L313.34,755.34 L313.73,756.67 L314.13,757.99 L314.54,759.31 L314.96,760.63 L315.41,761.98 L315.88,763.36 L316.37,764.78 L316.90,766.26 L317.47,767.81 L318.09,769.44 L318.75,771.16 L319.47,772.93 L320.22,774.69 L321.02,776.34 L321.84,777.84 L322.70,779.11 L323.57,780.07 L324.47,780.65 L325.37,780.79 L326.29,780.45 L327.20,779.68 L328.10,778.57 L328.99,777.19 L329.85,775.63 L330.67,773.97 L331.45,772.28 L332.17,770.64 L332.85,769.07 L333.47,767.57 L334.06,766.13 L334.62,764.73 L335.15,763.38 L335.66,762.04 L336.16,760.73 L336.64,759.42 L337.13,758.11 L337.62,756.79 L338.12,755.45 L338.64,754.08 L339.20,752.69 L339.83,751.32 L340.55,749.98 L341.39,748.72 L342.38,747.55 L343.56,746.50 L344.91,745.64 L346.36,745.07 L347.84,744.91 L349.25,745.28 L350.59,746.11 L351.88,747.23 L353.15,748.48 L354.42,749.69 L355.72,750.71 L357.05,751.49 L358.41,752.04 L359.79,752.39 L361.19,752.54 L362.59,752.52 L364.00,752.34 L365.41,752.02 L366.80,751.57 L368.19,751.01 L369.55,750.37 L370.89,749.64 L372.19,748.86 L373.46,748.03 L374.70,747.15 L375.91,746.23 L377.09,745.28 L378.23,744.29 L379.36,743.26 L380.45,742.21 L381.53,741.13 L382.58,740.03 L383.61,738.91 L384.63,737.77 L385.62,736.62 L386.60,735.46 L387.57,734.29 L388.52,733.12 L389.46,731.95 L390.39,730.78 L391.31,729.60 L392.20,728.41 L393.09,727.22 L393.95,726.02 L394.79,724.81 L395.61,723.58 L396.40,722.35 L397.17,721.09 L397.92,719.82 L398.63,718.53 L399.31,717.22 L399.97,715.89 L400.59,714.53 L401.18,713.16 L401.74,711.76 L402.27,710.34 L402.78,708.91 L403.26,707.46 L403.72,706.00 L404.17,704.54 L404.59,703.06 L405.00,701.58 L405.40,700.10 L405.79,698.61 L406.17,697.13 L406.54,695.65 L406.90,694.17 L407.27,692.70 L407.63,691.24 L408.00,689.80 L408.36,688.36 L408.74,686.94 L409.12,685.54 L409.51,684.16 L409.91,682.80 L410.33,681.46 L410.77,680.13 L411.23,678.80 L411.73,677.46 L412.26,676.10 L412.84,674.71 L413.47,673.28 L414.15,671.80 L414.90,670.26 L415.71,668.65 L416.59,667.04 L417.52,665.51 L418.51,664.13 L419.56,662.99 L420.64,662.16 L421.77,661.73 L422.94,661.78 L424.13,662.30 L425.31,663.20 L426.46,664.37 L427.55,665.69 L428.56,667.05 L429.46,668.38 L430.28,669.68 L431.04,670.96 L431.76,672.23 L432.46,673.49 L433.16,674.75 L433.88,676.03 L434.63,677.30 L435.42,678.57 L436.26,679.82 L437.16,681.04 L438.11,682.21 L439.13,683.34 L440.23,684.41 L441.40,685.40 L442.65,686.28 L443.97,687.03 L445.35,687.62 L446.79,688.01 L448.27,688.21 L449.79,688.28 L451.32,688.30 L452.82,688.35 L454.29,688.53 L455.70,688.92 L457.03,689.53 L458.30,690.33 L459.51,691.28 L460.65,692.35 L461.73,693.48 L462.76,694.66 L463.77,695.83 L464.79,696.95 L465.83,698.00 L466.93,698.94 L468.12,699.71 L469.40,700.33 L470.71,700.97 L471.99,701.70 L473.28,702.46 L474.60,703.15 L475.99,703.71 L477.46,704.09 L478.97,704.35 L480.50,704.59 L481.98,704.91 L483.39,705.39 L484.70,706.04 L485.94,706.84 L487.08,707.78 L488.13,708.83 L489.09,709.98 L489.96,711.22 L490.74,712.52 L491.42,713.87 L492.04,715.25 L492.62,716.66 L493.17,718.07 L493.73,719.48 L494.31,720.88 L494.93,722.25 L495.58,723.60 L496.27,724.93 L496.98,726.25 L497.71,727.55 L498.47,728.84 L499.25,730.12 L500.04,731.38 L500.85,732.64 L501.67,733.90 L502.50,735.14 L503.34,736.39 L504.18,737.63 L505.02,738.87 L505.86,740.11 L506.70,741.35 L507.54,742.59 L508.37,743.84 L509.20,745.09 L510.01,746.35 L510.81,747.61 L511.60,748.88 L512.38,750.16 L513.13,751.45 L513.87,752.76 L514.59,754.07 L515.28,755.40 L515.95,756.74 L516.60,758.09 L517.23,759.45 L517.85,760.82 L518.45,762.20 L519.03,763.59 L519.61,764.98 L520.17,766.38 L520.72,767.78 L521.27,769.18 L521.80,770.59 L522.33,771.99 L522.86,773.40 L523.39,774.80 L523.91,776.20 L524.44,777.59 L524.97,778.99 L525.49,780.38 L526.02,781.77 L526.55,783.15 L527.08,784.54 L527.62,785.92 L528.15,787.31 L528.68,788.69 L529.22,790.08 L529.75,791.47 L530.29,792.86 L530.82,794.26 L531.36,795.66 L531.90,797.07 L532.44,798.48 L532.97,799.90 L533.51,801.33 L534.05,802.76 L534.62,804.18 L535.27,805.56 L536.03,806.87 L536.96,808.07 L538.09,809.12 L539.41,809.91 L540.83,810.26 L542.26,810.03 L543.62,809.32 L544.86,808.34 L545.92,807.23 L546.83,806.02 L547.62,804.75 L548.32,803.42 L548.95,802.05 L549.56,800.67 L550.16,799.29 L550.77,797.91 L551.37,796.52 L551.97,795.14 L552.57,793.76 L553.17,792.38 L553.76,791.00 L554.36,789.63 L554.96,788.25 L555.55,786.87 L556.15,785.50 L556.75,784.12 L557.35,782.75 L557.94,781.37 L558.54,780.00 L559.14,778.63 L559.74,777.26 L560.34,775.89 L560.94,774.52 L561.54,773.15 L562.14,771.78 L562.75,770.42 L563.35,769.05 L563.96,767.69 L564.57,766.32 L565.18,764.96 L565.79,763.60 L566.40,762.24 L567.02,760.88 L567.64,759.52 L568.26,758.16 L568.88,756.81 L569.51,755.45 L570.14,754.10 L570.77,752.74 L571.40,751.39 L572.04,750.04 L572.68,748.69 L573.32,747.34 L573.97,745.99 L574.62,744.64 L575.27,743.30 L575.93,741.95 L576.59,740.61 L577.26,739.26 L577.93,737.92 L578.60,736.58 L579.28,735.24 L579.97,733.90 L580.65,732.57 L581.35,731.23 L582.04,729.90 L582.74,728.56 L583.44,727.23 L584.15,725.90 L584.86,724.56 L585.56,723.23 L586.27,721.90 L586.98,720.57 L587.68,719.24 L588.39,717.91 L589.09,716.58 L589.79,715.25 L590.49,713.92 L591.18,712.59 L591.87,711.26 L592.55,709.92 L593.23,708.59 L593.90,707.26 L594.56,705.92 L595.22,704.59 L595.87,703.25 L596.51,701.91 L597.14,700.57 L597.76,699.23 L598.37,697.89 L598.97,696.54 L599.55,695.20 L600.13,693.85 L600.71,692.50 L601.28,691.14 L601.86,689.78 L602.44,688.42 L603.04,687.05 L603.66,685.68 L604.29,684.30 L604.96,682.92 L605.65,681.53 L606.37,680.13 L607.14,678.73 L607.96,677.35 L608.87,676.03 L609.90,674.83 L611.04,673.97 L612.29,673.78 L613.58,674.34 L614.79,675.37 L615.81,676.60 L616.65,677.93 L617.36,679.31 L618.00,680.71 L618.59,682.12 L619.14,683.53 L619.66,684.94 L620.14,686.36 L620.59,687.78 L621.02,689.20 L621.42,690.63 L621.81,692.06 L622.19,693.49 L622.56,694.93 L622.92,696.37 L623.27,697.81 L623.62,699.26 L623.96,700.71 L624.29,702.16 L624.61,703.61 L624.92,705.07 L625.23,706.53 L625.54,707.99 L625.83,709.46 L626.12,710.93 L626.40,712.40 L626.68,713.87 L626.95,715.34 L627.21,716.82 L627.47,718.30 L627.72,719.78 L627.97,721.26 L628.21,722.74 L628.45,724.23 L628.68,725.72 L628.91,727.21 L629.13,728.70 L629.35,730.19 L629.56,731.68 L629.78,733.18 L629.99,734.67 L630.19,736.17 L630.40,737.66 L630.60,739.16 L630.81,740.65 L631.01,742.15 L631.21,743.64 L631.42,745.13 L631.62,746.63 L631.83,748.12 L632.04,749.61 L632.25,751.09 L632.46,752.58 L632.68,754.06 L632.90,755.54 L633.12,757.02 L633.35,758.50 L633.59,759.97 L633.83,761.44 L634.07,762.91 L634.32,764.37 L634.58,765.83 L634.85,767.29 L635.12,768.74 L635.40,770.19 L635.69,771.64 L635.99,773.08 L636.29,774.51 L636.60,775.95 L636.92,777.39 L637.24,778.82 L637.57,780.26 L637.90,781.70 L638.24,783.14 L638.58,784.59 L638.92,786.04 L639.27,787.50 L639.61,788.96 L639.96,790.43 L640.31,791.90 L640.66,793.39 L641.01,794.89 L641.36,796.39 L641.72,797.91 L642.08,799.42 L642.46,800.93 L642.87,802.43 L643.32,803.91 L643.81,805.36 L644.35,806.78 L644.95,808.16 L645.62,809.49 L646.37,810.77 L647.20,811.98 L648.13,813.13 L649.16,814.19 L650.29,815.16 L651.51,815.99 L652.80,816.64 L654.16,817.08 L655.57,817.27 L657.03,817.16 L658.51,816.73 L660.02,816.06 L661.54,815.30 L663.07,814.60 L664.59,814.11 L666.12,813.88 L667.63,813.85 L669.15,813.93 L670.65,814.05 L672.15,814.17 L673.65,814.28 L675.14,814.37 L676.63,814.46 L678.11,814.54 L679.59,814.61 L681.07,814.67 L682.54,814.71 L684.02,814.75 L685.49,814.78 L686.97,814.80 L688.44,814.81 L689.92,814.81 L691.40,814.80 L692.88,814.79 L694.36,814.76 L695.85,814.72 L697.34,814.67 L698.84,814.61 L700.35,814.54 L701.86,814.46 L703.37,814.38 L704.90,814.28 L706.43,814.17 L707.97,814.05 L709.52,813.94 L711.06,813.83 L712.60,813.75 L714.13,813.71 L715.65,813.71 L717.14,813.78 L718.61,813.91 L720.05,814.14 L721.45,814.46 L722.81,814.88 L724.12,815.43 L725.39,816.11 L726.60,816.92 L727.78,817.83 L728.93,818.81 L730.07,819.84 L731.21,820.88 L732.36,821.92 L733.54,822.93 L734.75,823.87 L736.01,824.72 L737.32,825.46 L738.71,826.05 L740.16,826.48 L741.66,826.72 L743.16,826.76 L744.63,826.60 L746.05,826.22 L747.44,825.68 L748.80,825.03 L750.14,824.32 L751.47,823.58 L752.80,822.88 L754.13,822.20 L755.48,821.57 L756.85,820.96 L758.24,820.37 L759.66,819.81 L761.11,819.27 L762.59,818.79 L764.08,818.42 L765.56,818.21 L767.03,818.22 L768.47,818.51 L769.85,819.06 L771.18,819.81 L772.42,820.73 L773.56,821.76 L774.60,822.86 L775.55,824.02 L776.42,825.23 L777.22,826.49 L777.97,827.79 L778.68,829.11 L779.34,830.46 L779.98,831.83 L780.59,833.21 L781.17,834.61 L781.73,836.02 L782.27,837.44 L782.79,838.87 L783.30,840.30 L783.80,841.74 L784.29,843.17 L784.78,844.60 L785.26,846.03 L785.75,847.44 L786.24,848.85 L786.74,850.25 L787.24,851.63 L787.75,853.00 L788.26,854.37 L788.78,855.73 L789.30,857.08 L789.82,858.44 L790.33,859.79 L790.85,861.15 L791.36,862.52 L791.86,863.89 L792.36,865.27 L792.85,866.66 L793.33,868.07 L793.80,869.49 L794.26,870.94 L794.71,872.40 L795.14,873.88 L795.56,875.38 L795.98,876.90 L796.40,878.42 L796.83,879.93 L797.28,881.44 L797.75,882.94 L798.26,884.41 L798.81,885.85 L799.40,887.26 L800.04,888.62 L800.75,889.94 L801.52,891.20 L802.37,892.39 L803.30,893.52 L804.31,894.57 L805.39,895.56 L806.54,896.47 L807.75,897.32 L809.01,898.10 L810.31,898.82 L811.66,899.47 L813.03,900.06 L814.42,900.60 L815.83,901.07 L817.26,901.49 L818.70,901.85 L820.16,902.17 L821.63,902.45 L823.11,902.68 L824.60,902.88 L826.10,903.05 L827.60,903.18 L829.12,903.30 L830.64,903.39 L832.16,903.46 L833.69,903.52 L835.22,903.56 L836.75,903.60 L838.28,903.64 L839.81,903.68 L841.34,903.72 L842.86,903.76 L844.38,903.82 L845.89,903.88 L847.40,903.95 L848.91,904.03 L850.42,904.11 L851.92,904.20 L853.42,904.30 L854.91,904.40 L856.41,904.51 L857.90,904.62 L859.39,904.73 L860.87,904.85 L862.36,904.98 L863.84,905.10 L865.32,905.23 L866.81,905.37 L868.29,905.50 L869.76,905.64 L871.24,905.78 L872.72,905.92 L874.20,906.07 L875.67,906.21 L877.15,906.36 L878.63,906.50 L880.11,906.64 L881.59,906.79 L883.06,906.93 L884.54,907.07 L886.02,907.21 L887.51,907.35 L888.99,907.49 L890.48,907.62 L891.96,907.75 L893.45,907.88 L894.94,908.01 L896.43,908.13 L897.93,908.24 L899.43,908.35 L900.93,908.46 L902.43,908.56 L903.94,908.66 L905.45,908.75 L906.97,908.84 L908.49,908.91 L910.01,908.99 L910.01,909.0 L180.50,909.0 Z" fill="url(#g_br)"/>
<path d="M1614.99,908.95 L1616.52,909.10 L1618.04,909.19 L1619.56,909.24 L1621.06,909.23 L1622.56,909.18 L1624.06,909.09 L1625.55,908.95 L1627.03,908.78 L1628.50,908.57 L1629.98,908.32 L1631.44,908.04 L1632.90,907.74 L1634.36,907.40 L1635.82,907.04 L1637.27,906.66 L1638.71,906.26 L1640.16,905.85 L1641.60,905.41 L1643.04,904.97 L1644.48,904.52 L1645.91,904.05 L1647.35,903.59 L1648.78,903.12 L1650.22,902.65 L1651.65,902.18 L1653.08,901.72 L1654.52,901.26 L1655.95,900.82 L1657.39,900.38 L1658.83,899.96 L1660.27,899.56 L1661.71,899.18 L1663.15,898.81 L1664.60,898.48 L1666.05,898.16 L1667.50,897.88 L1668.96,897.63 L1670.42,897.41 L1671.88,897.22 L1673.35,897.07 L1674.82,896.96 L1676.29,896.88 L1677.76,896.84 L1679.24,896.84 L1680.72,896.88 L1682.20,896.96 L1683.68,897.08 L1685.16,897.25 L1686.64,897.46 L1688.12,897.71 L1689.60,898.02 L1691.09,898.37 L1692.57,898.77 L1694.05,899.22 L1695.53,899.72 L1697.01,900.28 L1697.01,909.0 L1614.99,909.0 Z" fill="url(#g_br)"/>
<path d="M180.47,882.49 L182.00,883.10 L183.52,883.57 L185.02,883.92 L186.51,884.14 L187.99,884.25 L189.45,884.25 L190.90,884.15 L192.34,883.96 L193.77,883.68 L195.18,883.32 L196.58,882.88 L197.97,882.38 L199.35,881.82 L200.71,881.20 L202.07,880.54 L203.41,879.84 L204.75,879.11 L206.07,878.36 L207.39,877.58 L208.69,876.79 L209.98,875.98 L211.26,875.16 L212.52,874.31 L213.77,873.45 L215.01,872.57 L216.23,871.67 L217.43,870.75 L218.61,869.81 L219.77,868.85 L220.91,867.88 L222.03,866.88 L223.13,865.86 L224.21,864.82 L225.26,863.76 L226.29,862.68 L227.29,861.58 L228.26,860.46 L229.20,859.31 L230.12,858.15 L231.00,856.96 L231.86,855.75 L232.68,854.52 L233.48,853.26 L234.25,851.99 L234.99,850.70 L235.71,849.39 L236.40,848.07 L237.07,846.73 L237.73,845.38 L238.36,844.01 L238.97,842.64 L239.57,841.25 L240.15,839.86 L240.72,838.45 L241.28,837.04 L241.82,835.63 L242.36,834.21 L242.88,832.79 L243.40,831.36 L243.91,829.93 L244.42,828.51 L244.93,827.08 L245.43,825.66 L245.94,824.24 L246.44,822.83 L246.95,821.42 L247.46,820.02 L247.98,818.63 L248.50,817.25 L249.03,815.87 L249.57,814.51 L250.11,813.15 L250.67,811.79 L251.24,810.45 L251.83,809.10 L252.42,807.76 L253.04,806.42 L253.67,805.08 L254.31,803.74 L254.98,802.40 L255.66,801.05 L256.37,799.70 L257.09,798.35 L257.84,796.99 L258.61,795.63 L259.42,794.28 L260.28,792.98 L261.21,791.75 L262.21,790.61 L263.30,789.60 L264.49,788.73 L265.77,788.00 L267.12,787.42 L268.52,786.98 L269.97,786.67 L271.45,786.51 L272.94,786.48 L274.43,786.58 L275.90,786.81 L277.35,787.18 L278.76,787.68 L280.11,788.30 L281.42,789.03 L282.69,789.85 L283.92,790.76 L285.10,791.74 L286.25,792.77 L287.37,793.86 L288.45,794.97 L289.50,796.11 L290.52,797.25 L291.51,798.40 L292.48,799.55 L293.43,800.71 L294.35,801.87 L295.25,803.04 L296.13,804.22 L297.00,805.41 L297.84,806.62 L298.67,807.83 L299.49,809.06 L300.30,810.29 L301.09,811.53 L301.88,812.79 L302.65,814.05 L303.42,815.31 L304.19,816.59 L304.95,817.86 L305.71,819.15 L306.47,820.44 L307.22,821.73 L307.98,823.02 L308.75,824.32 L309.51,825.62 L310.29,826.92 L311.07,828.22 L311.86,829.53 L312.66,830.83 L313.47,832.12 L314.30,833.42 L315.16,834.69 L316.06,835.93 L317.01,837.12 L318.03,838.25 L319.13,839.31 L320.32,840.28 L321.59,841.14 L322.95,841.87 L324.35,842.43 L325.79,842.80 L327.24,842.95 L328.68,842.84 L330.11,842.51 L331.51,842.00 L332.90,841.34 L334.25,840.59 L335.58,839.78 L336.88,838.95 L338.16,838.11 L339.43,837.29 L340.70,836.49 L341.99,835.75 L343.31,835.07 L344.66,834.48 L346.05,833.99 L347.48,833.60 L348.95,833.27 L350.44,833.00 L351.94,832.76 L353.45,832.53 L354.94,832.28 L356.42,832.00 L357.87,831.67 L359.29,831.26 L360.66,830.75 L361.97,830.12 L363.22,829.37 L364.43,828.52 L365.61,827.61 L366.79,826.67 L367.98,825.73 L369.20,824.83 L370.46,823.99 L371.78,823.23 L373.14,822.54 L374.53,821.90 L375.95,821.30 L377.39,820.74 L378.85,820.21 L380.31,819.70 L381.78,819.19 L383.24,818.69 L384.69,818.17 L386.12,817.63 L387.52,817.06 L388.89,816.46 L390.22,815.80 L391.50,815.09 L392.73,814.31 L393.90,813.46 L395.00,812.52 L396.03,811.50 L397.00,810.40 L397.92,809.24 L398.78,808.02 L399.58,806.74 L400.34,805.42 L401.06,804.07 L401.73,802.68 L402.37,801.27 L402.98,799.85 L403.55,798.43 L404.10,797.00 L404.64,795.59 L405.15,794.19 L405.65,792.82 L406.14,791.47 L406.63,790.14 L407.15,788.82 L407.69,787.51 L408.27,786.19 L408.91,784.86 L409.61,783.51 L410.39,782.14 L411.25,780.77 L412.20,779.46 L413.25,778.22 L414.39,777.12 L415.64,776.17 L416.98,775.44 L418.37,774.95 L419.77,774.77 L421.14,774.93 L422.44,775.42 L423.69,776.20 L424.87,777.18 L425.99,778.30 L427.03,779.50 L428.00,780.75 L428.90,782.02 L429.74,783.33 L430.53,784.66 L431.27,786.01 L431.97,787.38 L432.63,788.76 L433.26,790.16 L433.87,791.56 L434.47,792.97 L435.05,794.37 L435.63,795.77 L436.21,797.17 L436.79,798.55 L437.39,799.92 L438.01,801.27 L438.66,802.60 L439.34,803.90 L440.06,805.17 L440.82,806.41 L441.64,807.61 L442.51,808.78 L443.43,809.91 L444.40,811.00 L445.41,812.07 L446.45,813.11 L447.53,814.13 L448.63,815.14 L449.75,816.14 L450.89,817.13 L452.04,818.12 L453.19,819.10 L454.34,820.10 L455.48,821.10 L456.61,822.12 L457.73,823.15 L458.82,824.20 L459.88,825.29 L460.91,826.40 L461.92,827.54 L462.89,828.70 L463.84,829.88 L464.77,831.08 L465.69,832.29 L466.60,833.51 L467.50,834.73 L468.39,835.95 L469.29,837.16 L470.19,838.37 L471.10,839.56 L472.02,840.74 L472.96,841.90 L473.92,843.03 L474.91,844.14 L475.92,845.21 L476.96,846.24 L478.04,847.24 L479.17,848.19 L480.33,849.09 L481.54,849.93 L482.80,850.72 L484.09,851.46 L485.43,852.13 L486.79,852.73 L488.19,853.27 L489.62,853.74 L491.07,854.13 L492.54,854.44 L494.03,854.67 L495.53,854.83 L497.05,854.92 L498.57,854.97 L500.10,854.98 L501.63,854.97 L503.16,854.95 L504.68,854.94 L506.19,854.94 L507.69,854.97 L509.17,855.04 L510.63,855.17 L512.06,855.37 L513.47,855.65 L514.85,856.03 L516.18,856.52 L517.49,857.11 L518.76,857.81 L520.01,858.58 L521.24,859.43 L522.45,860.33 L523.66,861.28 L524.85,862.25 L526.04,863.25 L527.24,864.25 L528.45,865.25 L529.66,866.22 L530.90,867.17 L532.15,868.06 L533.44,868.90 L534.75,869.66 L536.10,870.34 L537.49,870.93 L538.91,871.42 L540.36,871.82 L541.82,872.14 L543.31,872.37 L544.81,872.51 L546.31,872.56 L547.81,872.53 L549.31,872.42 L550.80,872.23 L552.28,871.96 L553.73,871.61 L555.16,871.18 L556.56,870.68 L557.92,870.10 L559.26,869.46 L560.56,868.76 L561.85,868.00 L563.11,867.20 L564.35,866.36 L565.58,865.48 L566.80,864.58 L568.00,863.65 L569.21,862.72 L570.41,861.77 L571.61,860.83 L572.82,859.89 L574.04,858.97 L575.27,858.07 L576.51,857.19 L577.77,856.34 L579.05,855.54 L580.35,854.78 L581.68,854.07 L583.04,853.41 L584.42,852.81 L585.82,852.26 L587.23,851.76 L588.67,851.31 L590.11,850.91 L591.57,850.57 L593.05,850.29 L594.53,850.05 L596.01,849.87 L597.50,849.74 L599.00,849.67 L600.49,849.65 L601.98,849.69 L603.47,849.78 L604.95,849.92 L606.43,850.12 L607.90,850.38 L609.35,850.69 L610.80,851.06 L612.23,851.47 L613.64,851.94 L615.05,852.45 L616.44,853.01 L617.82,853.60 L619.19,854.24 L620.55,854.91 L621.89,855.61 L623.22,856.35 L624.54,857.11 L625.84,857.90 L627.14,858.70 L628.42,859.53 L629.69,860.37 L630.95,861.23 L632.19,862.10 L633.43,862.97 L634.65,863.86 L635.87,864.74 L637.08,865.61 L638.29,866.47 L639.51,867.31 L640.74,868.12 L641.99,868.90 L643.25,869.64 L644.54,870.33 L645.86,870.97 L647.21,871.55 L648.60,872.07 L650.02,872.52 L651.49,872.89 L652.99,873.18 L654.51,873.39 L656.04,873.53 L657.57,873.59 L659.09,873.56 L660.61,873.46 L662.10,873.27 L663.57,873.01 L665.02,872.67 L666.45,872.27 L667.87,871.80 L669.26,871.27 L670.63,870.68 L671.99,870.04 L673.32,869.35 L674.64,868.62 L675.94,867.85 L677.22,867.04 L678.48,866.19 L679.73,865.32 L680.96,864.44 L682.19,863.57 L683.43,862.74 L684.69,861.98 L685.99,861.32 L687.33,860.76 L688.70,860.29 L690.10,859.89 L691.53,859.55 L692.98,859.26 L694.45,859.00 L695.94,858.76 L697.44,858.53 L698.95,858.30 L700.46,858.04 L701.98,857.76 L703.49,857.43 L705.01,857.05 L706.51,856.65 L708.02,856.25 L709.51,855.88 L711.00,855.56 L712.49,855.33 L713.97,855.20 L715.44,855.16 L716.91,855.20 L718.36,855.34 L719.81,855.55 L721.24,855.84 L722.67,856.20 L724.08,856.63 L725.47,857.12 L726.85,857.66 L728.22,858.27 L729.57,858.92 L730.90,859.61 L732.22,860.35 L733.52,861.12 L734.80,861.93 L736.06,862.75 L737.32,863.60 L738.57,864.46 L739.81,865.33 L741.06,866.20 L742.30,867.07 L743.54,867.93 L744.79,868.77 L746.05,869.60 L747.32,870.40 L748.60,871.16 L749.90,871.89 L751.22,872.58 L752.56,873.22 L753.92,873.80 L755.31,874.33 L756.72,874.80 L758.16,875.21 L759.62,875.58 L761.09,875.92 L762.58,876.24 L764.06,876.54 L765.55,876.84 L767.04,877.14 L768.52,877.47 L769.98,877.81 L771.43,878.19 L772.86,878.62 L774.26,879.10 L775.63,879.65 L776.97,880.26 L778.27,880.96 L779.54,881.71 L780.79,882.53 L782.01,883.39 L783.21,884.30 L784.40,885.24 L785.57,886.21 L786.74,887.19 L787.90,888.19 L789.06,889.18 L790.22,890.17 L791.39,891.15 L792.57,892.10 L793.76,893.02 L794.97,893.91 L796.20,894.74 L797.45,895.53 L798.73,896.25 L800.04,896.90 L801.38,897.50 L802.74,898.05 L804.13,898.54 L805.53,898.98 L806.96,899.38 L808.40,899.73 L809.86,900.05 L811.34,900.33 L812.82,900.58 L814.32,900.80 L815.83,901.00 L817.34,901.17 L818.86,901.33 L820.38,901.47 L821.91,901.59 L823.44,901.71 L824.96,901.83 L826.48,901.94 L828.00,902.05 L829.52,902.17 L831.03,902.28 L832.53,902.40 L834.03,902.51 L835.53,902.63 L837.03,902.75 L838.52,902.87 L840.01,902.99 L841.50,903.11 L842.99,903.23 L844.47,903.36 L845.96,903.48 L847.44,903.61 L848.92,903.73 L850.39,903.85 L851.87,903.98 L853.35,904.11 L854.82,904.23 L856.30,904.36 L857.78,904.49 L859.25,904.61 L860.73,904.74 L862.21,904.87 L863.68,905.00 L865.16,905.13 L866.64,905.25 L868.13,905.38 L869.61,905.51 L871.09,905.64 L872.58,905.77 L874.07,905.89 L875.56,906.02 L877.06,906.15 L878.56,906.28 L880.06,906.40 L881.56,906.53 L883.07,906.66 L884.58,906.78 L886.09,906.91 L887.60,907.04 L889.11,907.17 L890.62,907.29 L892.13,907.42 L893.64,907.55 L895.14,907.68 L896.65,907.81 L898.15,907.93 L899.65,908.06 L901.14,908.20 L902.63,908.33 L904.12,908.46 L905.60,908.59 L907.07,908.73 L908.54,908.87 L910.00,909.00 L910.00,909.0 L180.47,909.0 Z" fill="url(#g_lu)"/>
<path d="M1598.02,908.98 L1599.45,908.99 L1600.89,908.96 L1602.35,908.91 L1603.82,908.82 L1605.29,908.70 L1606.77,908.55 L1608.26,908.36 L1609.75,908.14 L1611.24,907.89 L1612.73,907.60 L1614.22,907.28 L1615.69,906.93 L1617.16,906.53 L1618.62,906.10 L1620.07,905.64 L1621.50,905.14 L1622.92,904.60 L1624.32,904.03 L1625.69,903.41 L1627.05,902.76 L1628.38,902.07 L1629.68,901.34 L1630.95,900.57 L1632.19,899.77 L1633.40,898.92 L1634.57,898.03 L1635.70,897.10 L1636.80,896.13 L1637.85,895.12 L1638.86,894.06 L1639.82,892.96 L1640.73,891.82 L1641.60,890.65 L1642.43,889.43 L1643.22,888.18 L1643.97,886.90 L1644.68,885.59 L1645.36,884.26 L1646.02,882.90 L1646.65,881.52 L1647.25,880.13 L1647.83,878.72 L1648.39,877.30 L1648.94,875.87 L1649.47,874.44 L1649.99,873.00 L1650.50,871.57 L1651.00,870.13 L1651.50,868.70 L1651.99,867.27 L1652.48,865.84 L1652.96,864.42 L1653.43,862.99 L1653.89,861.57 L1654.35,860.15 L1654.80,858.73 L1655.24,857.32 L1655.68,855.90 L1656.10,854.48 L1656.52,853.07 L1656.93,851.65 L1657.33,850.24 L1657.72,848.82 L1658.10,847.40 L1658.47,845.99 L1658.83,844.57 L1659.18,843.15 L1659.52,841.73 L1659.86,840.31 L1660.18,838.88 L1660.50,837.46 L1660.82,836.03 L1661.13,834.60 L1661.44,833.18 L1661.75,831.74 L1662.06,830.31 L1662.37,828.88 L1662.69,827.44 L1663.01,826.01 L1663.34,824.57 L1663.69,823.13 L1664.04,821.69 L1664.40,820.25 L1664.78,818.81 L1665.17,817.36 L1665.58,815.91 L1666.01,814.47 L1666.45,813.02 L1666.92,811.57 L1667.41,810.11 L1667.93,808.66 L1668.47,807.21 L1669.03,805.75 L1669.63,804.29 L1670.26,802.84 L1670.95,801.42 L1671.72,800.09 L1672.61,798.89 L1673.66,797.87 L1674.87,797.08 L1676.19,796.56 L1677.56,796.37 L1678.93,796.53 L1680.26,797.02 L1681.56,797.77 L1682.80,798.75 L1683.98,799.90 L1685.08,801.17 L1686.09,802.51 L1687.00,803.87 L1687.80,805.21 L1688.49,806.51 L1689.12,807.78 L1689.70,809.03 L1690.26,810.25 L1690.82,811.46 L1691.41,812.66 L1692.05,813.86 L1692.78,815.06 L1693.61,816.27 L1694.58,817.49 L1695.70,818.73 L1697.00,819.99 L1697.00,909.0 L1598.02,909.0 Z" fill="url(#g_lu)"/>
<path d="M180.50,880.80 L181.85,881.32 L183.26,881.77 L184.72,882.14 L186.23,882.44 L187.76,882.65 L189.30,882.76 L190.84,882.78 L192.36,882.69 L193.85,882.50 L195.31,882.20 L196.74,881.80 L198.15,881.31 L199.52,880.74 L200.86,880.10 L202.17,879.39 L203.45,878.62 L204.71,877.80 L205.93,876.93 L207.12,876.03 L208.29,875.09 L209.43,874.13 L210.55,873.13 L211.65,872.12 L212.74,871.09 L213.81,870.04 L214.87,868.97 L215.93,867.90 L216.98,866.82 L218.03,865.74 L219.09,864.65 L220.14,863.57 L221.21,862.50 L222.29,861.44 L223.37,860.38 L224.44,859.32 L225.50,858.24 L226.53,857.16 L227.54,856.05 L228.50,854.92 L229.42,853.76 L230.30,852.57 L231.14,851.35 L231.94,850.11 L232.71,848.85 L233.44,847.56 L234.14,846.26 L234.81,844.93 L235.46,843.58 L236.07,842.22 L236.66,840.84 L237.23,839.45 L237.77,838.04 L238.30,836.62 L238.80,835.19 L239.29,833.76 L239.77,832.31 L240.23,830.86 L240.69,829.40 L241.13,827.93 L241.57,826.47 L242.00,825.00 L242.42,823.53 L242.84,822.06 L243.27,820.60 L243.69,819.14 L244.12,817.68 L244.55,816.23 L244.99,814.79 L245.44,813.35 L245.90,811.93 L246.37,810.51 L246.85,809.11 L247.35,807.72 L247.86,806.35 L248.40,805.00 L248.95,803.65 L249.50,802.31 L250.07,800.98 L250.63,799.64 L251.19,798.30 L251.75,796.95 L252.29,795.58 L252.82,794.20 L253.33,792.79 L253.83,791.37 L254.34,789.93 L254.88,788.49 L255.46,787.06 L256.10,785.64 L256.83,784.25 L257.67,782.89 L258.62,781.57 L259.69,780.34 L260.85,779.25 L262.11,778.38 L263.42,777.79 L264.78,777.54 L266.18,777.67 L267.57,778.13 L268.93,778.86 L270.23,779.78 L271.44,780.83 L272.54,781.96 L273.54,783.15 L274.46,784.38 L275.32,785.65 L276.13,786.95 L276.91,788.26 L277.68,789.57 L278.44,790.88 L279.22,792.17 L280.00,793.45 L280.80,794.72 L281.60,795.98 L282.40,797.24 L283.21,798.48 L284.03,799.72 L284.85,800.96 L285.67,802.19 L286.49,803.42 L287.31,804.65 L288.13,805.88 L288.95,807.12 L289.77,808.35 L290.59,809.59 L291.41,810.83 L292.22,812.08 L293.03,813.33 L293.83,814.59 L294.64,815.84 L295.45,817.10 L296.25,818.36 L297.06,819.63 L297.87,820.89 L298.67,822.15 L299.49,823.42 L300.30,824.68 L301.12,825.94 L301.94,827.20 L302.77,828.46 L303.60,829.71 L304.44,830.97 L305.28,832.21 L306.13,833.46 L306.99,834.70 L307.86,835.93 L308.73,837.16 L309.62,838.38 L310.51,839.60 L311.42,840.80 L312.33,842.00 L313.26,843.20 L314.20,844.38 L315.16,845.54 L316.14,846.68 L317.16,847.79 L318.21,848.85 L319.31,849.86 L320.46,850.82 L321.67,851.70 L322.94,852.51 L324.27,853.24 L325.65,853.88 L327.07,854.44 L328.52,854.90 L330.00,855.28 L331.49,855.55 L332.99,855.73 L334.49,855.80 L335.98,855.78 L337.47,855.65 L338.94,855.44 L340.41,855.14 L341.86,854.77 L343.30,854.32 L344.72,853.79 L346.12,853.20 L347.50,852.56 L348.86,851.85 L350.19,851.10 L351.50,850.30 L352.77,849.47 L354.01,848.59 L355.22,847.69 L356.41,846.76 L357.56,845.80 L358.70,844.83 L359.82,843.83 L360.92,842.83 L362.01,841.81 L363.10,840.78 L364.17,839.75 L365.25,838.72 L366.32,837.69 L367.40,836.67 L368.48,835.66 L369.57,834.66 L370.68,833.67 L371.80,832.71 L372.94,831.77 L374.10,830.85 L375.29,829.97 L376.51,829.11 L377.76,828.30 L379.04,827.52 L380.36,826.78 L381.72,826.09 L383.10,825.42 L384.50,824.78 L385.91,824.14 L387.31,823.51 L388.69,822.85 L390.05,822.18 L391.37,821.47 L392.65,820.71 L393.87,819.90 L395.03,819.02 L396.11,818.06 L397.12,817.03 L398.06,815.94 L398.94,814.78 L399.77,813.56 L400.53,812.30 L401.25,810.99 L401.92,809.63 L402.54,808.24 L403.13,806.82 L403.68,805.37 L404.21,803.91 L404.71,802.43 L405.18,800.94 L405.64,799.44 L406.09,797.94 L406.54,796.45 L407.00,794.98 L407.48,793.51 L407.98,792.07 L408.51,790.65 L409.09,789.26 L409.72,787.91 L410.41,786.59 L411.17,785.33 L412.01,784.11 L412.93,782.95 L413.95,781.84 L415.08,780.81 L416.31,779.85 L417.63,779.07 L418.99,778.55 L420.38,778.39 L421.75,778.66 L423.08,779.28 L424.34,780.18 L425.51,781.26 L426.55,782.44 L427.48,783.68 L428.31,784.98 L429.04,786.32 L429.70,787.70 L430.31,789.11 L430.88,790.54 L431.41,791.98 L431.94,793.42 L432.45,794.86 L432.96,796.30 L433.48,797.74 L433.99,799.16 L434.52,800.58 L435.06,801.99 L435.63,803.38 L436.22,804.76 L436.83,806.11 L437.49,807.45 L438.18,808.75 L438.92,810.03 L439.70,811.29 L440.54,812.50 L441.43,813.70 L442.35,814.86 L443.32,816.00 L444.32,817.12 L445.36,818.22 L446.41,819.30 L447.49,820.37 L448.58,821.43 L449.68,822.48 L450.79,823.53 L451.91,824.57 L453.02,825.61 L454.12,826.65 L455.21,827.69 L456.28,828.74 L457.34,829.80 L458.36,830.87 L459.36,831.96 L460.33,833.06 L461.28,834.17 L462.21,835.29 L463.12,836.42 L464.04,837.55 L464.95,838.69 L465.87,839.82 L466.80,840.95 L467.75,842.08 L468.72,843.20 L469.73,844.32 L470.77,845.42 L471.85,846.50 L472.97,847.57 L474.15,848.61 L475.36,849.62 L476.62,850.57 L477.91,851.45 L479.23,852.26 L480.58,852.98 L481.96,853.59 L483.36,854.09 L484.79,854.46 L486.23,854.69 L487.68,854.77 L489.14,854.68 L490.61,854.45 L492.07,854.06 L493.50,853.55 L494.91,852.92 L496.28,852.18 L497.60,851.35 L498.86,850.44 L500.05,849.45 L501.16,848.41 L502.18,847.32 L503.12,846.20 L504.03,845.05 L504.91,843.89 L505.80,842.73 L506.73,841.58 L507.73,840.45 L508.81,839.35 L509.97,838.31 L511.20,837.35 L512.50,836.49 L513.84,835.76 L515.23,835.17 L516.66,834.75 L518.10,834.52 L519.56,834.50 L521.03,834.69 L522.48,835.05 L523.90,835.55 L525.28,836.14 L526.61,836.78 L527.89,837.48 L529.15,838.22 L530.40,839.00 L531.65,839.82 L532.93,840.67 L534.24,841.55 L535.58,842.43 L536.94,843.29 L538.32,844.11 L539.72,844.87 L541.13,845.55 L542.54,846.12 L543.97,846.57 L545.40,846.88 L546.83,847.03 L548.25,846.99 L549.67,846.75 L551.08,846.33 L552.46,845.75 L553.81,845.04 L555.13,844.22 L556.40,843.33 L557.62,842.39 L558.78,841.39 L559.91,840.36 L560.98,839.28 L562.01,838.16 L563.01,837.01 L563.96,835.83 L564.88,834.62 L565.76,833.39 L566.61,832.14 L567.44,830.87 L568.23,829.59 L569.00,828.31 L569.75,827.02 L570.48,825.73 L571.19,824.44 L571.89,823.16 L572.57,821.87 L573.24,820.59 L573.90,819.30 L574.56,818.01 L575.20,816.72 L575.85,815.41 L576.49,814.10 L577.14,812.78 L577.79,811.45 L578.44,810.11 L579.11,808.75 L579.78,807.37 L580.46,805.98 L581.16,804.58 L581.88,803.18 L582.63,801.78 L583.40,800.41 L584.21,799.06 L585.06,797.75 L585.95,796.50 L586.89,795.30 L587.88,794.17 L588.93,793.12 L590.04,792.15 L591.22,791.29 L592.47,790.54 L593.79,789.90 L595.19,789.39 L596.64,789.01 L598.13,788.77 L599.65,788.65 L601.16,788.68 L602.67,788.84 L604.17,789.10 L605.67,789.44 L607.16,789.82 L608.64,790.24 L610.12,790.65 L611.58,791.08 L613.03,791.53 L614.46,792.01 L615.85,792.54 L617.21,793.13 L618.53,793.79 L619.79,794.52 L621.00,795.35 L622.16,796.26 L623.28,797.25 L624.35,798.29 L625.39,799.39 L626.39,800.53 L627.37,801.70 L628.34,802.89 L629.28,804.09 L630.23,805.28 L631.16,806.46 L632.10,807.62 L633.05,808.76 L634.02,809.87 L635.02,810.96 L636.05,812.01 L637.11,813.04 L638.22,814.03 L639.39,814.98 L640.62,815.89 L641.91,816.75 L643.26,817.56 L644.66,818.26 L646.09,818.84 L647.54,819.26 L649.00,819.52 L650.45,819.62 L651.91,819.57 L653.35,819.39 L654.78,819.07 L656.19,818.63 L657.57,818.08 L658.91,817.42 L660.22,816.67 L661.49,815.82 L662.70,814.89 L663.86,813.89 L664.96,812.82 L665.98,811.69 L666.94,810.52 L667.82,809.30 L668.64,808.05 L669.39,806.76 L670.10,805.44 L670.77,804.11 L671.41,802.75 L672.02,801.38 L672.62,800.00 L673.22,798.62 L673.82,797.24 L674.42,795.86 L675.03,794.48 L675.64,793.11 L676.26,791.73 L676.88,790.36 L677.51,789.00 L678.14,787.63 L678.78,786.27 L679.42,784.91 L680.06,783.55 L680.71,782.20 L681.37,780.85 L682.03,779.50 L682.69,778.15 L683.36,776.81 L684.03,775.47 L684.71,774.14 L685.39,772.80 L686.08,771.47 L686.77,770.15 L687.47,768.82 L688.17,767.50 L688.88,766.19 L689.59,764.87 L690.30,763.56 L691.02,762.25 L691.75,760.95 L692.48,759.65 L693.21,758.35 L693.95,757.06 L694.69,755.77 L695.44,754.48 L696.19,753.20 L696.95,751.92 L697.72,750.64 L698.48,749.37 L699.26,748.10 L700.03,746.83 L700.82,745.57 L701.61,744.31 L702.40,743.06 L703.19,741.81 L704.00,740.56 L704.80,739.31 L705.62,738.07 L706.43,736.84 L707.26,735.60 L708.10,734.37 L708.96,733.13 L709.85,731.89 L710.77,730.64 L711.74,729.38 L712.75,728.10 L713.82,726.81 L714.94,725.54 L716.11,724.36 L717.32,723.34 L718.56,722.57 L719.83,722.12 L721.12,722.06 L722.42,722.42 L723.70,723.13 L724.94,724.08 L726.11,725.21 L727.19,726.41 L728.17,727.65 L729.07,728.92 L729.88,730.21 L730.62,731.54 L731.29,732.88 L731.92,734.25 L732.50,735.63 L733.05,737.02 L733.57,738.42 L734.07,739.83 L734.57,741.25 L735.07,742.66 L735.58,744.07 L736.11,745.48 L736.67,746.88 L737.26,748.26 L737.90,749.63 L738.57,750.99 L739.29,752.32 L740.04,753.64 L740.82,754.93 L741.65,756.19 L742.52,757.42 L743.42,758.62 L744.37,759.79 L745.35,760.92 L746.37,762.01 L747.43,763.06 L748.53,764.07 L749.67,765.02 L750.85,765.92 L752.08,766.76 L753.34,767.55 L754.65,768.26 L756.00,768.90 L757.40,769.47 L758.84,769.95 L760.33,770.36 L761.85,770.69 L763.38,770.99 L764.90,771.32 L766.36,771.73 L767.74,772.26 L769.04,772.93 L770.25,773.72 L771.39,774.63 L772.46,775.63 L773.46,776.72 L774.40,777.87 L775.30,779.09 L776.14,780.35 L776.94,781.64 L777.71,782.95 L778.44,784.28 L779.14,785.62 L779.82,786.98 L780.46,788.35 L781.08,789.73 L781.67,791.13 L782.25,792.53 L782.80,793.94 L783.34,795.35 L783.86,796.77 L784.37,798.19 L784.86,799.61 L785.35,801.03 L785.83,802.45 L786.30,803.87 L786.76,805.28 L787.22,806.70 L787.67,808.12 L788.11,809.54 L788.55,810.95 L788.98,812.37 L789.40,813.79 L789.82,815.21 L790.24,816.63 L790.64,818.05 L791.05,819.48 L791.45,820.90 L791.85,822.33 L792.24,823.76 L792.63,825.19 L793.02,826.63 L793.41,828.07 L793.79,829.51 L794.17,830.95 L794.55,832.40 L794.93,833.85 L795.31,835.30 L795.69,836.76 L796.07,838.23 L796.45,839.70 L796.83,841.17 L797.21,842.65 L797.59,844.13 L797.97,845.61 L798.36,847.10 L798.76,848.59 L799.18,850.07 L799.61,851.55 L800.05,853.02 L800.53,854.47 L801.03,855.91 L801.55,857.33 L802.12,858.73 L802.72,860.10 L803.36,861.45 L804.05,862.77 L804.78,864.05 L805.57,865.30 L806.41,866.51 L807.31,867.67 L808.27,868.80 L809.29,869.88 L810.35,870.92 L811.47,871.91 L812.63,872.86 L813.83,873.76 L815.06,874.62 L816.34,875.43 L817.64,876.19 L818.97,876.91 L820.32,877.59 L821.70,878.21 L823.09,878.79 L824.49,879.34 L825.91,879.84 L827.34,880.32 L828.79,880.77 L830.24,881.19 L831.69,881.60 L833.15,882.00 L834.61,882.38 L836.08,882.77 L837.54,883.15 L839.00,883.54 L840.45,883.94 L841.90,884.35 L843.34,884.78 L844.76,885.23 L846.18,885.71 L847.58,886.22 L848.96,886.77 L850.33,887.36 L851.68,887.99 L853.01,888.65 L854.33,889.36 L855.63,890.09 L856.92,890.84 L858.20,891.62 L859.48,892.42 L860.74,893.23 L862.01,894.06 L863.26,894.89 L864.52,895.73 L865.78,896.57 L867.03,897.40 L868.30,898.23 L869.56,899.05 L870.83,899.85 L872.11,900.64 L873.40,901.40 L874.71,902.14 L876.02,902.85 L877.35,903.53 L878.69,904.17 L880.06,904.78 L881.44,905.34 L882.84,905.86 L884.25,906.34 L885.68,906.79 L887.12,907.19 L888.57,907.55 L890.03,907.87 L891.50,908.16 L892.99,908.40 L894.47,908.61 L895.97,908.77 L897.47,908.90 L898.97,909.00 L900.48,909.05 L901.99,909.07 L903.50,909.05 L905.00,908.99 L905.00,909.0 L180.50,909.0 Z" fill="url(#g_s)"/>
<path d="M1615.00,909.00 L1616.45,908.84 L1617.91,908.73 L1619.39,908.67 L1620.88,908.64 L1622.38,908.64 L1623.89,908.66 L1625.40,908.69 L1626.92,908.72 L1628.44,908.76 L1629.95,908.78 L1631.47,908.78 L1632.98,908.76 L1634.48,908.70 L1635.98,908.60 L1637.46,908.46 L1638.93,908.26 L1640.40,908.03 L1641.85,907.75 L1643.30,907.43 L1644.74,907.09 L1646.18,906.72 L1647.61,906.32 L1649.04,905.90 L1650.46,905.47 L1651.88,905.02 L1653.30,904.57 L1654.72,904.11 L1656.13,903.65 L1657.55,903.19 L1658.97,902.74 L1660.40,902.31 L1661.82,901.89 L1663.26,901.49 L1664.69,901.11 L1666.13,900.75 L1667.58,900.42 L1669.03,900.13 L1670.48,899.86 L1671.94,899.63 L1673.40,899.43 L1674.87,899.27 L1676.34,899.15 L1677.81,899.08 L1679.28,899.05 L1680.76,899.07 L1682.24,899.14 L1683.72,899.26 L1685.20,899.43 L1686.69,899.65 L1688.17,899.91 L1689.65,900.20 L1691.13,900.52 L1692.61,900.85 L1694.08,901.19 L1695.55,901.52 L1697.00,901.84 L1697.00,909.0 L1615.00,909.0 Z" fill="url(#g_s)"/>
<path d="M180.00,765.00 L180.59,765.67 L181.26,766.64 L182.02,767.84 L182.86,769.20 L183.77,770.66 L184.76,772.15 L185.82,773.60 L186.94,774.95 L188.13,776.13 L189.37,777.07 L190.68,777.72 L192.04,777.99 L193.44,777.85 L194.85,777.34 L196.21,776.54 L197.46,775.53 L198.56,774.39 L199.49,773.18 L200.28,771.90 L200.96,770.56 L201.54,769.18 L202.05,767.76 L202.52,766.33 L202.98,764.89 L203.44,763.46 L203.91,762.03 L204.38,760.60 L204.86,759.17 L205.34,757.75 L205.82,756.32 L206.30,754.90 L206.78,753.48 L207.26,752.06 L207.73,750.64 L208.20,749.21 L208.67,747.79 L209.12,746.36 L209.58,744.93 L210.03,743.50 L210.47,742.07 L210.91,740.64 L211.35,739.20 L211.78,737.77 L212.20,736.33 L212.62,734.89 L213.04,733.45 L213.45,732.01 L213.85,730.57 L214.25,729.12 L214.65,727.68 L215.04,726.23 L215.43,724.78 L215.82,723.33 L216.20,721.88 L216.57,720.43 L216.94,718.98 L217.31,717.53 L217.67,716.07 L218.03,714.62 L218.39,713.16 L218.74,711.70 L219.09,710.24 L219.43,708.78 L219.77,707.32 L220.11,705.86 L220.44,704.40 L220.77,702.94 L221.10,701.47 L221.42,700.01 L221.74,698.54 L222.05,697.08 L222.36,695.61 L222.67,694.14 L222.98,692.67 L223.28,691.20 L223.58,689.73 L223.87,688.26 L224.17,686.79 L224.46,685.32 L224.74,683.85 L225.03,682.38 L225.31,680.90 L225.59,679.43 L225.86,677.96 L226.14,676.48 L226.41,675.01 L226.67,673.53 L226.94,672.06 L227.20,670.58 L227.46,669.10 L227.72,667.63 L227.98,666.15 L228.23,664.67 L228.48,663.20 L228.73,661.72 L228.97,660.24 L229.22,658.76 L229.46,657.28 L229.70,655.80 L229.93,654.32 L230.17,652.84 L230.40,651.36 L230.63,649.88 L230.86,648.40 L231.08,646.92 L231.31,645.44 L231.53,643.96 L231.74,642.48 L231.96,640.99 L232.18,639.51 L232.39,638.03 L232.60,636.55 L232.81,635.06 L233.01,633.58 L233.22,632.09 L233.42,630.61 L233.62,629.13 L233.82,627.64 L234.01,626.16 L234.21,624.67 L234.40,623.18 L234.59,621.70 L234.78,620.21 L234.97,618.73 L235.15,617.24 L235.33,615.75 L235.51,614.27 L235.69,612.78 L235.87,611.29 L236.05,609.80 L236.22,608.32 L236.39,606.83 L236.56,605.34 L236.73,603.85 L236.90,602.36 L237.06,600.87 L237.23,599.38 L237.39,597.89 L237.55,596.40 L237.71,594.91 L237.87,593.42 L238.02,591.93 L238.17,590.44 L238.33,588.95 L238.48,587.46 L238.63,585.97 L238.78,584.48 L238.92,582.99 L239.07,581.49 L239.21,580.00 L239.35,578.51 L239.49,577.02 L239.63,575.53 L239.77,574.03 L239.91,572.54 L240.04,571.05 L240.18,569.55 L240.31,568.06 L240.44,566.57 L240.57,565.07 L240.70,563.58 L240.83,562.09 L240.96,560.59 L241.08,559.10 L241.21,557.60 L241.33,556.11 L241.45,554.61 L241.57,553.12 L241.69,551.63 L241.81,550.13 L241.93,548.64 L242.05,547.14 L242.16,545.64 L242.28,544.15 L242.39,542.65 L242.50,541.16 L242.61,539.66 L242.73,538.17 L242.83,536.67 L242.94,535.17 L243.05,533.68 L243.16,532.18 L243.27,530.68 L243.37,529.19 L243.48,527.69 L243.58,526.19 L243.68,524.70 L243.78,523.20 L243.89,521.70 L243.99,520.21 L244.09,518.71 L244.19,517.21 L244.28,515.72 L244.38,514.22 L244.48,512.72 L244.58,511.22 L244.67,509.73 L244.77,508.23 L244.86,506.73 L244.96,505.23 L245.05,503.74 L245.15,502.24 L245.24,500.74 L245.33,499.24 L245.42,497.74 L245.51,496.25 L245.60,494.75 L245.70,493.25 L245.79,491.75 L245.88,490.26 L245.96,488.76 L246.05,487.26 L246.14,485.76 L246.23,484.26 L246.32,482.77 L246.41,481.27 L246.49,479.77 L246.58,478.27 L246.67,476.77 L246.76,475.28 L246.84,473.78 L246.93,472.28 L247.02,470.78 L247.10,469.28 L247.19,467.79 L247.27,466.29 L247.36,464.79 L247.45,463.29 L247.53,461.79 L247.62,460.30 L247.70,458.80 L247.79,457.30 L247.87,455.80 L247.96,454.31 L248.05,452.81 L248.13,451.31 L248.22,449.81 L248.30,448.32 L248.39,446.82 L248.48,445.32 L248.56,443.82 L248.65,442.33 L248.74,440.83 L248.82,439.33 L248.91,437.83 L249.00,436.34 L249.08,434.84 L249.17,433.34 L249.26,431.85 L249.35,430.35 L249.44,428.85 L249.52,427.36 L249.61,425.86 L249.70,424.36 L249.79,422.87 L249.88,421.37 L249.97,419.87 L250.06,418.38 L250.15,416.88 L250.24,415.38 L250.33,413.89 L250.42,412.39 L250.51,410.90 L250.60,409.40 L250.70,407.90 L250.79,406.41 L250.88,404.91 L250.97,403.41 L251.07,401.92 L251.16,400.42 L251.26,398.93 L251.35,397.43 L251.44,395.94 L251.54,394.44 L251.64,392.94 L251.73,391.45 L251.83,389.95 L251.93,388.46 L252.02,386.96 L252.12,385.47 L252.22,383.97 L252.32,382.48 L252.42,380.98 L252.52,379.49 L252.62,377.99 L252.72,376.50 L252.82,375.00 L252.93,373.51 L253.03,372.01 L253.13,370.52 L253.24,369.02 L253.34,367.53 L253.45,366.03 L253.55,364.54 L253.66,363.04 L253.77,361.55 L253.88,360.06 L253.98,358.56 L254.09,357.07 L254.20,355.57 L254.31,354.08 L254.43,352.58 L254.54,351.09 L254.65,349.60 L254.76,348.10 L254.88,346.61 L254.99,345.11 L255.11,343.62 L255.22,342.13 L255.34,340.63 L255.46,339.14 L255.58,337.65 L255.70,336.15 L255.82,334.66 L255.94,333.17 L256.06,331.67 L256.18,330.18 L256.31,328.69 L256.43,327.19 L256.56,325.70 L256.68,324.21 L256.81,322.71 L256.94,321.22 L257.07,319.73 L257.20,318.23 L257.33,316.74 L257.46,315.25 L257.59,313.76 L257.72,312.26 L257.86,310.77 L257.99,309.28 L258.13,307.79 L258.27,306.29 L258.41,304.80 L258.55,303.31 L258.69,301.82 L258.83,300.32 L258.97,298.83 L259.11,297.34 L259.26,295.85 L259.40,294.36 L259.55,292.86 L259.70,291.37 L259.85,289.88 L260.00,288.39 L260.15,286.90 L260.30,285.41 L260.45,283.91 L260.61,282.42 L260.76,280.93 L260.92,279.44 L261.08,277.95 L261.24,276.46 L261.40,274.97 L261.56,273.48 L261.72,271.98 L261.89,270.49 L262.05,269.00 L262.22,267.51 L262.38,266.02 L262.55,264.53 L262.72,263.04 L262.89,261.55 L263.07,260.06 L263.24,258.57 L263.42,257.08 L263.59,255.59 L263.77,254.10 L263.95,252.61 L264.14,251.12 L264.33,249.63 L264.52,248.14 L264.71,246.65 L264.92,245.16 L265.12,243.68 L265.34,242.19 L265.56,240.71 L265.78,239.22 L266.02,237.74 L266.26,236.26 L266.51,234.78 L266.77,233.30 L267.04,231.82 L267.33,230.35 L267.62,228.87 L267.91,227.40 L268.22,225.94 L268.53,224.47 L268.85,223.01 L269.17,221.56 L269.49,220.11 L269.81,218.67 L270.13,217.23 L270.47,215.80 L270.85,214.38 L271.29,212.96 L271.85,211.55 L272.54,210.15 L273.39,208.74 L274.42,207.38 L275.59,206.24 L276.84,205.49 L278.12,205.33 L279.38,205.84 L280.58,206.83 L281.67,208.12 L282.60,209.52 L283.37,210.92 L283.99,212.32 L284.50,213.73 L284.93,215.14 L285.31,216.56 L285.66,217.99 L286.01,219.42 L286.36,220.86 L286.71,222.31 L287.06,223.76 L287.41,225.21 L287.75,226.67 L288.09,228.13 L288.42,229.60 L288.75,231.06 L289.07,232.53 L289.39,234.00 L289.70,235.46 L290.01,236.93 L290.31,238.40 L290.60,239.87 L290.89,241.35 L291.18,242.82 L291.46,244.29 L291.74,245.77 L292.01,247.25 L292.28,248.72 L292.54,250.20 L292.80,251.68 L293.05,253.16 L293.31,254.64 L293.55,256.12 L293.80,257.60 L294.04,259.08 L294.27,260.56 L294.50,262.04 L294.73,263.52 L294.96,265.01 L295.18,266.49 L295.40,267.97 L295.62,269.45 L295.83,270.94 L296.04,272.42 L296.25,273.90 L296.46,275.39 L296.66,276.87 L296.86,278.36 L297.06,279.84 L297.26,281.33 L297.46,282.81 L297.65,284.30 L297.84,285.78 L298.03,287.27 L298.22,288.75 L298.41,290.24 L298.60,291.72 L298.78,293.21 L298.97,294.70 L299.15,296.18 L299.34,297.67 L299.52,299.16 L299.70,300.64 L299.88,302.13 L300.06,303.62 L300.25,305.11 L300.43,306.60 L300.61,308.08 L300.79,309.57 L300.97,311.06 L301.14,312.55 L301.32,314.04 L301.50,315.53 L301.68,317.02 L301.85,318.51 L302.03,320.00 L302.20,321.49 L302.38,322.98 L302.55,324.47 L302.73,325.96 L302.90,327.45 L303.07,328.94 L303.24,330.43 L303.41,331.92 L303.58,333.41 L303.75,334.90 L303.92,336.39 L304.09,337.88 L304.25,339.37 L304.42,340.87 L304.58,342.36 L304.75,343.85 L304.91,345.34 L305.07,346.83 L305.23,348.32 L305.39,349.82 L305.55,351.31 L305.71,352.80 L305.86,354.29 L306.02,355.79 L306.17,357.28 L306.33,358.77 L306.48,360.26 L306.63,361.76 L306.78,363.25 L306.93,364.74 L307.08,366.23 L307.22,367.73 L307.37,369.22 L307.51,370.71 L307.65,372.21 L307.79,373.70 L307.93,375.19 L308.07,376.68 L308.21,378.18 L308.35,379.67 L308.48,381.16 L308.61,382.66 L308.75,384.15 L308.88,385.64 L309.00,387.13 L309.13,388.63 L309.26,390.12 L309.38,391.61 L309.51,393.11 L309.63,394.60 L309.75,396.09 L309.86,397.58 L309.98,399.08 L310.10,400.57 L310.21,402.06 L310.32,403.55 L310.43,405.05 L310.55,406.54 L310.66,408.03 L310.76,409.52 L310.87,411.02 L310.98,412.51 L311.09,414.00 L311.20,415.49 L311.31,416.99 L311.42,418.48 L311.53,419.97 L311.64,421.46 L311.75,422.96 L311.86,424.45 L311.97,425.94 L312.08,427.43 L312.20,428.93 L312.31,430.42 L312.43,431.91 L312.55,433.40 L312.67,434.90 L312.79,436.39 L312.91,437.88 L313.04,439.37 L313.17,440.87 L313.30,442.36 L313.43,443.85 L313.56,445.35 L313.70,446.84 L313.84,448.33 L313.99,449.83 L314.14,451.32 L314.29,452.81 L314.44,454.31 L314.60,455.80 L314.76,457.29 L314.92,458.79 L315.09,460.28 L315.26,461.77 L315.44,463.27 L315.62,464.76 L315.81,466.26 L316.00,467.75 L316.20,469.24 L316.40,470.74 L316.60,472.23 L316.81,473.73 L317.03,475.22 L317.25,476.72 L317.47,478.21 L317.71,479.71 L317.95,481.20 L318.19,482.70 L318.44,484.19 L318.69,485.69 L318.95,487.18 L319.21,488.67 L319.47,490.14 L319.73,491.61 L319.99,493.06 L320.24,494.50 L320.48,495.93 L320.71,497.33 L320.93,498.71 L321.15,500.07 L321.37,501.44 L321.61,502.83 L321.88,504.26 L322.19,505.75 L322.56,507.31 L323.00,508.98 L323.52,510.75 L324.11,512.59 L324.77,514.33 L325.47,515.83 L326.17,516.93 L326.88,517.47 L327.55,517.33 L328.20,516.57 L328.80,515.31 L329.38,513.68 L329.92,511.84 L330.42,509.89 L330.89,507.99 L331.33,506.23 L331.73,504.58 L332.11,503.05 L332.47,501.59 L332.81,500.21 L333.15,498.87 L333.48,497.55 L333.81,496.24 L334.15,494.92 L334.50,493.56 L334.86,492.18 L335.22,490.76 L335.58,489.33 L335.95,487.87 L336.31,486.40 L336.66,484.91 L337.00,483.41 L337.33,481.91 L337.65,480.41 L337.94,478.91 L338.22,477.42 L338.49,475.92 L338.75,474.43 L339.02,472.95 L339.28,471.47 L339.56,470.00 L339.85,468.53 L340.16,467.07 L340.49,465.62 L340.85,464.17 L341.24,462.74 L341.68,461.31 L342.16,459.89 L342.68,458.49 L343.26,457.09 L343.90,455.71 L344.61,454.33 L345.39,453.00 L346.29,451.78 L347.32,450.71 L348.51,449.86 L349.87,449.25 L351.33,448.76 L352.80,448.30 L354.21,447.73 L355.54,447.03 L356.77,446.21 L357.92,445.26 L358.99,444.22 L359.98,443.09 L360.90,441.89 L361.76,440.62 L362.55,439.31 L363.28,437.96 L363.95,436.59 L364.58,435.20 L365.16,433.81 L365.70,432.41 L366.21,430.99 L366.68,429.57 L367.14,428.15 L367.58,426.72 L368.00,425.29 L368.42,423.86 L368.84,422.43 L369.27,421.00 L369.71,419.57 L370.16,418.15 L370.63,416.73 L371.11,415.32 L371.60,413.90 L372.11,412.50 L372.62,411.09 L373.15,409.68 L373.68,408.28 L374.22,406.88 L374.77,405.48 L375.32,404.09 L375.88,402.69 L376.44,401.29 L377.00,399.90 L377.56,398.50 L378.13,397.11 L378.69,395.71 L379.25,394.31 L379.80,392.91 L380.35,391.52 L380.90,390.11 L381.44,388.71 L381.97,387.31 L382.49,385.90 L383.01,384.49 L383.52,383.08 L384.02,381.67 L384.51,380.25 L385.00,378.84 L385.47,377.42 L385.95,375.99 L386.41,374.57 L386.86,373.15 L387.31,371.72 L387.75,370.29 L388.19,368.86 L388.61,367.43 L389.03,365.99 L389.44,364.56 L389.85,363.12 L390.25,361.68 L390.64,360.23 L391.02,358.79 L391.40,357.35 L391.77,355.90 L392.13,354.45 L392.48,353.00 L392.83,351.55 L393.18,350.09 L393.51,348.64 L393.84,347.18 L394.16,345.72 L394.48,344.26 L394.78,342.80 L395.09,341.34 L395.38,339.87 L395.67,338.40 L395.95,336.94 L396.23,335.47 L396.50,334.00 L396.76,332.52 L397.02,331.05 L397.27,329.58 L397.52,328.10 L397.76,326.62 L397.99,325.14 L398.22,323.66 L398.44,322.18 L398.65,320.70 L398.86,319.22 L399.07,317.73 L399.27,316.25 L399.46,314.76 L399.66,313.27 L399.84,311.79 L400.02,310.30 L400.20,308.81 L400.38,307.31 L400.54,305.82 L400.71,304.33 L400.87,302.84 L401.03,301.34 L401.19,299.85 L401.34,298.35 L401.49,296.86 L401.63,295.36 L401.78,293.87 L401.92,292.37 L402.05,290.87 L402.19,289.37 L402.32,287.87 L402.45,286.38 L402.58,284.88 L402.71,283.38 L402.84,281.88 L402.96,280.38 L403.08,278.88 L403.21,277.38 L403.33,275.88 L403.45,274.38 L403.57,272.88 L403.68,271.38 L403.80,269.88 L403.92,268.38 L404.04,266.88 L404.16,265.39 L404.27,263.89 L404.39,262.39 L404.51,260.89 L404.63,259.39 L404.75,257.90 L404.87,256.40 L404.99,254.90 L405.12,253.41 L405.24,251.91 L405.37,250.42 L405.49,248.92 L405.62,247.43 L405.75,245.94 L405.89,244.44 L406.02,242.95 L406.16,241.46 L406.30,239.97 L406.44,238.48 L406.58,236.99 L406.72,235.50 L406.86,234.02 L407.01,232.53 L407.15,231.04 L407.30,229.55 L407.45,228.06 L407.60,226.58 L407.75,225.09 L407.90,223.60 L408.05,222.12 L408.20,220.63 L408.35,219.14 L408.50,217.65 L408.65,216.17 L408.80,214.68 L408.95,213.19 L409.10,211.70 L409.25,210.21 L409.40,208.72 L409.55,207.24 L409.70,205.75 L409.84,204.26 L409.99,202.76 L410.14,201.27 L410.28,199.78 L410.43,198.29 L410.57,196.79 L410.71,195.30 L410.85,193.80 L410.99,192.31 L411.12,190.81 L411.26,189.31 L411.39,187.81 L411.52,186.31 L411.65,184.81 L411.78,183.31 L411.91,181.81 L412.03,180.30 L412.16,178.80 L412.30,177.30 L412.43,175.80 L412.57,174.30 L412.72,172.80 L412.87,171.31 L413.03,169.82 L413.20,168.33 L413.37,166.84 L413.56,165.35 L413.75,163.87 L413.96,162.40 L414.18,160.93 L414.41,159.46 L414.65,158.00 L414.90,156.54 L415.15,155.08 L415.40,153.63 L415.65,152.18 L415.88,150.72 L416.09,149.27 L416.29,147.81 L416.50,146.34 L416.75,144.86 L417.08,143.35 L417.52,141.81 L418.12,140.24 L418.89,138.65 L419.82,137.34 L420.84,136.73 L421.91,137.13 L422.95,138.30 L423.86,139.84 L424.58,141.40 L425.13,142.91 L425.53,144.40 L425.83,145.86 L426.05,147.32 L426.24,148.77 L426.41,150.23 L426.59,151.70 L426.78,153.18 L426.96,154.67 L427.15,156.15 L427.34,157.65 L427.53,159.14 L427.73,160.63 L427.94,162.12 L428.15,163.60 L428.36,165.09 L428.58,166.57 L428.80,168.05 L429.03,169.53 L429.26,171.01 L429.49,172.49 L429.72,173.96 L429.96,175.44 L430.20,176.91 L430.43,178.38 L430.67,179.85 L430.91,181.33 L431.15,182.80 L431.39,184.27 L431.63,185.74 L431.86,187.21 L432.10,188.68 L432.33,190.15 L432.56,191.62 L432.79,193.10 L433.01,194.57 L433.23,196.04 L433.45,197.52 L433.66,198.99 L433.87,200.47 L434.07,201.95 L434.27,203.43 L434.46,204.91 L434.65,206.39 L434.83,207.88 L435.00,209.36 L435.16,210.85 L435.32,212.34 L435.47,213.84 L435.60,215.33 L435.74,216.83 L435.86,218.33 L435.98,219.84 L436.09,221.34 L436.20,222.85 L436.30,224.36 L436.39,225.87 L436.49,227.38 L436.58,228.89 L436.67,230.40 L436.76,231.91 L436.85,233.43 L436.94,234.94 L437.03,236.45 L437.12,237.97 L437.22,239.48 L437.31,240.99 L437.42,242.50 L437.52,244.01 L437.63,245.52 L437.75,247.03 L437.88,248.53 L438.01,250.04 L438.15,251.54 L438.30,253.04 L438.46,254.54 L438.63,256.03 L438.80,257.52 L439.00,259.01 L439.20,260.50 L439.42,261.98 L439.65,263.46 L439.89,264.93 L440.15,266.41 L440.43,267.87 L440.72,269.34 L441.03,270.79 L441.36,272.25 L441.71,273.70 L442.08,275.14 L442.46,276.58 L442.87,278.01 L443.30,279.44 L443.75,280.86 L444.22,282.28 L444.70,283.69 L445.20,285.10 L445.72,286.50 L446.24,287.90 L446.78,289.30 L447.33,290.70 L447.89,292.09 L448.45,293.48 L449.02,294.87 L449.60,296.26 L450.18,297.65 L450.76,299.04 L451.33,300.43 L451.91,301.81 L452.49,303.20 L453.06,304.59 L453.62,305.98 L454.18,307.38 L454.73,308.77 L455.27,310.17 L455.79,311.57 L456.31,312.98 L456.81,314.38 L457.29,315.80 L457.76,317.21 L458.21,318.63 L458.65,320.06 L459.08,321.48 L459.49,322.91 L459.90,324.35 L460.29,325.79 L460.66,327.23 L461.03,328.67 L461.39,330.12 L461.74,331.56 L462.09,333.01 L462.42,334.47 L462.75,335.92 L463.07,337.38 L463.38,338.84 L463.70,340.30 L464.00,341.76 L464.30,343.23 L464.60,344.69 L464.90,346.16 L465.19,347.63 L465.49,349.10 L465.78,350.57 L466.08,352.04 L466.37,353.51 L466.67,354.98 L466.96,356.45 L467.26,357.92 L467.57,359.39 L467.88,360.86 L468.19,362.33 L468.51,363.80 L468.83,365.27 L469.16,366.74 L469.50,368.20 L469.84,369.67 L470.19,371.13 L470.55,372.59 L470.92,374.05 L471.29,375.51 L471.67,376.97 L472.06,378.42 L472.46,379.87 L472.87,381.31 L473.28,382.76 L473.71,384.20 L474.15,385.63 L474.59,387.06 L475.05,388.49 L475.52,389.91 L476.00,391.33 L476.49,392.74 L476.99,394.15 L477.51,395.55 L478.04,396.95 L478.58,398.34 L479.13,399.73 L479.70,401.11 L480.28,402.48 L480.87,403.85 L481.48,405.21 L482.10,406.56 L482.73,407.90 L483.39,409.24 L484.05,410.57 L484.74,411.89 L485.43,413.21 L486.14,414.52 L486.85,415.83 L487.56,417.14 L488.27,418.45 L488.97,419.77 L489.65,421.10 L490.33,422.44 L490.98,423.80 L491.60,425.17 L492.20,426.57 L492.76,427.99 L493.29,429.43 L493.77,430.89 L494.23,432.38 L494.67,433.88 L495.11,435.37 L495.57,436.84 L496.06,438.29 L496.61,439.70 L497.21,441.06 L497.90,442.36 L498.68,443.59 L499.58,444.73 L500.60,445.77 L501.74,446.73 L502.97,447.62 L504.25,448.48 L505.54,449.32 L506.82,450.18 L508.04,451.08 L509.17,452.05 L510.19,453.11 L511.11,454.24 L511.93,455.44 L512.66,456.71 L513.33,458.03 L513.93,459.39 L514.48,460.78 L514.99,462.20 L515.46,463.63 L515.92,465.08 L516.36,466.52 L516.79,467.97 L517.20,469.42 L517.61,470.88 L517.99,472.33 L518.37,473.79 L518.73,475.25 L519.08,476.72 L519.42,478.18 L519.76,479.65 L520.08,481.12 L520.39,482.59 L520.69,484.06 L520.99,485.54 L521.27,487.01 L521.55,488.49 L521.82,489.97 L522.09,491.44 L522.35,492.92 L522.60,494.40 L522.85,495.89 L523.10,497.37 L523.34,498.85 L523.58,500.33 L523.82,501.81 L524.05,503.30 L524.28,504.78 L524.51,506.26 L524.74,507.74 L524.97,509.22 L525.20,510.71 L525.43,512.19 L525.66,513.67 L525.89,515.14 L526.12,516.62 L526.36,518.10 L526.60,519.57 L526.85,521.05 L527.09,522.52 L527.34,523.99 L527.59,525.46 L527.85,526.94 L528.10,528.41 L528.36,529.87 L528.62,531.34 L528.89,532.81 L529.15,534.28 L529.42,535.75 L529.69,537.22 L529.96,538.69 L530.23,540.15 L530.50,541.62 L530.78,543.09 L531.05,544.56 L531.33,546.03 L531.60,547.50 L531.88,548.97 L532.16,550.44 L532.44,551.92 L532.71,553.39 L532.99,554.86 L533.27,556.34 L533.55,557.82 L533.83,559.30 L534.10,560.78 L534.38,562.26 L534.66,563.74 L534.93,565.23 L535.21,566.71 L535.48,568.20 L535.76,569.69 L536.04,571.18 L536.34,572.67 L536.67,574.15 L537.05,575.61 L537.47,577.07 L537.96,578.51 L538.53,579.92 L539.17,581.32 L539.92,582.68 L540.77,584.02 L541.74,585.28 L542.81,586.10 L543.95,585.99 L545.08,585.05 L546.11,583.78 L546.99,582.45 L547.74,581.08 L548.36,579.67 L548.88,578.23 L549.31,576.78 L549.68,575.30 L550.00,573.81 L550.28,572.32 L550.56,570.82 L550.83,569.33 L551.12,567.84 L551.41,566.36 L551.72,564.89 L552.04,563.42 L552.37,561.95 L552.70,560.49 L553.04,559.04 L553.38,557.59 L553.73,556.13 L554.07,554.68 L554.42,553.24 L554.77,551.79 L555.11,550.34 L555.45,548.89 L555.79,547.44 L556.12,545.99 L556.45,544.53 L556.77,543.07 L557.08,541.62 L557.39,540.16 L557.70,538.69 L558.00,537.23 L558.29,535.76 L558.58,534.30 L558.87,532.83 L559.15,531.36 L559.43,529.89 L559.70,528.41 L559.97,526.94 L560.23,525.46 L560.49,523.99 L560.75,522.51 L561.00,521.03 L561.25,519.55 L561.50,518.07 L561.75,516.59 L561.99,515.10 L562.22,513.62 L562.46,512.14 L562.69,510.65 L562.92,509.17 L563.15,507.68 L563.38,506.19 L563.60,504.71 L563.82,503.22 L564.04,501.73 L564.26,500.25 L564.48,498.76 L564.69,497.27 L564.91,495.78 L565.12,494.29 L565.33,492.81 L565.54,491.32 L565.75,489.83 L565.96,488.34 L566.17,486.86 L566.38,485.37 L566.59,483.88 L566.80,482.39 L567.00,480.91 L567.21,479.42 L567.41,477.93 L567.62,476.45 L567.82,474.96 L568.02,473.47 L568.23,471.99 L568.43,470.50 L568.63,469.02 L568.83,467.53 L569.03,466.04 L569.23,464.56 L569.43,463.07 L569.63,461.59 L569.83,460.10 L570.03,458.62 L570.23,457.13 L570.43,455.65 L570.62,454.16 L570.82,452.68 L571.02,451.19 L571.21,449.71 L571.41,448.22 L571.61,446.74 L571.80,445.25 L572.00,443.77 L572.19,442.28 L572.39,440.80 L572.59,439.32 L572.78,437.83 L572.98,436.35 L573.17,434.86 L573.37,433.38 L573.56,431.90 L573.76,430.41 L573.95,428.93 L574.15,427.44 L574.34,425.96 L574.54,424.48 L574.73,422.99 L574.93,421.51 L575.12,420.02 L575.32,418.54 L575.51,417.06 L575.71,415.57 L575.91,414.09 L576.10,412.61 L576.30,411.12 L576.50,409.64 L576.69,408.16 L576.89,406.67 L577.09,405.19 L577.29,403.71 L577.49,402.22 L577.68,400.74 L577.88,399.26 L578.08,397.77 L578.28,396.29 L578.48,394.81 L578.69,393.32 L578.89,391.84 L579.09,390.36 L579.29,388.87 L579.49,387.39 L579.70,385.91 L579.90,384.42 L580.11,382.94 L580.31,381.46 L580.52,379.97 L580.73,378.49 L580.93,377.01 L581.14,375.52 L581.35,374.04 L581.56,372.56 L581.77,371.07 L581.98,369.59 L582.19,368.11 L582.41,366.62 L582.62,365.14 L582.83,363.65 L583.05,362.17 L583.27,360.69 L583.48,359.20 L583.70,357.72 L583.92,356.23 L584.14,354.75 L584.36,353.27 L584.58,351.78 L584.81,350.30 L585.03,348.81 L585.25,347.33 L585.48,345.84 L585.71,344.36 L585.94,342.87 L586.17,341.39 L586.40,339.91 L586.63,338.42 L586.86,336.94 L587.10,335.45 L587.33,333.97 L587.57,332.48 L587.81,330.99 L588.05,329.51 L588.29,328.02 L588.53,326.54 L588.77,325.05 L589.02,323.57 L589.26,322.08 L589.51,320.59 L589.76,319.11 L590.01,317.62 L590.27,316.14 L590.52,314.65 L590.78,313.17 L591.04,311.69 L591.30,310.21 L591.57,308.73 L591.84,307.25 L592.12,305.77 L592.39,304.29 L592.67,302.82 L592.96,301.35 L593.25,299.88 L593.54,298.41 L593.84,296.94 L594.14,295.48 L594.45,294.02 L594.77,292.56 L595.08,291.11 L595.41,289.66 L595.74,288.21 L596.08,286.77 L596.42,285.33 L596.77,283.89 L597.12,282.45 L597.48,281.03 L597.85,279.60 L598.23,278.18 L598.61,276.76 L599.00,275.35 L599.40,273.95 L599.80,272.54 L600.22,271.15 L600.64,269.75 L601.08,268.36 L601.54,266.95 L602.03,265.52 L602.55,264.05 L603.12,262.55 L603.74,261.01 L604.43,259.48 L605.23,258.07 L606.18,256.85 L607.30,255.92 L608.61,255.37 L610.03,255.23 L611.40,255.51 L612.58,256.23 L613.51,257.33 L614.26,258.69 L614.88,260.21 L615.42,261.78 L615.91,263.32 L616.36,264.84 L616.77,266.34 L617.14,267.83 L617.49,269.29 L617.81,270.75 L618.10,272.19 L618.37,273.63 L618.61,275.06 L618.85,276.49 L619.07,277.92 L619.28,279.36 L619.48,280.79 L619.68,282.24 L619.87,283.69 L620.06,285.15 L620.25,286.61 L620.43,288.08 L620.61,289.56 L620.78,291.04 L620.95,292.52 L621.12,294.00 L621.29,295.49 L621.45,296.99 L621.61,298.48 L621.77,299.98 L621.92,301.48 L622.08,302.98 L622.23,304.48 L622.39,305.98 L622.54,307.48 L622.69,308.98 L622.84,310.48 L622.99,311.98 L623.14,313.48 L623.28,314.98 L623.43,316.48 L623.58,317.98 L623.72,319.48 L623.87,320.98 L624.01,322.48 L624.15,323.98 L624.30,325.48 L624.44,326.98 L624.58,328.48 L624.72,329.98 L624.86,331.48 L625.00,332.97 L625.14,334.47 L625.27,335.97 L625.41,337.47 L625.55,338.96 L625.68,340.46 L625.82,341.96 L625.95,343.45 L626.08,344.95 L626.22,346.45 L626.35,347.94 L626.48,349.44 L626.61,350.94 L626.74,352.43 L626.87,353.93 L627.00,355.42 L627.13,356.92 L627.25,358.41 L627.38,359.91 L627.51,361.40 L627.63,362.89 L627.76,364.39 L627.88,365.88 L628.01,367.37 L628.13,368.87 L628.25,370.36 L628.38,371.85 L628.50,373.35 L628.62,374.84 L628.74,376.33 L628.86,377.82 L628.98,379.31 L629.10,380.81 L629.22,382.30 L629.34,383.79 L629.45,385.28 L629.57,386.77 L629.69,388.26 L629.80,389.75 L629.92,391.24 L630.03,392.73 L630.15,394.22 L630.26,395.71 L630.38,397.20 L630.49,398.69 L630.60,400.17 L630.72,401.66 L630.83,403.15 L630.94,404.64 L631.05,406.13 L631.16,407.61 L631.27,409.10 L631.38,410.59 L631.49,412.07 L631.60,413.56 L631.71,415.05 L631.82,416.54 L631.93,418.02 L632.04,419.51 L632.15,421.00 L632.26,422.49 L632.37,423.97 L632.48,425.46 L632.59,426.95 L632.70,428.44 L632.81,429.93 L632.93,431.42 L633.04,432.91 L633.15,434.40 L633.26,435.89 L633.37,437.38 L633.49,438.87 L633.60,440.36 L633.71,441.85 L633.83,443.34 L633.94,444.84 L634.06,446.33 L634.17,447.83 L634.29,449.32 L634.41,450.82 L634.53,452.31 L634.64,453.81 L634.76,455.31 L634.88,456.81 L635.01,458.30 L635.13,459.80 L635.25,461.31 L635.38,462.81 L635.50,464.31 L635.63,465.81 L635.76,467.32 L635.88,468.82 L636.01,470.33 L636.15,471.84 L636.28,473.35 L636.41,474.86 L636.55,476.37 L636.68,477.88 L636.82,479.39 L636.96,480.91 L637.10,482.42 L637.24,483.94 L637.38,485.45 L637.53,486.97 L637.67,488.49 L637.82,490.01 L637.97,491.53 L638.12,493.05 L638.27,494.56 L638.42,496.08 L638.57,497.59 L638.72,499.11 L638.88,500.62 L639.03,502.13 L639.18,503.63 L639.34,505.14 L639.49,506.64 L639.65,508.14 L639.81,509.63 L639.96,511.12 L640.12,512.60 L640.27,514.09 L640.43,515.56 L640.59,517.03 L640.74,518.50 L640.90,519.96 L641.05,521.41 L641.21,522.86 L641.36,524.30 L641.51,525.74 L641.67,527.17 L641.82,528.59 L641.97,530.00 L642.13,531.42 L642.30,532.83 L642.47,534.23 L642.65,535.64 L642.84,537.05 L643.05,538.47 L643.27,539.89 L643.51,541.31 L643.76,542.74 L644.04,544.19 L644.34,545.64 L644.67,547.10 L645.02,548.58 L645.40,550.08 L645.81,551.59 L646.25,553.11 L646.73,554.66 L647.25,556.23 L647.80,557.82 L648.39,559.43 L649.02,561.07 L649.70,562.72 L650.44,564.28 L651.26,565.59 L652.18,566.51 L653.22,566.87 L654.38,566.58 L655.61,565.76 L656.83,564.60 L657.98,563.29 L658.99,561.97 L659.88,560.66 L660.67,559.36 L661.38,558.07 L662.04,556.77 L662.66,555.47 L663.26,554.16 L663.87,552.84 L664.49,551.50 L665.10,550.15 L665.72,548.79 L666.33,547.42 L666.94,546.04 L667.54,544.66 L668.13,543.26 L668.71,541.87 L669.27,540.46 L669.82,539.06 L670.35,537.64 L670.87,536.23 L671.37,534.81 L671.87,533.39 L672.35,531.96 L672.81,530.53 L673.26,529.10 L673.71,527.67 L674.14,526.23 L674.56,524.79 L674.97,523.35 L675.37,521.90 L675.76,520.45 L676.14,519.00 L676.51,517.55 L676.87,516.09 L677.23,514.64 L677.58,513.18 L677.92,511.72 L678.26,510.26 L678.59,508.79 L678.91,507.33 L679.23,505.86 L679.55,504.40 L679.86,502.93 L680.17,501.46 L680.47,499.99 L680.77,498.52 L681.07,497.05 L681.37,495.58 L681.67,494.11 L681.96,492.64 L682.26,491.17 L682.55,489.70 L682.85,488.23 L683.14,486.76 L683.44,485.29 L683.74,483.82 L684.04,482.36 L684.34,480.89 L684.65,479.42 L684.96,477.96 L685.27,476.49 L685.59,475.03 L685.90,473.57 L686.23,472.11 L686.55,470.65 L686.88,469.19 L687.21,467.73 L687.55,466.27 L687.89,464.82 L688.23,463.36 L688.58,461.91 L688.93,460.46 L689.29,459.01 L689.66,457.56 L690.03,456.11 L690.40,454.67 L690.78,453.22 L691.17,451.78 L691.56,450.34 L691.95,448.90 L692.36,447.46 L692.77,446.02 L693.19,444.59 L693.61,443.16 L694.04,441.73 L694.48,440.30 L694.92,438.87 L695.37,437.45 L695.83,436.02 L696.30,434.60 L696.77,433.18 L697.26,431.77 L697.75,430.35 L698.25,428.94 L698.76,427.53 L699.27,426.12 L699.80,424.71 L700.33,423.31 L700.88,421.91 L701.43,420.51 L702.00,419.12 L702.57,417.72 L703.15,416.33 L703.74,414.94 L704.34,413.55 L704.95,412.17 L705.55,410.78 L706.16,409.40 L706.77,408.02 L707.38,406.64 L707.98,405.25 L708.57,403.87 L709.15,402.49 L709.72,401.10 L710.28,399.72 L710.83,398.33 L711.36,396.94 L711.87,395.54 L712.35,394.14 L712.82,392.74 L713.26,391.34 L713.67,389.93 L714.05,388.52 L714.45,387.10 L714.94,385.66 L715.58,384.20 L716.42,382.79 L717.47,381.58 L718.74,380.72 L720.12,380.39 L721.49,380.73 L722.70,381.58 L723.66,382.71 L724.39,384.05 L724.95,385.52 L725.39,387.06 L725.77,388.63 L726.14,390.16 L726.51,391.64 L726.89,393.09 L727.27,394.52 L727.65,395.93 L728.02,397.33 L728.39,398.73 L728.75,400.14 L729.11,401.56 L729.45,402.98 L729.79,404.42 L730.12,405.87 L730.45,407.32 L730.76,408.78 L731.07,410.25 L731.38,411.72 L731.68,413.20 L731.98,414.68 L732.27,416.17 L732.55,417.66 L732.84,419.15 L733.11,420.64 L733.39,422.13 L733.66,423.62 L733.93,425.11 L734.20,426.60 L734.47,428.09 L734.73,429.57 L735.00,431.05 L735.26,432.53 L735.52,434.01 L735.78,435.48 L736.04,436.96 L736.29,438.43 L736.55,439.90 L736.81,441.37 L737.06,442.83 L737.32,444.30 L737.57,445.77 L737.83,447.24 L738.08,448.70 L738.34,450.17 L738.59,451.64 L738.85,453.10 L739.11,454.57 L739.36,456.04 L739.62,457.51 L739.88,458.98 L740.14,460.45 L740.40,461.93 L740.66,463.40 L740.93,464.88 L741.19,466.36 L741.46,467.84 L741.72,469.33 L742.00,470.82 L742.27,472.30 L742.56,473.79 L742.87,475.27 L743.19,476.74 L743.55,478.20 L743.93,479.65 L744.35,481.08 L744.81,482.50 L745.32,483.89 L745.88,485.26 L746.49,486.60 L747.16,487.91 L747.90,489.19 L748.71,490.44 L749.59,491.65 L750.56,492.82 L751.61,493.95 L752.75,495.03 L753.98,495.99 L755.32,496.74 L756.78,497.16 L758.31,497.31 L759.86,497.40 L761.35,497.64 L762.76,498.11 L764.08,498.78 L765.31,499.63 L766.46,500.60 L767.51,501.67 L768.49,502.79 L769.39,503.95 L770.21,505.16 L770.96,506.40 L771.64,507.69 L772.27,509.01 L772.84,510.35 L773.35,511.73 L773.82,513.13 L774.25,514.56 L774.64,516.00 L775.00,517.46 L775.33,518.94 L775.64,520.43 L775.93,521.92 L776.20,523.42 L776.47,524.92 L776.73,526.42 L776.99,527.93 L777.24,529.43 L777.49,530.93 L777.73,532.43 L777.98,533.93 L778.21,535.43 L778.45,536.93 L778.68,538.43 L778.90,539.92 L779.12,541.42 L779.34,542.92 L779.56,544.42 L779.77,545.91 L779.98,547.41 L780.18,548.91 L780.38,550.40 L780.58,551.90 L780.78,553.39 L780.97,554.89 L781.16,556.38 L781.35,557.88 L781.53,559.37 L781.71,560.87 L781.89,562.36 L782.06,563.85 L782.23,565.35 L782.40,566.84 L782.57,568.33 L782.73,569.82 L782.89,571.31 L783.05,572.81 L783.21,574.30 L783.37,575.79 L783.52,577.28 L783.67,578.77 L783.82,580.26 L783.96,581.75 L784.11,583.24 L784.25,584.73 L784.39,586.22 L784.53,587.71 L784.66,589.20 L784.80,590.69 L784.93,592.18 L785.06,593.67 L785.19,595.16 L785.32,596.65 L785.45,598.14 L785.58,599.63 L785.70,601.12 L785.82,602.60 L785.95,604.09 L786.07,605.58 L786.19,607.07 L786.30,608.56 L786.42,610.05 L786.54,611.54 L786.66,613.02 L786.77,614.51 L786.89,616.00 L787.00,617.49 L787.11,618.98 L787.23,620.47 L787.34,621.96 L787.45,623.44 L787.56,624.93 L787.67,626.42 L787.78,627.91 L787.89,629.40 L788.00,630.89 L788.11,632.38 L788.22,633.87 L788.33,635.35 L788.44,636.84 L788.55,638.33 L788.67,639.82 L788.78,641.31 L788.89,642.80 L789.00,644.29 L789.11,645.78 L789.22,647.27 L789.34,648.76 L789.45,650.25 L789.56,651.74 L789.68,653.24 L789.80,654.73 L789.91,656.22 L790.03,657.71 L790.15,659.20 L790.27,660.69 L790.39,662.19 L790.51,663.68 L790.63,665.17 L790.76,666.66 L790.88,668.16 L791.00,669.65 L791.13,671.14 L791.26,672.64 L791.39,674.13 L791.51,675.63 L791.64,677.12 L791.77,678.62 L791.90,680.11 L792.03,681.60 L792.17,683.10 L792.30,684.59 L792.43,686.09 L792.57,687.59 L792.70,689.08 L792.83,690.58 L792.97,692.07 L793.11,693.57 L793.24,695.06 L793.38,696.56 L793.52,698.06 L793.65,699.55 L793.79,701.05 L793.93,702.55 L794.07,704.04 L794.20,705.54 L794.34,707.04 L794.48,708.53 L794.62,710.03 L794.76,711.53 L794.90,713.02 L795.04,714.52 L795.18,716.02 L795.32,717.52 L795.46,719.01 L795.60,720.51 L795.74,722.01 L795.88,723.50 L796.02,725.00 L796.15,726.50 L796.29,728.00 L796.43,729.49 L796.57,730.99 L796.71,732.49 L796.85,733.98 L796.99,735.48 L797.12,736.98 L797.26,738.48 L797.40,739.97 L797.53,741.47 L797.67,742.97 L797.81,744.46 L797.94,745.96 L798.08,747.46 L798.21,748.95 L798.34,750.45 L798.48,751.95 L798.61,753.44 L798.74,754.94 L798.88,756.43 L799.01,757.93 L799.15,759.42 L799.29,760.92 L799.43,762.41 L799.57,763.90 L799.71,765.40 L799.86,766.89 L800.01,768.38 L800.17,769.87 L800.33,771.36 L800.50,772.85 L800.67,774.34 L800.84,775.82 L801.02,777.31 L801.21,778.79 L801.40,780.27 L801.60,781.75 L801.81,783.23 L802.03,784.71 L802.25,786.19 L802.48,787.66 L802.72,789.14 L802.97,790.61 L803.23,792.08 L803.50,793.55 L803.78,795.01 L804.07,796.48 L804.37,797.94 L804.68,799.40 L805.00,800.86 L805.34,802.31 L805.69,803.77 L806.05,805.22 L806.42,806.67 L806.80,808.11 L807.21,809.56 L807.62,811.00 L808.05,812.43 L808.49,813.87 L808.95,815.30 L809.43,816.73 L809.92,818.16 L810.42,819.58 L810.95,821.01 L811.49,822.42 L812.05,823.84 L812.63,825.24 L813.23,826.64 L813.85,828.02 L814.51,829.39 L815.18,830.74 L815.89,832.07 L816.63,833.38 L817.40,834.67 L818.21,835.92 L819.05,837.15 L819.93,838.34 L820.86,839.50 L821.82,840.62 L822.83,841.70 L823.88,842.74 L824.98,843.74 L826.11,844.70 L827.28,845.63 L828.48,846.53 L829.71,847.40 L830.96,848.26 L832.22,849.09 L833.50,849.91 L834.79,850.73 L836.09,851.53 L837.39,852.33 L838.69,853.14 L839.98,853.94 L841.26,854.76 L842.52,855.59 L843.77,856.43 L845.00,857.29 L846.21,858.17 L847.40,859.06 L848.57,859.98 L849.71,860.92 L850.83,861.88 L851.92,862.86 L852.99,863.87 L854.02,864.91 L855.02,865.98 L855.99,867.07 L856.93,868.20 L857.84,869.36 L858.71,870.55 L859.56,871.76 L860.38,873.00 L861.19,874.25 L861.98,875.53 L862.76,876.81 L863.54,878.11 L864.31,879.42 L865.09,880.73 L865.87,882.04 L866.66,883.35 L867.46,884.66 L868.28,885.96 L869.12,887.24 L869.99,888.52 L870.87,889.78 L871.78,891.02 L872.71,892.23 L873.67,893.42 L874.65,894.58 L875.66,895.71 L876.70,896.80 L877.77,897.86 L878.86,898.87 L879.98,899.84 L881.14,900.76 L882.32,901.63 L883.54,902.45 L884.78,903.21 L886.07,903.91 L887.38,904.55 L888.73,905.12 L890.12,905.62 L891.54,906.07 L892.98,906.45 L894.45,906.79 L895.94,907.07 L897.45,907.32 L898.97,907.52 L900.50,907.69 L902.04,907.84 L903.59,907.96 L905.14,908.05 L906.68,908.14 L908.23,908.21 L909.76,908.28 L911.28,908.35 L912.79,908.42 L914.28,908.50 L915.74,908.60 L917.19,908.71 L918.60,908.85 L919.99,909.01 L919.99,909.0 L180.00,909.0 Z" fill="url(#g_total)"/>
<path d="M1585.00,908.98 L1586.45,908.95 L1587.91,908.89 L1589.38,908.81 L1590.86,908.71 L1592.35,908.58 L1593.84,908.43 L1595.34,908.25 L1596.84,908.05 L1598.34,907.82 L1599.83,907.55 L1601.32,907.27 L1602.81,906.94 L1604.29,906.59 L1605.75,906.21 L1607.21,905.79 L1608.65,905.34 L1610.08,904.86 L1611.49,904.34 L1612.88,903.78 L1614.25,903.18 L1615.60,902.55 L1616.92,901.87 L1618.22,901.16 L1619.49,900.41 L1620.73,899.61 L1621.94,898.77 L1623.11,897.89 L1624.25,896.96 L1625.35,895.99 L1626.41,894.97 L1627.44,893.92 L1628.44,892.82 L1629.41,891.69 L1630.34,890.53 L1631.24,889.34 L1632.11,888.12 L1632.96,886.87 L1633.78,885.60 L1634.57,884.30 L1635.33,882.99 L1636.07,881.66 L1636.79,880.31 L1637.49,878.95 L1638.16,877.59 L1638.82,876.21 L1639.45,874.83 L1640.07,873.44 L1640.67,872.05 L1641.25,870.66 L1641.81,869.26 L1642.36,867.86 L1642.89,866.46 L1643.40,865.06 L1643.90,863.65 L1644.39,862.23 L1644.86,860.82 L1645.31,859.40 L1645.75,857.98 L1646.17,856.56 L1646.58,855.13 L1646.98,853.70 L1647.37,852.27 L1647.74,850.83 L1648.10,849.39 L1648.44,847.95 L1648.78,846.51 L1649.10,845.06 L1649.42,843.62 L1649.72,842.16 L1650.01,840.71 L1650.29,839.26 L1650.56,837.80 L1650.83,836.34 L1651.08,834.88 L1651.33,833.42 L1651.56,831.95 L1651.79,830.49 L1652.01,829.02 L1652.23,827.55 L1652.43,826.07 L1652.63,824.60 L1652.82,823.13 L1653.01,821.65 L1653.19,820.17 L1653.37,818.69 L1653.54,817.21 L1653.71,815.73 L1653.87,814.24 L1654.03,812.76 L1654.18,811.27 L1654.34,809.78 L1654.48,808.30 L1654.63,806.81 L1654.77,805.32 L1654.92,803.83 L1655.06,802.33 L1655.19,800.84 L1655.33,799.35 L1655.47,797.85 L1655.61,796.36 L1655.74,794.87 L1655.88,793.37 L1656.02,791.87 L1656.16,790.38 L1656.30,788.88 L1656.44,787.39 L1656.59,785.89 L1656.74,784.39 L1656.89,782.89 L1657.04,781.40 L1657.20,779.90 L1657.36,778.40 L1657.52,776.91 L1657.69,775.41 L1657.86,773.91 L1658.04,772.42 L1658.22,770.92 L1658.40,769.43 L1658.59,767.93 L1658.78,766.44 L1658.98,764.95 L1659.17,763.45 L1659.37,761.96 L1659.57,760.47 L1659.78,758.98 L1659.98,757.49 L1660.19,756.00 L1660.40,754.52 L1660.61,753.03 L1660.83,751.54 L1661.04,750.06 L1661.26,748.58 L1661.47,747.09 L1661.69,745.61 L1661.91,744.13 L1662.13,742.66 L1662.35,741.18 L1662.57,739.71 L1662.79,738.23 L1663.00,736.76 L1663.22,735.29 L1663.44,733.82 L1663.66,732.36 L1663.88,730.89 L1664.09,729.43 L1664.31,727.97 L1664.52,726.51 L1664.73,725.06 L1664.94,723.60 L1665.15,722.15 L1665.36,720.70 L1665.56,719.25 L1665.76,717.81 L1665.96,716.37 L1666.16,714.93 L1666.35,713.49 L1666.55,712.05 L1666.75,710.62 L1666.96,709.18 L1667.19,707.74 L1667.43,706.30 L1667.70,704.86 L1667.99,703.41 L1668.31,701.96 L1668.67,700.50 L1669.07,699.03 L1669.51,697.56 L1670.00,696.07 L1670.54,694.58 L1671.13,693.07 L1671.79,691.55 L1672.50,690.02 L1673.29,688.48 L1674.15,686.99 L1675.08,685.72 L1676.08,684.82 L1677.15,684.45 L1678.28,684.74 L1679.42,685.55 L1680.52,686.74 L1681.50,688.13 L1682.35,689.61 L1683.10,691.14 L1683.76,692.68 L1684.35,694.20 L1684.90,695.65 L1685.42,697.03 L1685.92,698.36 L1686.40,699.65 L1686.87,700.93 L1687.33,702.21 L1687.79,703.51 L1688.25,704.85 L1688.72,706.22 L1689.19,707.62 L1689.67,709.04 L1690.14,710.49 L1690.62,711.95 L1691.10,713.43 L1691.57,714.91 L1692.05,716.40 L1692.52,717.89 L1692.99,719.38 L1693.46,720.86 L1693.93,722.33 L1694.38,723.79 L1694.84,725.23 L1695.29,726.64 L1695.73,728.03 L1696.16,729.39 L1696.58,730.71 L1697.00,732.00 L1697.00,909.0 L1585.00,909.0 Z" fill="url(#g_total)"/></g>
<rect x="178.0" y="25.0" width="1515.0" height="884.0" fill="none" stroke="#000" stroke-width="4"/><line x1="178.00" y1="909.0" x2="178.00" y2="927.0" stroke="#000" stroke-width="4"/><text x="178.00" y="972" text-anchor="middle" class="t">-3</text><line x1="430.00" y1="909.0" x2="430.00" y2="927.0" stroke="#000" stroke-width="4"/><text x="430.00" y="972" text-anchor="middle" class="t">-2</text><line x1="683.00" y1="909.0" x2="683.00" y2="927.0" stroke="#000" stroke-width="4"/><text x="683.00" y="972" text-anchor="middle" class="t">-1</text><line x1="935.00" y1="909.0" x2="935.00" y2="927.0" stroke="#000" stroke-width="4"/><text x="935.00" y="972" text-anchor="middle" class="t">0</text><line x1="1188.00" y1="909.0" x2="1188.00" y2="927.0" stroke="#000" stroke-width="4"/><text x="1188.00" y="972" text-anchor="middle" class="t">1</text><line x1="1440.00" y1="909.0" x2="1440.00" y2="927.0" stroke="#000" stroke-width="4"/><text x="1440.00" y="972" text-anchor="middle" class="t">2</text><line x1="1693.00" y1="909.0" x2="1693.00" y2="927.0" stroke="#000" stroke-width="4"/><text x="1693.00" y="972" text-anchor="middle" class="t">3</text><line x1="304.50" y1="909.0" x2="304.50" y2="919.7" stroke="#000" stroke-width="3"/><line x1="557.50" y1="909.0" x2="557.50" y2="919.7" stroke="#000" stroke-width="3"/><line x1="809.50" y1="909.0" x2="809.50" y2="919.7" stroke="#000" stroke-width="3"/><line x1="1062.50" y1="909.0" x2="1062.50" y2="919.7" stroke="#000" stroke-width="3"/><line x1="1314.50" y1="909.0" x2="1314.50" y2="919.7" stroke="#000" stroke-width="3"/><line x1="1567.50" y1="909.0" x2="1567.50" y2="919.7" stroke="#000" stroke-width="3"/><line x1="178.0" y1="909.00" x2="161.0" y2="909.00" stroke="#000" stroke-width="4"/><text x="143.5" y="923.00" text-anchor="end" class="t">0</text><line x1="178.0" y1="798.00" x2="161.0" y2="798.00" stroke="#000" stroke-width="4"/><text x="143.5" y="812.00" text-anchor="end" class="t">1</text><line x1="178.0" y1="687.00" x2="161.0" y2="687.00" stroke="#000" stroke-width="4"/><text x="143.5" y="701.00" text-anchor="end" class="t">2</text><line x1="178.0" y1="576.00" x2="161.0" y2="576.00" stroke="#000" stroke-width="4"/><text x="143.5" y="590.00" text-anchor="end" class="t">3</text><line x1="178.0" y1="465.00" x2="161.0" y2="465.00" stroke="#000" stroke-width="4"/><text x="143.5" y="479.00" text-anchor="end" class="t">4</text><line x1="178.0" y1="354.00" x2="161.0" y2="354.00" stroke="#000" stroke-width="4"/><text x="143.5" y="368.00" text-anchor="end" class="t">5</text><line x1="178.0" y1="243.00" x2="161.0" y2="243.00" stroke="#000" stroke-width="4"/><text x="143.5" y="257.00" text-anchor="end" class="t">6</text><line x1="178.0" y1="132.00" x2="161.0" y2="132.00" stroke="#000" stroke-width="4"/><text x="143.5" y="146.00" text-anchor="end" class="t">7</text><line x1="178.0" y1="853.50" x2="168.2" y2="853.50" stroke="#000" stroke-width="3"/><line x1="178.0" y1="742.50" x2="168.2" y2="742.50" stroke="#000" stroke-width="3"/><line x1="178.0" y1="631.50" x2="168.2" y2="631.50" stroke="#000" stroke-width="3"/><line x1="178.0" y1="520.50" x2="168.2" y2="520.50" stroke="#000" stroke-width="3"/><line x1="178.0" y1="409.50" x2="168.2" y2="409.50" stroke="#000" stroke-width="3"/><line x1="178.0" y1="298.50" x2="168.2" y2="298.50" stroke="#000" stroke-width="3"/><line x1="178.0" y1="187.50" x2="168.2" y2="187.50" stroke="#000" stroke-width="3"/><line x1="178.0" y1="76.50" x2="168.2" y2="76.50" stroke="#000" stroke-width="3"/><text x="935.5" y="1040" text-anchor="middle" class="l">Energy [eV]</text><text transform="translate(61,468) rotate(-90)" x="0" y="0" text-anchor="middle" class="l">DOS [arb. unit]</text>
<rect x="1441.5" y="46.5" width="231" height="248" rx="8" ry="8" fill="#fff" fill-opacity="0.8" stroke="#dfdfdf" stroke-width="5"/><line x1="1457" y1="77.5" x2="1543" y2="77.5" stroke="#1f77b4" stroke-width="3"/><text x="1575" y="92.0" class="t">Br</text><line x1="1457" y1="136.5" x2="1543" y2="136.5" stroke="#ff7f0e" stroke-width="3"/><text x="1575" y="151.0" class="t">Lu</text><line x1="1457" y1="195.5" x2="1543" y2="195.5" stroke="#2ca02c" stroke-width="3"/><text x="1575" y="210.0" class="t">S</text><line x1="1457" y1="254.5" x2="1543" y2="254.5" stroke="#000000" stroke-width="3"/><text x="1575" y="269.0" class="t">total</text>
</svg></body></html>
